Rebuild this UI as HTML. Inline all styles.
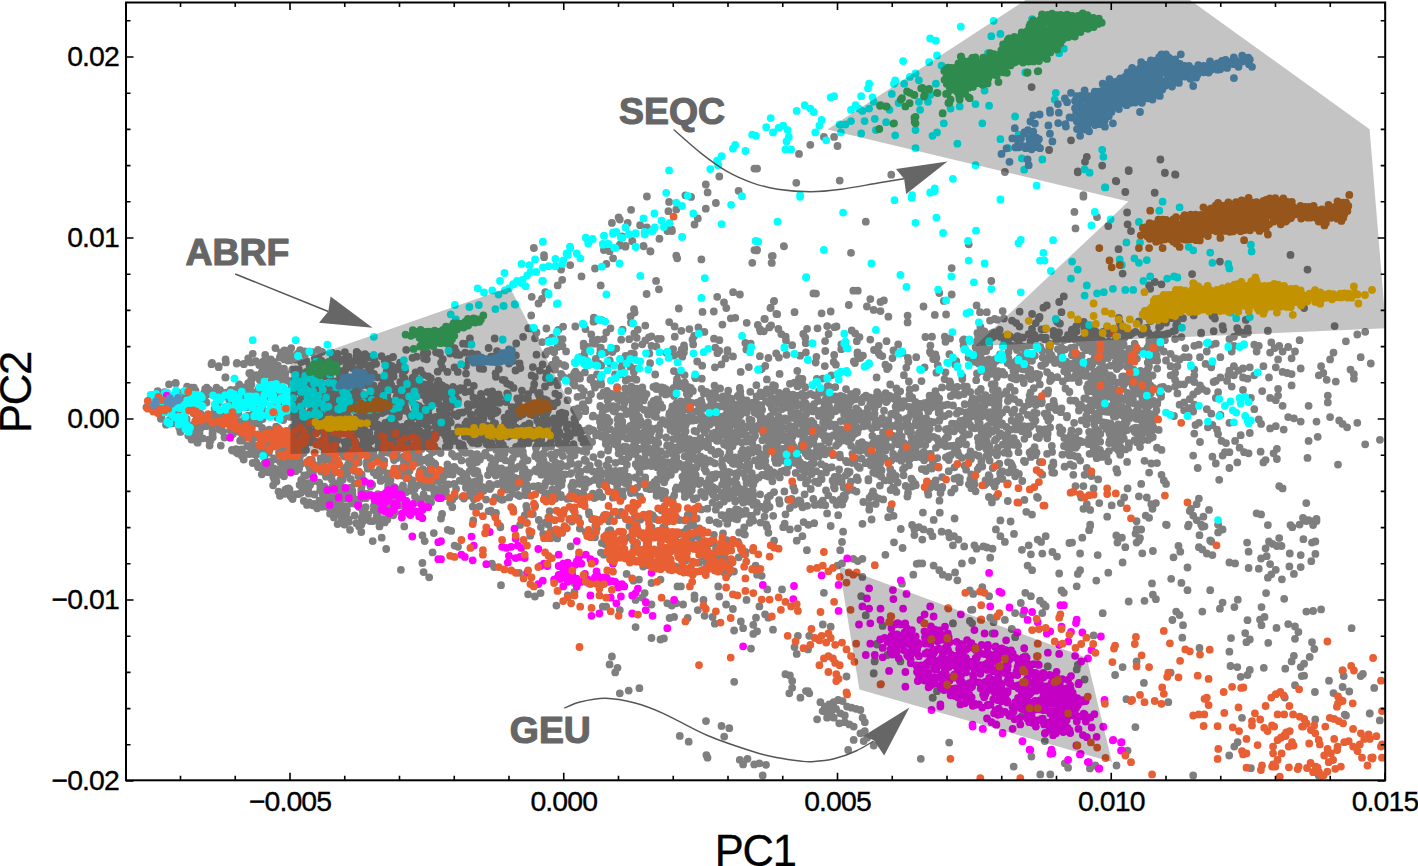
<!DOCTYPE html>
<html><head><meta charset="utf-8"><style>html,body{margin:0;padding:0;background:#fff;width:1418px;height:866px;overflow:hidden}</style></head>
<body><svg width="1418" height="866" viewBox="0 0 1418 866" style="position:absolute;left:0;top:0"><defs><clipPath id="c"><rect x="126" y="2.5" width="1259.2" height="777.8"/></clipPath></defs><g clip-path="url(#c)" stroke-linecap="round" stroke-width="7.8" fill="none"><path stroke="#7f7f7f" d="M337.0 362.7h0M302.7 414.0h0M315.0 419.4h0M398.8 400.7h0M333.4 415.2h0M306.2 361.0h0M345.8 424.8h0M236.6 452.5h0M278.0 402.5h0M379.7 472.3h0M360.4 400.4h0M188.3 435.6h0M370.8 450.3h0M403.9 404.9h0M350.2 454.0h0M315.8 429.8h0M393.3 515.3h0M284.3 466.2h0M387.9 399.8h0M258.0 467.0h0M181.5 393.3h0M387.1 501.2h0M226.0 422.7h0M428.4 376.4h0M195.5 390.6h0M212.5 434.9h0M318.6 396.0h0M253.0 449.1h0M427.0 470.8h0M296.6 458.1h0M344.5 359.4h0M411.1 486.5h0M403.6 489.6h0M259.9 419.8h0M173.2 413.6h0M326.0 376.0h0M218.2 410.8h0M281.9 434.7h0M245.1 396.3h0M390.0 378.3h0M300.4 375.7h0M304.9 354.7h0M400.3 471.8h0M220.8 414.2h0M301.7 486.3h0M241.2 389.0h0M384.8 522.4h0M397.1 491.1h0M386.9 479.5h0M210.6 440.6h0M151.3 398.9h0M428.0 428.3h0M427.6 413.8h0M208.7 389.7h0M329.0 507.6h0M393.4 433.9h0M337.6 489.9h0M414.1 486.9h0M366.5 433.7h0M432.6 419.3h0M359.0 379.8h0M412.6 491.1h0M435.1 465.0h0M247.4 446.0h0M432.3 463.7h0M389.2 386.9h0M218.0 401.3h0M220.3 423.3h0M248.4 430.2h0M292.5 443.1h0M299.0 353.3h0M274.2 382.0h0M194.4 432.9h0M359.1 447.4h0M240.1 440.7h0M308.5 487.2h0M217.1 398.5h0M373.1 438.8h0M310.4 483.0h0M414.9 427.6h0M325.5 438.5h0M295.6 471.2h0M277.8 443.3h0M351.4 503.4h0M423.8 395.4h0M393.3 374.0h0M179.2 427.4h0M164.6 392.1h0M376.6 507.0h0M339.8 375.0h0M261.7 435.3h0M438.0 495.7h0M191.1 425.5h0M296.7 409.3h0M201.3 405.7h0M358.2 353.4h0M308.1 427.1h0M148.4 408.0h0M328.9 439.6h0M377.9 520.0h0M174.2 396.5h0M387.1 395.3h0M313.0 472.6h0M348.1 424.4h0M332.1 490.3h0M278.2 409.4h0M300.0 391.7h0M236.0 403.4h0M369.3 400.7h0M292.0 381.1h0M361.5 446.4h0M199.5 433.1h0M387.0 425.6h0M290.5 496.1h0M260.1 438.7h0M347.9 521.9h0M353.6 461.3h0M263.6 410.8h0M402.4 467.3h0M227.0 392.4h0M230.3 430.4h0M189.9 428.0h0M432.8 445.7h0M235.2 412.4h0M284.4 438.0h0M202.9 438.3h0M169.7 419.9h0M233.7 390.7h0M317.5 442.6h0M366.7 465.1h0M356.4 503.8h0M259.1 407.1h0M358.8 462.6h0M408.8 459.8h0M361.7 492.1h0M293.3 496.1h0M382.8 494.6h0M317.1 506.2h0M346.5 471.3h0M182.7 413.1h0M309.4 459.9h0M329.6 469.1h0M288.8 350.6h0M380.7 480.9h0M292.9 443.7h0M339.5 361.6h0M362.6 394.1h0M165.2 396.5h0M360.3 385.9h0M363.5 520.8h0M290.2 416.9h0M285.7 469.6h0M371.6 458.0h0M334.5 363.6h0M186.9 394.4h0M364.5 403.3h0M312.2 352.2h0M161.1 397.0h0M343.3 471.1h0M344.4 400.9h0M296.9 431.3h0M282.0 370.7h0M409.3 384.9h0M387.3 519.4h0M276.9 397.0h0M387.4 439.0h0M407.3 473.1h0M287.9 354.3h0M277.3 402.8h0M184.9 410.2h0M393.1 371.0h0M419.1 474.8h0M411.7 400.7h0M253.9 418.8h0M440.6 453.1h0M250.5 424.9h0M217.3 396.5h0M295.3 383.2h0M406.5 492.1h0M331.0 509.8h0M423.3 446.1h0M357.4 358.7h0M361.2 428.9h0M367.3 462.8h0M283.7 410.1h0M433.9 395.5h0M338.5 402.6h0M309.1 419.0h0M291.1 388.5h0M277.1 374.4h0M214.3 395.2h0M312.7 505.3h0M366.4 422.2h0M266.3 441.7h0M255.3 409.2h0M161.5 398.6h0M293.0 460.2h0M400.1 387.8h0M223.8 393.5h0M262.1 428.0h0M427.3 498.5h0M409.9 432.8h0M318.0 350.0h0M389.0 499.7h0M432.7 393.5h0M298.7 469.4h0M423.6 476.3h0M335.9 483.8h0M279.3 446.5h0M335.4 403.2h0M181.1 394.1h0M332.6 472.3h0M299.3 452.0h0M258.6 389.1h0M322.1 351.8h0M232.9 430.6h0M428.8 462.8h0M406.4 433.2h0M213.0 393.2h0M429.3 473.3h0M291.5 468.0h0M268.2 395.0h0M341.9 511.9h0M243.7 423.6h0M346.4 384.7h0M380.5 479.3h0M293.5 385.9h0M432.0 404.6h0M387.4 390.4h0M290.7 382.8h0M209.6 423.0h0M341.3 516.0h0M186.6 418.9h0M160.9 418.8h0M410.7 504.6h0M361.4 524.6h0M420.6 407.6h0M365.4 355.6h0M341.0 416.3h0M254.4 408.0h0M226.4 411.5h0M430.4 386.3h0M388.0 425.7h0M200.5 413.7h0M371.5 357.1h0M417.2 395.0h0M365.7 507.2h0M244.0 397.7h0M428.4 458.0h0M237.3 398.2h0M416.1 460.9h0M212.7 433.2h0M258.2 393.9h0M271.1 436.4h0M419.6 382.0h0M382.2 479.2h0M388.2 485.2h0M324.0 407.4h0M238.2 413.3h0M376.1 363.8h0M354.5 428.2h0M212.8 422.9h0M327.9 468.0h0M365.9 498.2h0M341.0 371.2h0M393.6 401.4h0M311.9 415.3h0M362.9 384.9h0M216.7 392.9h0M315.3 407.1h0M294.2 390.5h0M383.9 464.3h0M284.5 493.3h0M393.5 510.0h0M155.0 401.4h0M432.9 452.1h0M420.2 415.1h0M401.1 428.6h0M320.7 458.5h0M207.9 414.5h0M337.2 385.6h0M146.4 407.3h0M345.1 382.4h0M380.0 445.9h0M260.8 446.3h0M333.5 366.0h0M265.1 399.6h0M236.1 449.1h0M249.4 422.9h0M251.4 384.5h0M360.0 385.6h0M280.4 378.4h0M333.9 509.2h0M253.5 438.3h0M186.5 399.6h0M382.8 519.2h0M286.9 359.3h0M419.0 417.9h0M412.5 458.6h0M388.7 378.0h0M377.2 388.9h0M390.1 382.0h0M208.0 420.0h0M297.3 417.1h0M179.7 393.2h0M359.0 507.0h0M368.7 356.7h0M392.8 370.6h0M321.7 446.3h0M329.9 403.6h0M268.2 452.0h0M269.9 465.3h0M276.1 426.7h0M288.9 391.2h0M370.5 486.5h0M279.6 381.4h0M284.0 368.7h0M181.3 425.4h0M295.0 357.1h0M332.7 364.4h0M361.6 486.1h0M295.4 359.5h0M293.2 416.1h0M361.2 492.6h0M416.0 378.9h0M377.9 512.9h0M162.5 411.4h0M368.3 377.8h0M410.2 398.1h0M386.1 375.1h0M205.1 396.0h0M293.8 405.8h0M345.5 506.7h0M332.6 413.0h0M403.1 447.2h0M315.9 504.4h0M330.7 419.0h0M380.7 396.3h0M438.2 451.0h0M274.8 380.9h0M364.6 358.5h0M387.3 394.4h0M317.6 466.1h0M326.6 425.6h0M337.6 353.9h0M174.7 412.5h0M318.5 385.7h0M328.9 433.1h0M402.6 486.9h0M262.8 396.2h0M310.6 411.3h0M335.4 427.7h0M422.3 478.4h0M264.0 391.6h0M423.4 374.9h0M294.1 462.3h0M385.4 380.6h0M235.2 402.5h0M376.3 475.2h0M365.1 431.4h0M364.0 429.2h0M350.1 497.9h0M355.1 396.5h0M308.0 426.3h0M378.0 441.6h0M430.6 388.0h0M220.6 391.3h0M364.7 515.3h0M365.4 407.2h0M405.3 407.5h0M330.9 471.2h0M341.2 521.3h0M350.9 500.1h0M273.3 476.8h0M313.0 403.9h0M349.4 460.9h0M350.7 478.9h0M387.2 506.0h0M395.6 492.1h0M332.0 494.4h0M331.2 400.3h0M368.7 385.9h0M238.1 424.2h0M252.7 406.1h0M430.3 438.2h0M396.7 458.2h0M273.1 485.3h0M303.3 387.9h0M399.9 365.9h0M387.3 379.8h0M370.1 521.1h0M289.5 489.4h0M198.0 436.6h0M351.4 437.2h0M350.8 487.7h0M330.1 412.2h0M262.6 419.1h0M204.4 396.1h0M411.6 437.7h0M212.6 430.7h0M301.4 482.0h0M367.4 463.1h0M246.8 407.2h0M340.3 479.8h0M193.5 426.8h0M373.5 451.4h0M180.6 430.9h0M406.8 391.6h0M200.1 402.8h0M352.5 497.6h0M216.8 407.1h0M298.6 378.2h0M433.6 477.5h0M173.3 417.2h0M436.2 489.1h0M361.5 426.1h0M349.6 437.6h0M331.4 431.1h0M413.6 425.3h0M314.0 481.1h0M268.5 390.0h0M358.2 504.0h0M373.7 472.5h0M397.0 468.9h0M334.2 429.4h0M172.2 423.4h0M376.1 474.8h0M330.6 393.8h0M269.2 429.7h0M328.2 421.6h0M344.2 512.8h0M374.9 418.0h0M423.3 440.9h0M304.2 475.5h0M295.6 461.9h0M390.0 441.3h0M224.8 419.9h0M268.3 472.2h0M247.9 396.4h0M423.1 442.2h0M259.8 387.1h0M384.3 461.0h0M282.8 448.4h0M387.0 492.8h0M282.5 401.5h0M306.4 371.9h0M391.5 412.1h0M396.5 396.8h0M255.1 394.4h0M270.0 382.5h0M226.8 392.9h0M232.9 433.9h0M270.7 461.5h0M339.5 413.4h0M419.8 499.5h0M412.9 487.2h0M331.7 352.6h0M338.5 393.8h0M412.4 488.5h0M324.3 486.7h0M342.2 506.4h0M377.8 496.8h0M301.2 479.8h0M308.4 396.3h0M289.9 360.2h0M282.2 375.3h0M289.4 437.2h0M303.8 501.0h0M282.5 448.4h0M341.3 497.1h0M254.7 423.3h0M332.8 461.3h0M346.4 513.0h0M295.2 434.8h0M357.0 459.4h0M252.1 433.0h0M299.6 484.9h0M205.8 426.2h0M268.9 447.0h0M389.4 401.3h0M389.7 420.7h0M293.1 397.5h0M338.1 488.6h0M241.6 405.5h0M332.2 487.2h0M406.9 445.4h0M157.8 402.6h0M417.6 456.5h0M339.1 488.1h0M414.1 457.1h0M326.8 459.7h0M350.5 454.4h0M345.9 387.2h0M341.8 430.1h0M370.3 367.7h0M373.8 510.0h0M338.4 414.6h0M388.1 487.6h0M310.5 395.2h0M233.0 423.8h0M237.9 425.4h0M334.2 513.4h0M384.5 450.7h0M416.8 428.1h0M435.3 433.2h0M265.9 367.9h0M335.1 387.1h0M357.4 392.4h0M361.6 382.8h0M355.6 499.7h0M360.5 364.8h0M330.3 474.1h0M356.7 352.0h0M386.6 363.9h0M287.9 360.5h0M252.5 450.6h0M273.7 468.5h0M330.7 423.1h0M424.6 487.3h0M311.9 401.2h0M352.6 494.8h0M241.9 456.0h0M434.3 495.5h0M322.1 404.0h0M322.3 506.8h0M383.6 399.6h0M268.9 452.7h0M386.2 505.3h0M384.9 501.8h0M313.4 397.9h0M396.7 491.2h0M347.0 509.9h0M308.0 489.5h0M420.7 391.0h0M323.9 468.6h0M281.7 386.2h0M378.9 430.5h0M373.1 390.8h0M406.8 441.3h0M285.0 453.1h0M251.1 448.8h0M262.9 440.5h0M440.1 415.5h0M377.6 377.3h0M321.0 410.4h0M297.8 353.6h0M401.1 435.1h0M312.0 395.8h0M375.2 424.5h0M425.1 484.3h0M387.0 518.6h0M309.1 502.4h0M321.2 419.5h0M333.9 517.4h0M342.6 418.8h0M276.6 378.0h0M219.2 411.6h0M412.0 508.3h0M377.3 474.2h0M368.0 514.4h0M344.7 402.3h0M319.3 482.6h0M174.4 406.7h0M286.4 379.5h0M344.9 352.2h0M356.7 384.1h0M401.3 505.5h0M184.6 428.3h0M394.0 460.0h0M277.8 409.5h0M388.3 433.6h0M330.2 375.0h0M355.7 446.8h0M222.4 422.1h0M189.4 397.4h0M393.2 408.5h0M193.0 435.9h0M342.1 387.0h0M285.3 400.1h0M172.1 400.7h0M359.5 401.4h0M383.5 409.7h0M391.0 442.2h0M198.4 426.2h0M414.8 388.2h0M313.3 374.2h0M355.1 384.4h0M324.3 436.7h0M325.5 473.9h0M384.9 452.0h0M361.3 421.4h0M358.1 359.7h0M384.6 408.7h0M393.9 501.3h0M289.9 352.7h0M414.2 433.4h0M402.9 396.6h0M252.4 378.6h0M253.6 454.1h0M275.8 440.2h0M386.3 501.5h0M427.3 436.6h0M296.0 442.8h0M303.1 353.6h0M431.3 389.1h0M351.3 384.1h0M314.8 441.5h0M352.4 368.0h0M402.1 475.5h0M290.1 437.6h0M263.9 374.0h0M319.4 500.7h0M365.5 378.8h0M389.2 514.1h0M258.8 423.6h0M393.2 442.0h0M374.5 409.2h0M214.6 408.6h0M382.7 509.7h0M385.9 498.3h0M217.3 423.9h0M331.5 413.8h0M301.2 362.1h0M272.0 438.3h0M432.0 485.9h0M422.2 460.8h0M384.2 504.8h0M334.2 396.5h0M345.2 397.9h0M328.1 393.9h0M298.1 425.9h0M426.4 400.3h0M427.9 439.9h0M223.0 431.6h0M302.1 376.0h0M230.5 421.1h0M228.9 392.6h0M393.2 456.7h0M312.9 463.8h0M280.3 445.9h0M325.6 432.1h0M235.5 392.4h0M209.0 439.7h0M257.2 452.5h0M399.8 391.7h0M308.9 436.0h0M402.6 427.0h0M161.5 417.9h0M274.1 478.7h0M428.9 479.3h0M189.0 409.0h0M326.7 498.7h0M387.7 440.6h0M363.2 480.1h0M369.4 433.2h0M376.9 474.0h0M415.6 372.3h0M371.2 452.5h0M313.4 423.1h0M376.5 502.7h0M324.0 416.4h0M277.8 430.1h0M358.5 401.3h0M259.4 447.2h0M257.6 406.3h0M377.5 498.7h0M291.9 427.7h0M197.9 403.2h0M316.3 365.4h0M417.2 406.7h0M394.3 496.7h0M428.7 385.8h0M311.4 437.0h0M417.3 485.4h0M297.2 440.5h0M347.2 418.2h0M249.6 454.1h0M344.6 441.9h0M172.5 415.5h0M262.5 448.2h0M314.1 504.0h0M430.4 435.2h0M274.2 459.3h0M439.8 410.1h0M301.0 492.8h0M193.9 405.7h0M434.6 494.6h0M295.8 369.3h0M409.6 470.7h0M407.7 423.7h0M189.6 400.7h0M295.5 438.4h0M330.8 455.5h0M332.7 357.4h0M394.0 452.6h0M342.1 384.4h0M291.4 446.8h0M314.2 421.9h0M369.3 368.7h0M298.7 494.0h0M325.7 491.2h0M372.6 406.5h0M356.2 411.9h0M193.5 396.7h0M316.5 411.1h0M277.1 417.5h0M274.0 458.5h0M420.4 499.6h0M386.1 403.1h0M215.4 418.2h0M357.1 388.7h0M287.3 488.7h0M249.8 382.6h0M432.5 400.9h0M310.3 370.1h0M302.1 417.5h0M263.2 361.5h0M247.7 392.9h0M200.0 399.6h0M341.0 409.7h0M170.6 397.2h0M391.8 372.4h0M382.9 377.9h0M293.4 389.8h0M277.9 372.9h0M353.5 395.6h0M411.1 452.8h0M252.7 393.1h0M324.2 387.2h0M403.0 371.5h0M295.9 445.0h0M257.7 465.1h0M312.2 404.4h0M259.2 365.1h0M250.7 437.6h0M235.8 389.6h0M227.1 420.6h0M413.9 485.6h0M406.1 500.7h0M182.4 398.4h0M340.8 411.5h0M265.9 465.3h0M351.4 393.5h0M395.3 411.6h0M330.4 381.8h0M361.7 474.7h0M233.3 416.6h0M154.7 404.4h0M333.2 381.4h0M393.2 449.8h0M356.6 394.6h0M272.6 469.8h0M391.6 485.9h0M397.5 456.3h0M366.4 365.1h0M350.0 418.9h0M365.8 495.0h0M425.0 424.2h0M420.2 471.0h0M363.1 495.2h0M330.2 429.2h0M270.6 439.6h0M370.1 357.6h0M352.4 491.0h0M220.8 445.6h0M431.9 461.6h0M305.1 393.7h0M160.7 412.6h0M265.7 385.2h0M353.7 467.3h0M213.9 392.3h0M296.6 427.9h0M421.9 411.5h0M306.4 483.1h0M321.4 430.7h0M371.3 495.5h0M177.1 400.6h0M250.4 386.1h0M161.0 399.2h0M276.5 369.8h0M239.7 432.0h0M251.2 379.4h0M438.7 481.3h0M435.1 448.6h0M272.4 383.2h0M304.8 351.5h0M417.0 462.8h0M330.1 513.7h0M337.5 394.0h0M393.2 401.9h0M395.0 512.2h0M390.5 479.9h0M388.9 406.0h0M252.8 446.4h0M311.9 459.9h0M387.3 473.5h0M290.3 437.4h0M189.9 402.4h0M316.2 364.0h0M348.0 378.6h0M274.0 383.4h0M393.6 499.7h0M377.5 424.5h0M296.4 423.7h0M243.9 426.8h0M341.5 494.6h0M412.4 378.8h0M231.1 427.6h0M310.9 410.9h0M239.5 430.6h0M429.6 458.5h0M384.7 360.5h0M344.6 456.6h0M426.9 434.1h0M335.9 402.4h0M345.2 428.3h0M253.9 451.6h0M267.1 442.7h0M311.3 419.4h0M408.2 445.9h0M301.2 394.0h0M288.8 447.0h0M318.4 364.0h0M264.6 362.9h0M307.1 475.1h0M368.6 370.1h0M438.2 476.3h0M259.8 380.0h0M429.1 448.5h0M373.9 373.9h0M374.3 360.1h0M213.6 415.2h0M206.5 402.5h0M353.8 424.5h0M407.8 458.7h0M402.9 448.5h0M416.4 502.4h0M345.8 494.5h0M179.6 415.3h0M362.7 515.9h0M358.1 357.6h0M322.9 367.4h0M306.6 490.5h0M344.2 394.6h0M200.6 428.2h0M392.8 451.7h0M256.5 375.2h0M403.9 444.2h0M348.5 491.4h0M381.5 356.2h0M345.5 418.7h0M284.8 377.7h0M394.8 418.8h0M403.2 456.9h0M165.6 407.6h0M318.6 357.6h0M193.6 413.2h0M282.4 451.0h0M258.6 411.9h0M343.0 397.7h0M224.5 437.5h0M310.1 484.9h0M403.0 485.5h0M331.7 461.1h0M251.1 399.3h0M380.0 502.7h0M422.7 469.2h0M363.4 439.1h0M332.3 411.3h0M307.1 421.0h0M161.0 409.0h0M286.5 414.3h0M215.5 391.1h0M278.0 428.0h0M312.5 402.9h0M232.8 404.0h0M359.5 446.5h0M422.4 409.6h0M417.5 452.1h0M410.9 398.3h0M192.0 396.9h0M352.9 388.2h0M262.1 385.1h0M322.7 501.2h0M336.1 384.4h0M361.7 518.5h0M322.1 363.9h0M384.2 503.2h0M403.9 462.0h0M418.0 387.1h0M336.4 420.9h0M345.3 409.1h0M242.7 436.5h0M321.2 395.0h0M281.1 352.4h0M418.7 448.7h0M326.0 476.7h0M371.6 365.7h0M385.6 424.1h0M303.5 453.0h0M308.4 465.0h0M322.3 407.9h0M363.8 395.1h0M355.0 483.6h0M374.2 404.1h0M373.2 521.0h0M278.0 398.7h0M284.8 464.7h0M373.7 413.4h0M437.9 389.9h0M368.5 365.7h0M308.5 381.8h0M423.0 414.0h0M362.8 511.3h0M374.9 392.5h0M435.7 437.3h0M332.6 410.2h0M381.6 430.5h0M424.6 459.7h0M209.8 394.1h0M221.2 425.9h0M369.2 462.5h0M402.0 396.8h0M367.0 494.0h0M227.2 408.0h0M321.1 429.3h0M315.6 504.5h0M400.3 381.9h0M346.5 365.8h0M356.5 504.3h0M348.5 356.6h0M293.4 390.5h0M271.3 368.4h0M183.5 425.0h0M292.2 369.7h0M248.4 436.8h0M416.8 411.2h0M406.2 478.0h0M264.6 447.4h0M348.1 464.3h0M305.1 446.0h0M348.7 521.9h0M403.5 475.6h0M262.0 405.7h0M258.3 417.4h0M265.2 375.0h0M255.3 392.1h0M394.2 487.2h0M349.9 406.8h0M335.6 446.1h0M397.3 439.3h0M364.5 416.3h0M355.2 418.9h0M299.8 457.2h0M344.8 406.4h0M330.4 445.0h0M284.0 476.3h0M298.6 433.4h0M419.3 442.5h0M299.1 442.3h0M385.4 391.8h0M280.2 462.1h0M389.6 506.5h0M386.7 371.5h0M188.8 394.0h0M173.6 412.4h0M382.4 441.2h0M277.9 365.4h0M350.1 428.6h0M285.5 489.7h0M369.1 376.2h0M345.7 414.2h0M298.2 391.6h0M253.5 409.5h0M357.0 398.1h0M239.6 392.3h0M391.6 366.0h0M332.6 500.3h0M203.1 424.1h0M379.1 458.1h0M274.9 414.3h0M355.3 401.7h0M264.6 463.4h0M384.6 411.7h0M257.8 451.3h0M418.6 383.5h0M432.5 474.6h0M368.3 416.4h0M299.7 436.9h0M411.6 482.5h0M280.8 430.9h0M393.2 422.6h0M274.1 436.0h0M295.5 494.3h0M342.8 479.6h0M345.6 446.9h0M372.2 484.7h0M367.5 448.8h0M354.9 434.5h0M267.5 452.2h0M440.4 492.9h0M402.8 375.5h0M242.6 440.7h0M224.9 395.9h0M236.3 394.6h0M398.9 447.2h0M295.3 423.5h0M158.2 403.3h0M401.3 490.3h0M398.3 395.0h0M303.0 415.4h0M281.3 435.6h0M317.0 414.0h0M381.8 385.0h0M417.0 447.3h0M158.2 405.0h0M301.9 421.6h0M311.3 406.6h0M382.1 453.6h0M333.5 358.6h0M400.1 362.6h0M320.7 381.5h0M417.9 448.2h0M381.6 437.2h0M343.8 468.1h0M392.8 375.5h0M416.5 386.2h0M376.7 516.4h0M266.6 465.3h0M347.4 377.1h0M230.5 390.7h0M316.5 405.8h0M310.1 376.9h0M414.7 406.8h0M393.7 376.6h0M381.2 521.5h0M256.2 462.1h0M209.6 445.5h0M360.0 425.2h0M345.3 370.0h0M389.9 371.4h0M422.9 442.1h0M229.6 410.9h0M366.6 436.9h0M321.1 444.6h0M394.9 389.8h0M338.6 358.8h0M242.3 428.7h0M309.6 366.7h0M307.4 487.9h0M320.5 430.7h0M248.2 415.6h0M340.6 378.7h0M403.3 434.0h0M405.0 370.5h0M290.8 443.8h0M294.0 414.2h0M201.9 420.7h0M288.5 488.4h0M313.0 470.6h0M188.8 396.2h0M297.4 401.1h0M315.4 390.9h0M320.4 487.2h0M354.8 360.9h0M327.2 471.1h0M385.8 409.9h0M384.5 430.8h0M423.2 422.1h0M264.3 365.4h0M345.3 376.5h0M440.2 488.5h0M286.0 437.0h0M375.2 508.9h0M366.9 461.4h0M395.0 487.7h0M430.8 467.7h0M365.2 373.6h0M389.9 514.0h0M412.6 480.4h0M391.1 490.4h0M318.9 426.2h0M388.9 487.3h0M402.5 402.3h0M429.4 443.0h0M431.6 487.8h0M279.5 391.4h0M347.2 474.3h0M379.5 469.5h0M423.6 494.5h0M264.1 365.2h0M337.4 496.3h0M244.2 454.1h0M392.2 488.8h0M385.1 423.3h0M323.2 430.1h0M243.0 387.4h0M327.5 401.1h0M169.2 397.4h0M352.0 427.4h0M340.0 491.2h0M197.9 397.5h0M428.4 413.4h0M324.9 506.4h0M260.5 437.4h0M427.8 438.7h0M437.6 383.2h0M390.5 378.4h0M300.1 350.1h0M278.5 491.6h0M217.7 411.7h0M400.0 439.9h0M409.4 466.6h0M331.3 415.8h0M298.6 468.4h0M413.3 437.2h0M346.7 447.5h0M276.4 481.4h0M408.6 477.6h0M366.4 356.1h0M427.0 506.0h0M314.9 358.2h0M334.2 399.2h0M370.2 401.0h0M305.2 423.6h0M434.5 463.5h0M382.9 468.4h0M354.5 470.9h0M314.4 494.5h0M379.5 410.8h0M404.5 378.4h0M363.0 379.9h0M231.7 417.0h0M198.8 404.1h0M424.2 384.5h0M238.6 426.7h0M175.3 395.5h0M260.4 417.5h0M430.2 396.7h0M332.9 486.3h0M368.6 432.3h0M309.5 467.4h0M367.3 398.2h0M300.7 400.5h0M330.8 395.5h0M372.9 357.2h0M389.3 449.1h0M222.1 392.6h0M367.6 468.7h0M176.2 403.7h0M331.9 471.1h0M373.8 419.0h0M423.2 479.9h0M244.8 418.7h0M383.1 411.2h0M301.5 441.2h0M342.5 507.8h0M182.8 409.3h0M292.6 499.1h0M342.0 451.1h0M263.3 450.4h0M378.0 496.7h0M367.7 437.6h0M410.7 507.3h0M364.4 493.7h0M336.4 503.8h0M352.7 457.2h0M322.8 494.2h0M344.5 520.6h0M382.0 413.0h0M351.4 362.6h0M392.9 406.9h0M184.4 398.1h0M308.4 491.3h0M330.6 409.5h0M241.6 449.5h0M384.0 444.0h0M269.3 361.0h0M330.7 476.8h0M317.3 420.0h0M295.6 453.0h0M439.7 490.7h0M429.5 407.6h0M285.4 373.4h0M278.3 469.5h0M354.1 429.6h0M263.1 399.5h0M296.8 426.8h0M201.6 396.5h0M310.0 472.7h0M433.0 480.8h0M358.3 475.9h0M358.2 460.3h0M221.6 412.2h0M438.5 403.5h0M382.7 429.6h0M414.7 489.1h0M284.9 493.8h0M310.9 438.9h0M205.4 394.1h0M354.6 515.4h0M435.2 426.4h0M361.3 417.2h0M384.9 497.2h0M390.4 487.6h0M281.2 357.6h0M407.9 443.5h0M164.2 406.6h0M329.1 504.9h0M287.4 461.9h0M204.3 392.6h0M412.9 417.0h0M279.0 452.5h0M332.6 473.7h0M274.0 361.8h0M358.9 359.4h0M283.3 420.0h0M343.5 474.9h0M349.2 432.5h0M321.5 361.0h0M211.2 418.7h0M377.8 494.2h0M331.9 479.8h0M433.9 490.5h0M420.2 461.8h0M416.9 396.0h0M368.6 368.2h0M433.0 474.2h0M191.5 439.6h0M408.1 510.4h0M308.7 493.7h0M292.7 458.5h0M320.2 489.9h0M305.6 400.9h0M365.0 354.2h0M390.2 492.0h0M279.5 371.4h0M336.7 386.2h0M270.9 369.3h0M434.0 445.6h0M360.6 498.7h0M395.8 367.7h0M252.5 403.0h0M370.2 375.9h0M349.4 454.8h0M298.0 429.7h0M264.4 456.9h0M336.3 510.4h0M361.3 489.4h0M415.0 496.5h0M356.6 355.4h0M345.9 498.7h0M274.6 473.6h0M218.3 402.6h0M246.8 406.8h0M435.3 464.5h0M420.8 483.4h0M367.3 398.0h0M217.4 422.2h0M407.1 511.2h0M373.9 505.7h0M379.8 443.1h0M252.4 444.0h0M430.8 378.2h0M301.2 463.7h0M348.6 519.3h0M356.3 523.2h0M195.5 426.6h0M347.7 470.9h0M365.3 481.8h0M217.0 395.0h0M205.3 395.4h0M430.4 462.6h0M319.2 464.8h0M321.2 471.6h0M431.9 470.3h0M233.3 421.6h0M348.5 427.9h0M360.0 366.6h0M420.8 409.9h0M390.0 389.6h0M397.8 490.5h0M342.9 398.6h0M412.7 377.7h0M339.5 452.7h0M340.0 381.6h0M435.8 417.0h0M337.4 449.7h0M218.0 414.1h0M298.9 369.5h0M228.0 416.6h0M370.9 389.2h0M257.5 413.9h0M334.1 432.6h0M340.8 496.4h0M273.6 370.3h0M280.1 474.5h0M285.9 380.4h0M211.8 427.0h0M250.6 432.1h0M422.1 447.1h0M364.8 448.5h0M398.7 369.3h0M424.2 441.8h0M400.7 387.2h0M167.8 396.4h0M418.4 430.7h0M360.9 363.0h0M278.0 405.6h0M436.3 434.3h0M337.6 440.1h0M363.7 444.0h0M212.8 437.3h0M323.3 463.9h0M424.8 479.6h0M398.5 414.4h0M412.0 381.8h0M273.8 374.6h0M262.8 468.8h0M212.5 433.5h0M328.1 387.9h0M391.5 385.3h0M440.9 429.9h0M238.9 421.2h0M219.8 429.5h0M310.4 474.6h0M184.0 392.1h0M298.6 451.7h0M317.5 429.2h0M340.2 500.5h0M428.2 397.1h0M423.7 421.4h0M229.3 400.6h0M431.1 502.3h0M268.2 442.6h0M395.9 491.2h0M337.7 439.7h0M177.7 392.7h0M339.1 452.6h0M381.7 507.3h0M429.8 383.7h0M313.0 381.8h0M349.2 394.7h0M213.5 414.1h0M299.1 468.5h0M329.0 432.5h0M343.3 489.9h0M345.0 474.1h0M336.0 381.5h0M428.6 487.5h0M212.4 425.4h0M428.5 386.3h0M411.2 390.7h0M362.1 412.9h0M340.7 484.2h0M481.2 407.8h0M508.7 413.3h0M452.2 397.0h0M568.9 432.6h0M465.5 452.8h0M553.0 468.1h0M682.5 484.4h0M502.8 475.8h0M535.8 412.0h0M708.6 489.4h0M445.7 446.9h0M495.6 467.0h0M442.2 408.7h0M524.5 468.9h0M477.0 496.8h0M546.6 445.3h0M541.9 432.2h0M458.3 390.5h0M492.2 391.4h0M637.6 467.1h0M523.8 479.0h0M457.1 399.2h0M692.1 480.2h0M470.7 453.3h0M501.3 468.5h0M694.3 478.9h0M484.5 404.1h0M522.4 432.9h0M608.9 470.6h0M450.7 470.5h0M510.6 416.4h0M642.5 466.4h0M634.6 492.7h0M505.5 418.9h0M490.6 408.3h0M684.0 483.4h0M540.4 470.1h0M458.5 456.2h0M734.5 489.7h0M478.7 443.3h0M463.1 428.4h0M541.2 439.6h0M665.4 476.3h0M558.1 435.9h0M733.2 496.7h0M584.6 459.6h0M750.1 493.7h0M481.6 438.2h0M462.6 473.8h0M468.0 429.2h0M457.1 416.0h0M492.7 446.5h0M495.7 475.6h0M575.1 422.3h0M479.8 410.4h0M522.8 472.6h0M721.9 493.0h0M587.5 469.5h0M502.0 499.8h0M474.7 481.7h0M547.7 411.0h0M521.4 438.7h0M495.4 473.1h0M548.6 403.4h0M572.8 482.7h0M444.3 475.4h0M632.1 492.4h0M708.3 482.4h0M524.8 425.7h0M559.0 424.1h0M512.6 493.7h0M570.3 459.5h0M720.5 474.4h0M518.0 494.9h0M670.3 474.4h0M706.8 486.0h0M456.1 488.8h0M547.9 477.9h0M687.4 488.7h0M508.4 422.6h0M463.3 388.5h0M586.6 430.2h0M693.8 499.3h0M538.6 459.0h0M539.1 489.2h0M626.1 483.7h0M572.2 490.1h0M555.1 425.4h0M480.3 494.3h0M452.0 453.9h0M577.2 469.7h0M606.0 482.6h0M511.0 473.1h0M577.5 427.6h0M664.6 496.2h0M504.5 417.7h0M544.6 471.5h0M499.8 448.4h0M598.6 463.6h0M486.1 499.6h0M680.3 488.6h0M554.9 495.5h0M599.3 492.3h0M724.6 499.4h0M601.9 496.6h0M639.8 480.4h0M574.5 455.3h0M522.6 414.5h0M573.4 444.2h0M442.8 422.5h0M666.8 473.5h0M515.7 412.0h0M630.9 493.0h0M504.6 453.2h0M668.0 473.7h0M665.3 468.8h0M526.8 484.8h0M485.8 437.5h0M546.9 475.8h0M518.2 404.9h0M491.8 431.3h0M492.0 407.3h0M467.8 404.1h0M540.5 443.1h0M498.8 440.0h0M594.2 498.1h0M568.1 424.3h0M574.9 424.0h0M489.0 488.0h0M552.7 458.7h0M577.3 417.3h0M615.6 462.8h0M672.5 498.7h0M486.8 425.7h0M709.2 478.9h0M626.9 464.7h0M548.1 498.1h0M498.5 394.4h0M723.7 480.1h0M449.4 420.4h0M592.1 442.0h0M555.5 491.9h0M551.2 446.5h0M562.9 456.1h0M557.7 428.5h0M555.3 494.1h0M545.7 482.7h0M491.5 466.2h0M447.9 404.1h0M459.7 480.7h0M487.3 408.5h0M459.1 413.0h0M672.0 470.0h0M727.8 498.4h0M614.5 495.2h0M469.2 495.6h0M676.6 487.3h0M716.0 474.2h0M453.0 387.0h0M476.4 400.3h0M498.0 456.2h0M577.9 428.9h0M520.8 409.1h0M497.7 399.0h0M551.6 472.1h0M459.6 446.3h0M579.5 478.9h0M547.1 429.5h0M738.2 487.4h0M485.9 401.9h0M561.7 466.3h0M442.4 480.3h0M442.8 479.8h0M571.4 463.7h0M620.5 471.0h0M742.0 496.1h0M559.6 413.6h0M725.7 479.0h0M689.3 482.7h0M541.3 474.7h0M523.6 456.4h0M490.9 487.2h0M488.0 475.1h0M621.6 493.4h0M528.1 394.2h0M471.7 441.7h0M557.7 495.0h0M575.4 451.5h0M695.7 474.8h0M584.7 487.9h0M567.4 498.8h0M519.5 481.9h0M451.5 439.7h0M468.4 486.4h0M587.3 438.6h0M667.4 471.1h0M549.1 496.6h0M499.4 397.1h0M499.6 442.5h0M546.9 400.5h0M472.0 494.2h0M586.9 482.9h0M744.0 495.4h0M491.6 465.5h0M493.8 397.1h0M589.1 441.6h0M525.4 426.0h0M615.5 475.2h0M743.3 502.7h0M485.2 452.8h0M450.0 405.6h0M480.1 415.5h0M555.1 498.7h0M554.5 455.6h0M656.5 495.8h0M456.5 433.3h0M572.0 492.8h0M626.7 483.0h0M445.1 405.3h0M497.5 484.0h0M473.0 496.5h0M525.2 490.1h0M475.8 473.3h0M526.2 398.5h0M555.7 462.7h0M554.1 492.5h0M521.3 397.7h0M490.8 398.7h0M626.4 480.1h0M491.4 442.9h0M571.0 447.9h0M445.8 387.3h0M574.1 409.6h0M470.2 439.7h0M563.1 421.9h0M652.1 484.3h0M583.6 442.9h0M466.9 421.5h0M469.0 461.1h0M574.4 418.6h0M602.3 497.1h0M518.0 399.3h0M537.2 420.5h0M455.3 395.3h0M490.3 458.1h0M459.4 443.4h0M674.9 469.6h0M511.2 429.8h0M546.5 413.3h0M567.2 466.1h0M463.2 447.9h0M753.0 495.0h0M472.5 442.8h0M735.2 481.8h0M657.0 467.2h0M455.2 469.4h0M624.6 470.4h0M550.6 466.9h0M556.5 469.0h0M469.8 470.8h0M489.9 489.0h0M560.9 463.9h0M442.1 385.3h0M552.4 489.3h0M727.3 478.3h0M502.9 444.8h0M558.7 443.8h0M528.4 442.9h0M683.6 468.0h0M519.4 495.7h0M532.5 430.3h0M664.2 482.3h0M593.0 471.4h0M508.1 436.5h0M553.8 418.3h0M554.2 474.3h0M514.6 478.0h0M647.2 464.5h0M641.1 466.7h0M691.6 472.1h0M526.0 440.9h0M665.3 491.9h0M708.4 488.5h0M579.4 432.7h0M498.8 399.7h0M529.5 495.3h0M709.3 491.3h0M478.6 492.8h0M579.5 429.7h0M447.4 428.8h0M558.1 475.2h0M545.9 464.9h0M447.4 464.3h0M504.1 486.9h0M543.5 460.5h0M479.5 406.6h0M539.1 432.1h0M555.4 492.8h0M516.7 487.1h0M517.7 453.4h0M691.9 481.3h0M525.8 477.0h0M458.1 427.5h0M512.8 458.1h0M686.0 485.3h0M522.9 474.1h0M469.6 437.7h0M470.5 391.4h0M557.2 434.1h0M558.1 487.6h0M507.0 489.7h0M553.7 421.9h0M477.0 462.1h0M544.5 485.6h0M547.7 432.2h0M567.6 400.2h0M649.7 463.1h0M581.6 430.7h0M514.3 478.7h0M585.0 484.0h0M559.1 471.7h0M450.1 407.5h0M495.5 460.7h0M593.3 457.1h0M483.4 418.6h0M635.3 477.5h0M580.4 483.8h0M619.5 474.1h0M555.7 436.1h0M746.5 482.8h0M735.2 501.5h0M446.0 491.3h0M579.6 483.8h0M449.2 422.1h0M461.8 389.0h0M491.3 416.6h0M528.8 495.0h0M726.2 488.8h0M732.8 481.3h0M469.8 495.6h0M503.0 499.5h0M529.6 473.1h0M511.6 407.2h0M449.4 474.2h0M675.7 489.5h0M553.4 406.2h0M550.4 471.5h0M600.6 478.4h0M503.3 470.3h0M552.3 481.6h0M470.7 414.5h0M559.7 452.3h0M509.6 434.7h0M441.6 479.8h0M521.0 483.8h0M712.8 478.3h0M654.6 481.9h0M578.6 464.2h0M472.7 431.5h0M510.7 488.3h0M498.6 452.2h0M500.8 439.4h0M599.7 484.6h0M446.3 496.2h0M621.4 461.0h0M558.1 440.0h0M461.5 460.4h0M614.5 471.6h0M472.8 484.9h0M535.5 437.7h0M558.0 478.6h0M660.6 477.5h0M452.6 474.6h0M570.7 496.4h0M564.6 419.1h0M463.9 498.5h0M578.7 476.1h0M497.1 430.8h0M586.3 451.9h0M518.2 449.7h0M557.2 490.1h0M482.3 417.5h0M665.5 471.0h0M505.4 460.3h0M647.9 462.2h0M447.9 435.2h0M543.4 454.7h0M612.9 481.0h0M477.4 471.4h0M462.5 497.0h0M448.9 470.5h0M557.1 402.5h0M565.4 442.7h0M578.1 408.5h0M644.6 484.1h0M564.9 474.4h0M454.3 436.1h0M579.8 475.4h0M528.0 399.1h0M736.6 492.2h0M516.0 450.1h0M581.0 494.5h0M536.4 453.3h0M536.0 469.5h0M447.1 426.9h0M480.9 439.2h0M446.0 398.9h0M469.5 404.3h0M520.3 410.1h0M629.3 487.9h0M578.7 415.2h0M527.6 460.3h0M467.9 480.1h0M477.2 443.6h0M599.7 469.9h0M558.8 431.5h0M750.0 491.6h0M752.9 497.9h0M522.0 481.8h0M466.1 487.9h0M496.3 412.4h0M586.7 469.2h0M471.2 462.6h0M473.9 439.5h0M645.6 465.9h0M454.6 403.9h0M574.8 426.8h0M660.3 472.6h0M500.2 498.7h0M675.0 469.4h0M736.7 484.2h0M539.4 426.1h0M692.6 485.3h0M494.6 399.5h0M489.8 469.6h0M511.4 486.0h0M544.7 486.1h0M536.3 413.4h0M578.2 427.5h0M445.0 487.7h0M472.4 468.7h0M518.5 415.8h0M752.7 490.8h0M480.3 486.0h0M447.6 468.9h0M614.2 481.6h0M489.6 447.5h0M524.7 429.9h0M501.3 468.5h0M621.5 477.4h0M731.4 481.6h0M473.2 421.7h0M663.5 496.4h0M644.4 462.8h0M736.3 477.2h0M581.3 437.7h0M475.6 457.5h0M656.4 491.6h0M481.2 397.0h0M581.4 479.1h0M464.9 436.6h0M446.6 440.1h0M571.3 486.2h0M515.9 418.1h0M542.7 455.9h0M574.2 484.6h0M561.8 412.7h0M473.2 471.4h0M477.5 454.9h0M528.1 495.0h0M701.2 491.9h0M519.0 452.1h0M560.3 417.0h0M545.5 447.9h0M585.9 449.0h0M663.1 498.4h0M445.4 420.0h0M645.2 480.0h0M516.0 427.7h0M512.3 468.1h0M543.5 453.3h0M550.0 480.4h0M496.1 449.8h0M684.8 496.9h0M446.9 413.8h0M596.3 497.0h0M492.4 485.1h0M566.1 448.5h0M544.8 399.5h0M483.1 418.0h0M479.4 480.2h0M699.4 482.6h0M509.3 497.4h0M441.3 488.4h0M682.4 476.6h0M640.6 484.1h0M703.7 495.1h0M539.8 465.4h0M656.6 486.1h0M520.3 447.8h0M483.6 487.4h0M660.6 464.1h0M479.4 477.3h0M471.9 415.2h0M474.6 423.6h0M464.1 474.1h0M469.8 463.5h0M467.3 410.9h0M650.0 489.2h0M569.9 436.2h0M450.8 422.6h0M517.2 478.6h0M666.0 478.0h0M608.5 467.4h0M481.1 428.1h0M533.3 415.3h0M543.5 415.3h0M731.3 497.4h0M582.6 450.9h0M599.1 476.1h0M490.3 434.1h0M561.5 484.9h0M479.9 459.6h0M674.2 495.4h0M581.5 438.5h0M728.3 493.2h0M708.1 482.4h0M558.9 483.6h0M508.3 474.1h0M588.6 431.4h0M502.9 480.0h0M559.2 431.8h0M622.6 491.3h0M462.7 444.9h0M551.6 432.3h0M495.1 497.4h0M575.1 411.3h0M540.4 441.7h0M457.9 399.9h0M549.9 477.8h0M454.4 388.3h0M651.3 466.1h0M560.8 494.9h0M462.1 449.2h0M454.8 440.9h0M451.8 472.1h0M499.6 402.7h0M608.7 459.8h0M472.6 421.8h0M513.7 485.4h0M445.1 435.6h0M714.6 477.8h0M514.2 468.0h0M535.1 470.4h0M551.2 475.1h0M621.5 481.9h0M506.6 478.0h0M614.4 474.5h0M522.6 463.2h0M580.6 471.6h0M538.9 422.9h0M471.2 423.6h0M495.5 471.5h0M477.8 473.9h0M487.5 392.1h0M520.3 444.4h0M526.1 490.5h0M677.2 466.9h0M740.1 499.6h0M445.1 421.3h0M542.1 404.8h0M576.5 492.3h0M448.5 484.5h0M507.8 394.6h0M497.6 411.3h0M537.1 445.7h0M684.9 470.5h0M549.2 494.7h0M483.2 490.7h0M732.5 490.9h0M451.6 467.6h0M516.0 447.0h0M598.0 463.2h0M501.6 458.3h0M500.1 468.9h0M454.0 414.3h0M478.1 398.6h0M637.2 487.6h0M480.9 407.2h0M612.9 497.7h0M478.0 486.1h0M684.9 473.7h0M687.8 470.4h0M541.0 465.6h0M570.3 473.8h0M454.7 496.7h0M562.1 480.4h0M589.5 481.5h0M535.9 448.1h0M448.9 441.2h0M465.9 487.4h0M747.9 498.3h0M662.8 470.9h0M628.4 481.8h0M454.0 397.1h0M507.1 398.3h0M571.2 498.3h0M442.0 432.4h0M473.9 499.2h0M706.0 471.5h0M454.3 466.9h0M486.7 444.0h0M524.8 409.9h0M585.8 460.9h0M620.5 491.3h0M446.2 421.1h0M539.6 395.5h0M670.9 474.8h0M536.0 471.1h0M505.9 449.4h0M628.5 476.9h0M493.8 423.0h0M700.6 480.6h0M507.2 393.3h0M669.0 473.2h0M645.2 477.4h0M596.6 474.6h0M575.1 432.7h0M577.2 450.1h0M554.9 428.9h0M575.5 426.4h0M446.3 470.2h0M565.5 436.1h0M716.2 497.4h0M531.1 438.2h0M722.2 484.6h0M516.9 411.9h0M660.9 479.6h0M588.9 428.4h0M514.6 479.8h0M713.0 487.2h0M477.0 454.2h0M460.1 471.5h0M462.6 481.1h0M721.8 496.6h0M519.6 496.1h0M513.1 422.8h0M579.5 481.7h0M498.3 470.0h0M545.2 498.1h0M570.3 457.9h0M451.7 395.5h0M537.4 457.3h0M521.2 453.2h0M527.8 477.8h0M490.1 412.7h0M579.2 493.5h0M493.1 404.0h0M482.5 406.7h0M545.7 429.4h0M590.7 429.6h0M684.9 492.9h0M575.0 495.2h0M606.5 465.2h0M561.1 413.9h0M483.6 490.7h0M554.3 467.3h0M586.1 445.8h0M506.2 402.1h0M546.9 465.2h0M462.7 412.5h0M507.7 482.9h0M519.3 416.4h0M529.2 423.3h0M690.1 478.6h0M660.9 490.6h0M455.0 400.5h0M522.3 446.0h0M576.4 410.3h0M472.7 404.9h0M643.5 465.2h0M529.9 414.1h0M454.7 456.5h0M551.2 403.3h0M578.3 496.3h0M519.0 400.6h0M639.3 462.1h0M495.8 410.2h0M615.4 470.9h0M454.2 483.9h0M446.8 419.7h0M486.1 455.3h0M533.7 486.4h0M657.2 479.3h0M483.1 400.6h0M562.3 448.9h0M544.9 496.7h0M713.3 495.1h0M478.0 411.9h0M471.7 489.4h0M542.4 430.9h0M663.3 479.4h0M691.8 490.1h0M541.0 398.2h0M558.0 422.9h0M489.4 484.0h0M586.1 481.5h0M548.0 420.1h0M602.7 473.2h0M712.4 475.0h0M527.2 490.6h0M467.7 404.4h0M570.2 449.7h0M469.3 495.0h0M473.4 397.3h0M444.4 409.6h0M608.3 476.3h0M490.2 445.9h0M566.4 439.9h0M536.8 471.5h0M594.3 479.8h0M555.6 490.2h0M618.3 480.6h0M443.3 492.2h0M547.4 469.2h0M455.3 395.4h0M465.0 451.2h0M542.4 412.6h0M727.3 484.8h0M538.1 455.3h0M480.0 423.2h0M480.7 432.8h0M751.6 484.3h0M672.5 466.1h0M453.6 438.3h0M711.9 489.9h0M709.9 482.0h0M526.4 472.2h0M443.0 424.2h0M551.0 454.7h0M476.4 485.5h0M547.5 493.6h0M544.7 418.2h0M626.7 483.2h0M460.9 447.9h0M622.9 496.7h0M739.3 489.6h0M521.9 482.6h0M446.8 432.0h0M556.7 452.7h0M515.5 468.5h0M755.3 480.0h0M585.5 479.3h0M746.5 495.8h0M617.1 486.1h0M503.7 487.4h0M448.8 447.1h0M499.3 431.4h0M441.9 391.5h0M521.5 480.9h0M712.4 490.2h0M576.9 409.6h0M511.2 434.9h0M540.5 439.4h0M492.1 430.3h0M473.0 458.4h0M583.7 494.8h0M474.1 473.3h0M481.4 456.5h0M589.8 465.7h0M499.6 438.0h0M614.2 492.1h0M544.5 407.8h0M639.6 472.3h0M519.1 466.3h0M646.4 488.3h0M505.1 423.2h0M537.4 439.6h0M441.5 388.9h0M452.5 434.0h0M449.5 445.7h0M523.8 477.5h0M442.3 411.2h0M542.0 490.3h0M535.2 456.2h0M730.5 494.7h0M672.8 467.5h0M525.1 495.1h0M548.3 423.6h0M725.4 481.8h0M442.3 432.2h0M476.2 470.7h0M696.0 478.7h0M445.2 391.6h0M706.3 483.7h0M683.9 480.2h0M685.0 495.9h0M543.2 422.7h0M571.2 473.1h0M662.3 491.0h0M538.4 486.0h0M569.6 450.9h0M465.2 392.1h0M539.1 395.4h0M456.4 469.6h0M505.9 470.3h0M512.6 450.6h0M565.3 413.6h0M487.8 488.1h0M640.2 496.6h0M495.2 413.0h0M536.2 447.5h0M592.8 493.7h0M622.9 459.7h0M625.3 478.2h0M749.9 479.1h0M480.9 394.0h0M511.0 462.3h0M522.6 427.8h0M522.9 410.5h0M543.1 431.8h0M554.4 420.5h0M447.0 484.7h0M441.9 409.2h0M505.7 482.5h0M478.0 419.9h0M635.7 464.2h0M446.1 484.7h0M713.4 493.1h0M464.9 476.2h0M495.1 423.3h0M504.1 487.5h0M699.0 484.1h0M561.2 497.0h0M522.9 451.8h0M483.8 414.7h0M606.3 486.7h0M517.2 398.4h0M465.3 423.8h0M468.6 407.4h0M449.4 391.7h0M466.3 476.6h0M516.7 453.7h0M574.3 447.5h0M743.2 501.3h0M513.8 477.7h0M510.7 468.7h0M663.6 470.6h0M589.1 446.6h0M495.1 435.5h0M550.7 442.5h0M529.6 424.0h0M541.6 472.8h0M596.4 479.5h0M442.6 396.6h0M505.9 426.1h0M566.8 428.2h0M452.3 499.7h0M462.0 473.1h0M721.4 364.4h0M684.9 382.6h0M719.4 340.2h0M932.0 336.7h0M679.7 354.1h0M655.2 374.5h0M600.4 349.3h0M887.1 369.0h0M930.4 345.6h0M899.7 353.1h0M931.0 353.5h0M771.1 325.3h0M636.4 379.7h0M802.4 379.0h0M631.1 353.7h0M759.8 329.1h0M676.7 382.8h0M863.0 355.6h0M816.8 378.8h0M956.3 361.2h0M590.4 379.5h0M636.7 337.8h0M625.5 355.8h0M805.9 352.4h0M760.4 331.3h0M860.8 357.5h0M695.1 377.0h0M950.3 382.9h0M727.4 351.7h0M673.9 371.1h0M775.0 385.9h0M929.9 351.8h0M612.4 352.1h0M779.6 373.9h0M645.3 340.4h0M817.5 328.3h0M874.0 350.0h0M944.8 336.7h0M925.4 337.0h0M600.8 347.7h0M963.6 345.4h0M778.9 357.6h0M609.7 360.3h0M750.7 343.6h0M906.3 367.6h0M827.8 385.9h0M962.3 379.1h0M620.4 374.3h0M878.7 353.2h0M973.3 361.5h0M622.5 362.3h0M822.8 378.6h0M963.9 339.3h0M677.0 379.2h0M615.1 374.3h0M933.2 359.1h0M815.7 362.5h0M882.3 356.1h0M834.5 327.2h0M892.5 358.1h0M714.5 385.6h0M805.3 337.7h0M799.0 378.5h0M719.2 350.7h0M828.6 334.0h0M805.7 343.2h0M761.7 369.1h0M697.2 361.5h0M902.4 352.8h0M825.1 341.1h0M673.7 355.7h0M785.7 336.7h0M879.9 355.0h0M714.0 338.7h0M908.9 381.5h0M950.0 338.4h0M598.8 363.7h0M580.0 378.5h0M845.0 344.2h0M748.8 367.1h0M634.9 346.1h0M888.7 366.9h0M807.1 328.8h0M657.9 338.9h0M802.0 383.0h0M794.5 382.6h0M759.9 356.2h0M683.9 352.6h0M949.4 354.2h0M650.1 363.2h0M776.2 353.4h0M945.5 372.3h0M853.8 361.4h0M834.2 355.0h0M908.4 361.7h0M936.4 358.0h0M636.6 368.6h0M944.5 379.1h0M831.4 375.3h0M605.5 352.6h0M898.2 344.5h0M628.3 379.1h0M595.8 358.8h0M956.3 362.8h0M803.3 334.0h0M704.4 331.9h0M757.8 325.0h0M835.9 364.7h0M936.4 372.7h0M600.6 379.3h0M789.9 383.8h0M769.3 327.4h0M855.2 333.4h0M968.5 357.6h0M935.4 354.5h0M702.2 365.7h0M857.5 352.4h0M681.6 349.7h0M859.5 337.1h0M633.9 353.9h0M836.5 326.4h0M680.0 386.1h0M678.2 372.9h0M766.9 379.4h0M854.9 363.0h0M765.3 365.9h0M781.3 334.1h0M851.7 330.5h0M695.5 378.2h0M800.1 355.7h0M857.5 354.5h0M725.5 358.4h0M937.7 365.2h0M634.1 378.4h0M684.6 375.1h0M833.7 361.9h0M870.3 339.6h0M907.9 357.8h0M876.6 377.4h0M673.1 349.1h0M924.6 367.3h0M768.4 358.0h0M714.9 367.3h0M786.5 354.8h0M674.8 336.7h0M841.4 344.5h0M949.7 381.5h0M963.0 340.3h0M778.4 328.9h0M773.1 385.2h0M878.8 346.0h0M681.9 383.5h0M591.3 377.8h0M955.2 364.6h0M727.5 350.1h0M816.4 356.8h0M921.5 381.1h0M885.4 364.7h0M835.3 326.9h0M600.7 381.3h0M717.4 353.2h0M827.2 326.1h0M797.3 370.8h0M633.8 372.1h0M962.3 376.5h0M890.2 384.5h0M860.3 358.1h0M903.9 375.2h0M824.8 366.1h0M642.3 344.3h0M701.8 378.7h0M886.5 341.2h0M601.3 384.7h0M715.3 347.6h0M916.2 357.2h0M825.3 351.0h0M756.4 385.2h0M682.3 356.7h0M763.8 331.3h0M629.3 355.4h0M893.5 350.5h0M593.9 383.7h0M625.7 380.4h0M588.3 364.9h0M629.2 339.2h0M740.7 371.9h0M746.3 349.6h0M733.0 356.4h0M683.7 384.9h0M792.2 345.2h0M844.0 346.0h0M945.5 341.8h0M745.3 343.0h0M786.0 340.5h0M841.2 349.2h0M856.8 341.2h0M841.7 431.4h0M997.5 447.9h0M963.9 394.0h0M1110.3 375.5h0M655.9 453.0h0M1052.1 451.9h0M825.1 440.2h0M960.7 411.3h0M624.5 398.1h0M1132.9 399.6h0M792.0 399.4h0M978.8 423.1h0M1068.7 339.2h0M1089.9 441.5h0M938.7 410.5h0M911.9 486.6h0M744.9 434.8h0M694.4 447.1h0M900.2 391.3h0M617.6 419.2h0M881.2 476.5h0M751.8 473.8h0M708.1 444.7h0M991.4 421.0h0M637.1 416.8h0M1129.6 402.7h0M901.5 407.7h0M1095.3 435.3h0M1070.4 400.5h0M928.9 430.6h0M1007.5 363.1h0M958.9 441.0h0M1140.0 419.6h0M1080.5 342.3h0M1066.9 417.3h0M699.0 405.3h0M614.7 435.5h0M700.3 456.4h0M673.3 454.3h0M937.4 458.1h0M1135.5 386.1h0M976.4 403.7h0M1024.4 438.8h0M771.2 477.2h0M973.9 480.3h0M1047.3 413.6h0M805.1 472.6h0M959.5 428.3h0M1089.9 340.5h0M1018.5 452.2h0M814.2 438.1h0M872.0 428.4h0M844.9 406.2h0M980.6 354.3h0M1022.9 428.9h0M624.9 428.3h0M679.1 464.6h0M1050.3 418.0h0M1080.7 367.3h0M769.7 424.0h0M1002.4 412.6h0M803.2 407.6h0M703.1 418.6h0M990.2 397.6h0M964.0 420.3h0M741.4 429.4h0M1140.5 370.8h0M731.6 423.4h0M673.7 388.0h0M1108.2 411.9h0M708.8 438.4h0M637.1 425.0h0M896.4 388.5h0M1013.1 441.5h0M1111.1 440.0h0M988.7 475.2h0M607.2 407.1h0M738.3 415.9h0M1089.1 431.8h0M1012.8 467.3h0M735.2 442.0h0M793.2 417.0h0M885.6 450.4h0M665.8 389.2h0M788.2 499.7h0M1023.4 362.9h0M1017.5 336.2h0M643.7 396.9h0M620.2 416.5h0M775.9 462.8h0M863.3 502.0h0M1071.9 364.6h0M906.2 426.2h0M671.1 390.5h0M935.4 391.1h0M1026.8 434.2h0M1062.2 350.1h0M1074.1 422.8h0M984.1 405.2h0M999.3 436.1h0M653.4 387.0h0M1017.4 337.8h0M945.9 429.4h0M995.3 391.9h0M853.8 417.5h0M1015.8 347.6h0M1102.4 397.9h0M730.0 430.8h0M878.8 420.7h0M1111.3 442.7h0M1096.3 387.7h0M993.3 483.8h0M1094.8 347.2h0M1067.9 378.0h0M1047.1 453.8h0M847.1 491.0h0M1140.4 434.2h0M1007.3 451.0h0M808.1 421.3h0M1073.4 455.6h0M979.7 423.2h0M911.0 450.3h0M1147.0 370.6h0M791.2 412.9h0M1135.7 429.2h0M975.1 354.1h0M992.9 390.0h0M915.6 454.5h0M763.5 463.0h0M713.2 417.2h0M1098.9 357.3h0M1015.8 472.5h0M757.7 428.8h0M800.4 503.8h0M754.4 407.9h0M757.8 447.8h0M1095.0 454.2h0M1000.0 422.6h0M1075.5 353.6h0M925.9 471.0h0M1032.1 451.4h0M607.2 417.8h0M729.9 440.2h0M806.2 413.9h0M890.1 436.8h0M1099.7 383.8h0M1117.1 356.8h0M784.4 491.4h0M1160.6 387.5h0M720.9 416.8h0M975.6 361.7h0M643.3 392.1h0M1093.1 342.4h0M957.3 386.9h0M1057.9 349.1h0M1018.7 343.1h0M626.2 446.8h0M656.9 450.2h0M1088.4 444.1h0M981.2 442.5h0M1033.7 424.1h0M921.4 420.2h0M1019.5 427.2h0M735.2 424.3h0M879.9 485.6h0M998.0 371.2h0M872.4 435.9h0M914.7 414.6h0M873.1 454.1h0M1094.3 424.2h0M1036.6 452.6h0M756.6 396.3h0M790.9 456.1h0M1120.1 362.6h0M793.3 486.8h0M1048.2 390.4h0M817.2 395.6h0M846.0 461.0h0M1026.0 365.4h0M689.4 393.9h0M675.5 417.4h0M648.4 448.0h0M978.1 391.8h0M984.4 360.3h0M738.6 408.2h0M1153.5 360.1h0M1053.4 464.6h0M593.4 430.4h0M1039.8 384.4h0M1147.7 362.6h0M653.6 401.0h0M1049.3 352.1h0M1039.4 429.1h0M1045.1 393.2h0M1000.3 422.7h0M1024.4 369.4h0M1076.2 456.6h0M662.1 460.5h0M593.1 415.7h0M723.0 467.3h0M997.6 453.3h0M950.8 455.2h0M1103.9 397.5h0M878.8 447.6h0M1120.8 447.4h0M876.8 468.0h0M895.6 406.6h0M769.4 403.2h0M701.6 389.0h0M841.6 481.3h0M644.7 424.2h0M1012.9 470.1h0M1141.7 440.4h0M958.6 394.9h0M637.3 433.7h0M810.8 489.0h0M964.6 465.7h0M909.0 465.3h0M915.5 438.4h0M989.6 460.6h0M859.7 467.9h0M951.2 492.4h0M819.3 450.6h0M1086.1 348.3h0M873.2 472.6h0M1128.6 394.3h0M700.6 407.5h0M824.0 448.8h0M1051.2 354.8h0M748.3 426.0h0M635.7 452.1h0M854.8 399.4h0M1032.7 354.4h0M891.1 396.9h0M829.8 426.1h0M795.3 432.6h0M623.6 407.8h0M1157.2 404.1h0M871.0 465.4h0M1053.3 462.4h0M796.8 458.1h0M688.8 441.8h0M674.2 395.9h0M1009.2 338.6h0M1091.4 350.9h0M935.6 480.4h0M1129.8 412.5h0M1079.2 341.0h0M1034.6 447.1h0M1032.0 360.8h0M619.6 425.5h0M930.8 453.9h0M676.6 433.2h0M1146.4 378.8h0M970.3 411.2h0M818.9 415.9h0M1105.2 397.7h0M1090.9 432.4h0M993.2 412.6h0M715.0 432.6h0M755.5 478.3h0M771.7 407.7h0M1161.1 396.8h0M883.0 432.5h0M858.8 466.8h0M1118.5 442.9h0M983.6 430.0h0M648.0 414.4h0M1153.4 400.8h0M650.4 410.3h0M605.7 440.0h0M916.3 419.2h0M779.3 425.5h0M769.6 507.0h0M772.4 481.3h0M1052.3 472.5h0M862.7 421.4h0M1071.9 355.3h0M862.4 413.4h0M811.5 420.8h0M1091.7 342.4h0M684.6 417.6h0M728.6 471.9h0M770.0 495.7h0M630.8 451.6h0M1049.6 343.8h0M1007.4 434.5h0M1018.7 416.7h0M683.8 443.7h0M924.0 424.7h0M1030.5 426.6h0M757.2 450.7h0M1134.7 343.6h0M1014.5 409.6h0M1069.1 450.8h0M1140.7 435.3h0M1047.8 393.5h0M1125.4 449.4h0M1134.6 440.1h0M1013.8 438.1h0M1012.1 413.1h0M644.2 431.7h0M1091.3 442.0h0M1015.2 476.3h0M829.8 413.1h0M827.1 396.8h0M747.3 458.1h0M977.7 469.3h0M766.2 507.1h0M997.8 390.5h0M1022.3 481.0h0M794.7 426.4h0M605.8 444.1h0M997.0 455.3h0M805.9 483.4h0M1097.0 347.0h0M960.2 422.9h0M890.4 480.4h0M760.1 494.3h0M1019.4 402.6h0M881.6 470.4h0M604.5 428.3h0M908.0 459.2h0M773.5 439.9h0M1007.9 401.0h0M975.6 491.3h0M789.8 426.0h0M857.9 480.1h0M803.5 447.8h0M869.3 461.4h0M799.4 433.9h0M919.3 414.4h0M770.7 447.4h0M673.6 418.9h0M731.1 432.7h0M979.4 424.6h0M1016.4 442.7h0M619.8 448.6h0M857.9 466.3h0M1127.6 395.8h0M1075.8 374.8h0M1060.8 412.2h0M840.5 421.1h0M981.9 443.5h0M1124.3 383.9h0M744.6 435.0h0M791.7 498.9h0M1154.7 357.3h0M971.3 488.2h0M636.7 388.6h0M649.6 409.7h0M786.3 460.8h0M820.2 446.3h0M648.7 440.6h0M1106.6 455.6h0M1023.6 346.6h0M1008.4 472.5h0M939.2 398.3h0M765.7 475.5h0M1146.4 398.2h0M824.4 411.5h0M754.9 460.4h0M1154.6 416.2h0M1078.7 404.3h0M821.1 473.8h0M989.3 478.1h0M886.3 402.1h0M1160.9 388.2h0M1124.5 337.7h0M784.1 470.6h0M970.5 451.4h0M1064.6 466.7h0M854.3 432.2h0M1048.3 420.5h0M853.0 418.8h0M1008.0 462.2h0M769.2 469.3h0M793.5 451.5h0M794.6 490.6h0M796.8 395.8h0M827.9 439.6h0M1122.4 346.1h0M1100.3 434.0h0M997.7 465.3h0M999.2 372.6h0M867.1 424.0h0M786.6 419.7h0M842.2 504.6h0M1110.5 365.7h0M1028.9 400.9h0M925.4 432.4h0M1010.1 387.0h0M973.3 398.9h0M1035.5 420.4h0M1102.9 425.8h0M954.4 478.7h0M1099.8 401.8h0M1157.4 402.5h0M1002.4 478.9h0M785.8 407.6h0M788.1 394.2h0M815.1 481.7h0M1040.4 431.8h0M952.1 386.8h0M797.2 421.4h0M1077.0 446.1h0M836.1 445.8h0M782.5 434.5h0M679.9 428.7h0M1010.3 397.4h0M1011.7 464.7h0M1071.5 430.4h0M915.1 453.6h0M896.4 491.9h0M936.7 405.5h0M941.0 406.3h0M911.4 478.7h0M729.3 426.5h0M1129.2 364.7h0M742.0 399.5h0M950.8 396.2h0M596.1 435.3h0M1000.7 358.2h0M980.9 362.8h0M622.2 395.9h0M1018.1 445.3h0M917.6 423.4h0M960.3 420.9h0M806.6 479.8h0M749.1 405.2h0M775.0 409.9h0M781.1 471.6h0M681.8 417.6h0M739.0 435.0h0M1030.1 355.0h0M954.6 452.3h0M750.3 391.8h0M1040.9 403.1h0M843.8 499.5h0M624.3 403.2h0M749.4 419.3h0M601.0 454.5h0M875.8 473.6h0M999.3 463.7h0M863.6 397.5h0M616.1 430.9h0M1030.0 355.3h0M628.9 453.6h0M849.6 471.9h0M814.8 504.9h0M1089.2 390.6h0M889.2 436.5h0M838.0 476.5h0M989.6 476.6h0M720.5 422.3h0M893.4 435.9h0M1078.7 431.3h0M1010.5 463.0h0M940.5 493.1h0M603.3 392.6h0M667.4 445.1h0M891.4 413.8h0M659.8 404.3h0M669.2 415.2h0M667.3 462.2h0M1091.2 391.0h0M620.0 447.4h0M1020.2 418.6h0M1100.2 360.5h0M829.7 423.5h0M1075.0 400.7h0M1123.0 388.5h0M779.7 503.6h0M981.1 410.1h0M632.7 398.2h0M820.3 503.3h0M1105.1 348.0h0M1038.9 438.0h0M825.3 505.2h0M1123.7 400.1h0M981.4 461.0h0M979.4 466.8h0M610.1 429.1h0M1006.7 409.1h0M678.6 408.8h0M931.2 484.0h0M1100.7 391.2h0M979.0 447.0h0M942.2 477.1h0M670.2 445.9h0M736.0 419.1h0M869.6 497.6h0M1000.4 433.5h0M1015.9 429.4h0M952.7 395.0h0M800.5 477.3h0M1070.2 464.3h0M835.7 427.7h0M1106.5 342.9h0M639.7 449.0h0M686.8 465.4h0M978.5 363.6h0M1046.7 416.9h0M984.2 349.5h0M791.6 456.8h0M1002.4 371.9h0M1126.8 353.5h0M945.6 446.3h0M688.3 443.5h0M896.8 441.5h0M680.1 417.5h0M1067.4 441.9h0M715.0 392.8h0M1093.1 344.2h0M854.5 423.8h0M1022.0 369.1h0M759.1 425.1h0M1017.8 422.5h0M650.0 451.4h0M900.3 438.1h0M640.5 393.1h0M789.5 462.6h0M1035.5 455.2h0M677.6 414.8h0M1114.9 365.2h0M777.6 441.5h0M981.2 414.8h0M884.7 480.4h0M627.0 438.5h0M758.6 465.7h0M995.1 406.9h0M987.0 432.5h0M715.5 454.3h0M1050.0 381.0h0M1107.3 389.3h0M1138.8 435.7h0M1035.2 399.1h0M842.6 436.6h0M1049.0 407.0h0M1104.9 372.5h0M598.3 433.6h0M939.0 403.5h0M1044.6 429.4h0M976.6 349.8h0M650.6 438.1h0M794.6 451.4h0M807.1 505.9h0M1023.8 383.1h0M765.3 425.6h0M1073.0 352.1h0M1100.2 451.0h0M922.8 405.4h0M797.0 405.2h0M995.8 411.6h0M994.7 486.6h0M1130.0 368.5h0M1054.4 405.0h0M825.0 438.8h0M1016.3 379.4h0M810.0 407.1h0M991.6 384.3h0M781.3 422.1h0M711.1 409.3h0M1014.9 422.3h0M603.3 395.4h0M800.7 431.8h0M1090.6 346.3h0M1109.2 351.4h0M899.6 429.3h0M813.6 443.3h0M1095.6 390.2h0M1092.6 438.6h0M1018.7 402.4h0M762.7 454.4h0M908.0 493.0h0M665.6 394.4h0M847.7 471.3h0M635.2 445.7h0M765.9 455.0h0M730.1 460.2h0M1051.2 379.4h0M997.2 419.6h0M705.0 464.4h0M843.6 487.5h0M1050.1 427.4h0M808.5 427.3h0M659.1 435.4h0M731.3 401.0h0M671.9 450.4h0M1149.0 353.4h0M786.9 419.8h0M1107.4 352.5h0M911.6 443.0h0M723.3 396.5h0M834.7 488.5h0M1032.2 418.0h0M611.0 396.9h0M1056.0 410.1h0M802.5 445.5h0M977.9 354.5h0M818.2 483.1h0M726.1 426.7h0M775.7 430.6h0M802.6 394.5h0M1120.2 454.8h0M847.6 398.2h0M1085.8 398.5h0M1113.7 398.4h0M1136.9 433.0h0M773.0 430.3h0M1060.4 433.0h0M1064.9 445.8h0M955.8 387.6h0M1024.0 426.2h0M760.6 506.6h0M1029.6 452.4h0M1069.7 455.4h0M798.9 500.3h0M1108.9 451.1h0M828.7 421.6h0M1064.3 437.9h0M847.3 474.0h0M582.7 404.2h0M719.1 440.2h0M780.7 440.0h0M1104.0 406.0h0M1067.1 416.0h0M1103.0 343.2h0M761.4 416.9h0M954.2 445.6h0M1155.9 351.2h0M733.9 463.9h0M1054.2 472.8h0M1076.4 444.4h0M929.4 408.6h0M1059.5 427.3h0M779.4 420.8h0M970.3 479.3h0M811.0 467.6h0M648.0 422.4h0M976.6 427.4h0M988.9 363.8h0M927.8 425.7h0M1000.1 354.4h0M1089.2 366.9h0M998.6 400.5h0M986.6 455.8h0M813.3 498.9h0M830.7 415.8h0M995.5 361.2h0M1103.0 392.5h0M1098.0 360.1h0M643.7 437.2h0M713.2 411.1h0M689.1 460.3h0M1008.7 453.7h0M996.1 429.7h0M959.9 478.1h0M966.1 444.4h0M874.6 413.7h0M1116.9 400.1h0M1156.4 410.5h0M662.5 420.2h0M861.6 402.0h0M1037.8 378.3h0M1147.3 371.7h0M709.2 460.4h0M732.9 405.8h0M1120.3 362.5h0M585.3 411.2h0M1010.5 429.6h0M976.2 380.2h0M804.3 465.0h0M890.6 490.0h0M1053.1 407.4h0M833.9 486.8h0M746.6 412.6h0M1153.3 388.0h0M891.1 447.2h0M769.2 443.8h0M820.8 478.8h0M901.3 460.7h0M911.0 455.6h0M786.3 391.3h0M882.2 418.1h0M989.2 346.5h0M644.8 459.0h0M1081.2 405.6h0M774.5 410.1h0M1027.8 414.9h0M1015.6 423.8h0M1011.6 420.5h0M915.6 407.7h0M908.0 431.6h0M631.4 432.8h0M1122.9 376.9h0M1030.9 379.1h0M994.7 383.8h0M924.3 469.1h0M752.8 430.9h0M1011.0 365.8h0M947.5 404.7h0M1023.9 460.8h0M788.8 437.0h0M656.8 440.4h0M1148.3 429.8h0M1118.7 450.7h0M697.7 461.7h0M935.7 400.5h0M982.3 466.5h0M828.3 495.3h0M1161.1 394.6h0M711.2 461.7h0M812.7 457.8h0M724.0 417.8h0M1084.3 398.4h0M790.2 428.6h0M653.6 406.2h0M647.4 447.5h0M894.7 398.9h0M993.7 373.0h0M931.7 407.2h0M1022.9 410.6h0M652.9 455.5h0M790.6 432.4h0M1089.6 361.7h0M903.0 469.5h0M988.0 478.8h0M821.0 410.6h0M1088.2 384.3h0M1117.8 359.3h0M821.6 479.2h0M724.1 444.5h0M1089.0 407.7h0M647.5 433.7h0M992.0 431.8h0M779.3 436.3h0M701.3 415.5h0M915.4 387.8h0M929.9 428.8h0M895.0 437.6h0M942.0 488.2h0M931.9 468.5h0M1123.2 437.3h0M1062.4 430.2h0M855.9 458.4h0M878.3 498.5h0M823.6 428.6h0M1029.8 375.4h0M880.0 468.6h0M923.7 452.0h0M928.3 494.7h0M889.7 395.8h0M805.7 403.4h0M1095.0 384.4h0M981.8 433.2h0M684.6 456.3h0M982.4 398.2h0M640.0 438.0h0M770.7 430.2h0M1086.4 350.1h0M702.7 408.8h0M1065.5 388.5h0M1139.1 350.7h0M1108.7 344.8h0M779.1 500.2h0M1107.7 382.5h0M697.2 402.7h0M1028.4 434.2h0M1116.1 410.0h0M1047.7 433.7h0M832.0 398.6h0M909.7 389.4h0M938.2 428.4h0M788.8 429.0h0M816.2 471.1h0M838.4 429.2h0M1159.6 393.1h0M1091.7 351.6h0M878.6 438.7h0M1069.3 391.6h0M1148.6 432.7h0M771.4 447.5h0M1004.6 452.7h0M971.7 401.6h0M996.1 395.8h0M791.3 407.1h0M1150.0 426.1h0M896.7 404.3h0M895.8 475.8h0M881.0 423.6h0M817.3 434.1h0M838.8 442.9h0M826.0 472.4h0M1014.3 399.1h0M1156.7 355.6h0M600.3 406.0h0M827.5 452.7h0M730.1 442.3h0M1102.1 352.2h0M919.3 404.1h0M699.3 441.6h0M604.5 422.0h0M1056.6 335.4h0M741.1 406.5h0M932.9 462.3h0M973.8 410.1h0M771.1 443.4h0M843.5 495.7h0M884.8 436.3h0M966.2 418.5h0M862.9 449.8h0M751.6 420.5h0M676.3 407.0h0M823.7 409.8h0M722.3 418.1h0M962.0 457.8h0M592.7 416.6h0M971.7 406.2h0M920.4 439.7h0M871.7 495.0h0M990.1 412.1h0M954.5 467.3h0M734.9 457.3h0M1028.7 404.3h0M1097.9 402.4h0M1099.6 457.1h0M804.9 418.3h0M755.1 435.7h0M966.9 386.7h0M849.7 485.9h0M655.7 443.8h0M797.8 422.8h0M761.3 395.8h0M861.2 449.3h0M1110.2 409.5h0M739.0 397.2h0M980.9 363.4h0M869.8 464.1h0M978.8 411.3h0M714.0 394.5h0M782.4 449.0h0M686.1 419.4h0M705.8 418.5h0M714.9 463.3h0M966.6 412.4h0M909.8 426.3h0M1011.5 468.7h0M828.8 468.1h0M1062.4 454.6h0M839.1 469.5h0M1008.5 352.0h0M1005.4 393.6h0M1051.8 445.9h0M747.6 463.2h0M929.6 467.5h0M983.6 415.3h0M921.4 433.1h0M739.8 388.0h0M870.4 403.3h0M989.6 447.3h0M824.5 403.2h0M601.4 420.7h0M1104.5 383.0h0M1012.3 466.3h0M962.8 438.1h0M718.4 451.7h0M876.6 396.3h0M1109.1 443.0h0M773.1 447.4h0M1096.1 415.2h0M1047.1 372.1h0M1047.3 438.3h0M804.1 401.5h0M980.8 389.0h0M632.2 401.8h0M799.3 404.8h0M843.0 403.9h0M851.1 445.8h0M633.0 417.4h0M673.1 439.1h0M775.0 450.2h0M1035.8 405.0h0M696.0 442.5h0M1050.1 359.0h0M787.6 428.3h0M970.2 392.0h0M788.0 459.9h0M858.3 410.6h0M669.5 425.7h0M987.9 426.0h0M866.9 450.9h0M820.9 504.8h0M908.3 455.3h0M797.6 404.0h0M736.1 432.7h0M1006.4 427.0h0M1107.5 380.3h0M634.4 453.9h0M674.5 457.0h0M1086.4 424.2h0M838.1 503.2h0M1036.6 374.0h0M990.1 401.7h0M846.0 389.1h0M1089.9 400.6h0M903.6 475.3h0M1069.4 392.0h0M1064.0 446.0h0M588.6 400.3h0M985.3 429.2h0M774.1 492.1h0M622.3 421.4h0M948.7 471.2h0M1028.6 426.4h0M581.0 388.1h0M1131.5 382.7h0M742.1 413.0h0M799.1 450.2h0M791.3 444.7h0M1077.7 367.2h0M914.4 448.6h0M740.1 424.2h0M767.8 435.3h0M634.9 443.0h0M694.5 430.9h0M682.2 411.9h0M727.4 445.9h0M1149.6 413.8h0M896.9 395.8h0M741.5 422.9h0M1149.0 344.6h0M1014.7 390.9h0M997.7 420.8h0M754.5 412.5h0M1110.1 349.3h0M806.5 450.8h0M828.0 436.4h0M871.2 464.7h0M1039.8 462.1h0M813.5 423.1h0M630.8 432.6h0M1136.8 442.3h0M1005.9 439.9h0M905.7 486.0h0M607.7 400.5h0M700.3 438.2h0M804.6 494.3h0M825.4 399.6h0M1006.7 360.7h0M999.5 374.2h0M1049.7 347.8h0M743.7 473.6h0M979.3 406.8h0M996.9 377.2h0M824.1 453.1h0M883.2 499.4h0M1144.6 398.5h0M1104.5 454.2h0M875.1 424.1h0M678.8 419.5h0M1021.9 431.2h0M1153.3 427.5h0M1108.0 358.1h0M1008.4 438.8h0M1095.3 393.1h0M845.5 475.6h0M722.2 399.3h0M1073.6 447.2h0M1024.5 406.8h0M711.4 401.8h0M733.7 442.1h0M630.2 425.8h0M777.8 421.7h0M634.2 396.4h0M868.4 480.4h0M1102.6 360.1h0M971.3 474.5h0M837.4 435.8h0M768.3 476.6h0M978.0 348.5h0M988.8 359.3h0M858.2 448.3h0M1006.3 391.3h0M602.5 412.9h0M1114.1 430.5h0M938.6 467.5h0M1050.2 359.5h0M727.5 458.0h0M915.4 484.1h0M1030.6 392.3h0M671.9 448.8h0M636.0 420.6h0M734.0 404.4h0M959.2 444.6h0M1101.9 456.9h0M1109.7 441.0h0M954.6 488.7h0M1013.9 444.8h0M996.5 481.5h0M832.6 480.5h0M1019.5 357.6h0M1013.5 378.4h0M1098.8 406.2h0M684.9 406.9h0M583.8 407.1h0M1081.1 407.8h0M1080.2 460.6h0M907.4 423.5h0M996.2 439.1h0M1149.0 366.2h0M833.3 481.7h0M740.3 402.7h0M748.5 449.8h0M985.5 480.3h0M947.3 430.6h0M684.4 424.7h0M595.0 387.5h0M686.7 393.8h0M1148.6 356.7h0M1019.8 346.6h0M1139.6 391.9h0M1129.0 444.6h0M1099.9 449.8h0M672.5 464.3h0M736.1 473.3h0M1007.9 446.3h0M1148.3 389.9h0M736.9 425.9h0M1033.8 388.2h0M1051.7 467.2h0M925.3 445.1h0M1041.4 337.4h0M1036.7 413.1h0M1148.2 368.2h0M786.8 472.4h0M767.8 497.3h0M770.0 443.4h0M722.3 460.1h0M738.6 408.0h0M1000.2 478.3h0M696.2 467.7h0M971.0 459.1h0M1050.5 375.5h0M779.6 439.0h0M724.9 472.5h0M696.3 411.5h0M977.0 373.4h0M964.9 404.3h0M958.1 477.3h0M974.5 484.3h0M966.1 469.7h0M1068.7 438.0h0M636.1 402.8h0M743.9 432.4h0M1062.8 381.5h0M684.3 437.0h0M1083.8 347.7h0M792.9 394.7h0M986.9 426.8h0M638.4 458.2h0M1108.8 341.6h0M702.9 425.8h0M728.5 419.6h0M639.7 407.5h0M1052.6 358.9h0M890.1 475.2h0M909.4 395.0h0M1163.2 386.9h0M857.9 412.9h0M1070.1 442.2h0M897.4 424.0h0M1100.1 396.1h0M1151.1 431.0h0M1044.7 413.6h0M1100.1 407.7h0M811.5 463.4h0M856.3 408.4h0M1061.5 408.5h0M690.5 417.7h0M1029.7 395.4h0M942.0 387.4h0M1031.0 456.9h0M868.4 479.1h0M1036.6 437.2h0M807.8 456.1h0M984.6 484.9h0M1123.3 382.0h0M1141.9 434.5h0M1112.7 377.4h0M1028.0 370.4h0M910.1 458.7h0M876.6 404.2h0M835.9 398.7h0M1002.7 444.7h0M979.2 445.5h0M1113.9 427.2h0M794.3 504.7h0M811.7 474.1h0M644.0 438.7h0M750.7 403.6h0M953.0 405.5h0M1082.4 361.8h0M1078.9 410.5h0M1041.5 403.3h0M948.8 460.0h0M880.9 457.9h0M1146.5 395.5h0M829.1 406.6h0M1133.7 370.0h0M750.1 407.3h0M797.9 414.6h0M591.0 394.2h0M856.5 491.6h0M1081.7 420.4h0M912.8 480.8h0M1021.6 428.3h0M899.5 434.3h0M761.2 406.9h0M774.7 474.7h0M796.5 413.0h0M1106.6 429.1h0M1153.2 428.8h0M964.0 386.4h0M667.1 445.7h0M1123.2 378.0h0M704.2 407.2h0M711.5 449.7h0M599.2 418.0h0M1099.0 441.3h0M752.2 404.6h0M824.2 390.5h0M873.7 454.9h0M865.8 463.2h0M1034.2 412.4h0M982.2 398.6h0M850.9 481.6h0M1072.4 377.9h0M710.9 438.5h0M1127.2 415.6h0M822.7 500.6h0M990.7 373.8h0M1119.2 428.9h0M1129.1 396.0h0M856.8 477.5h0M875.1 496.6h0M934.8 485.9h0M686.7 422.8h0M1115.7 433.7h0M1042.3 474.7h0M833.4 454.3h0M981.6 411.0h0M879.5 475.1h0M788.6 452.0h0M897.7 482.4h0M713.0 415.8h0M722.4 474.0h0M921.8 469.1h0M918.4 441.3h0M1053.6 401.0h0M994.5 430.0h0M968.9 484.3h0M1115.9 361.6h0M682.6 401.9h0M736.3 434.4h0M945.1 439.1h0M1023.1 337.6h0M680.2 408.0h0M957.6 451.8h0M741.3 453.0h0M1113.7 416.0h0M805.8 453.6h0M1089.6 453.8h0M1139.2 378.3h0M639.9 394.1h0M1132.7 386.0h0M779.8 477.4h0M607.6 392.9h0M835.8 482.3h0M860.3 399.4h0M840.5 499.5h0M628.2 411.5h0M1066.2 361.7h0M1042.1 365.9h0M1040.3 347.0h0M681.3 448.9h0M671.7 410.4h0M858.2 428.9h0M1074.0 335.7h0M767.0 502.7h0M956.4 450.6h0M959.8 482.2h0M585.3 409.0h0M849.5 431.6h0M986.1 483.6h0M1145.2 392.6h0M930.1 487.7h0M642.1 397.6h0M817.1 448.8h0M1128.0 409.3h0M914.2 406.1h0M1000.1 473.2h0M978.2 411.3h0M919.6 404.9h0M888.4 420.2h0M744.9 407.3h0M826.0 490.4h0M1100.1 384.9h0M1136.9 358.6h0M844.2 414.6h0M867.4 417.0h0M762.9 395.2h0M631.7 438.7h0M700.9 427.0h0M992.3 337.5h0M866.2 445.2h0M1102.0 454.4h0M1068.4 449.6h0M1019.7 419.2h0M1120.6 343.4h0M1110.2 396.8h0M892.7 472.9h0M669.5 420.8h0M1138.8 373.0h0M1124.6 422.7h0M1078.8 382.1h0M920.9 457.3h0M911.2 436.1h0M1074.2 377.6h0M1131.3 414.0h0M909.8 447.0h0M937.4 487.2h0M1104.7 389.7h0M1100.8 389.6h0M976.9 362.3h0M949.4 387.0h0M800.5 501.4h0M948.1 429.0h0M911.5 441.9h0M689.8 420.8h0M802.4 466.5h0M881.3 453.9h0M644.5 397.9h0M795.7 472.9h0M712.9 393.9h0M1013.4 370.8h0M1114.1 389.7h0M738.6 414.6h0M1096.7 458.2h0M807.7 480.3h0M1127.2 366.8h0M813.8 463.2h0M841.8 482.6h0M696.2 431.6h0M873.0 491.3h0M672.0 415.6h0M836.4 400.2h0M680.8 401.3h0M760.7 426.1h0M1129.3 418.5h0M878.2 394.5h0M638.9 417.0h0M936.6 395.8h0M1007.4 444.3h0M882.7 439.7h0M774.9 459.2h0M806.1 426.5h0M705.9 443.8h0M1018.9 473.9h0M987.8 415.8h0M728.1 456.7h0M819.2 390.9h0M639.6 439.8h0M992.8 468.1h0M904.6 467.6h0M775.2 447.4h0M927.8 492.2h0M1031.8 450.8h0M894.2 488.9h0M928.6 454.2h0M1146.9 373.3h0M1102.9 392.7h0M684.1 434.9h0M761.8 506.9h0M863.7 426.3h0M758.0 451.4h0M834.7 476.8h0M1063.8 340.1h0M1136.1 427.6h0M1041.9 401.6h0M892.1 425.8h0M681.6 426.8h0M617.2 387.2h0M1094.8 371.6h0M1144.0 383.8h0M975.5 347.1h0M632.8 395.2h0M764.0 475.1h0M1117.1 448.8h0M853.3 490.1h0M902.4 445.4h0M843.5 397.0h0M1064.2 371.3h0M1075.5 400.9h0M1078.5 376.1h0M747.9 426.1h0M1002.4 471.5h0M778.6 416.1h0M918.5 437.5h0M1115.9 433.1h0M1142.1 417.7h0M762.9 418.5h0M638.1 436.7h0M747.0 427.4h0M823.1 433.6h0M609.3 441.1h0M907.4 496.6h0M1100.2 441.7h0M879.8 464.7h0M840.0 457.3h0M791.8 431.0h0M1006.6 436.2h0M928.7 401.5h0M778.3 448.4h0M835.3 411.3h0M942.4 486.9h0M686.0 447.4h0M886.2 445.2h0M964.7 404.2h0M880.1 443.9h0M1121.4 448.8h0M958.6 395.6h0M1042.7 357.4h0M1096.7 419.7h0M839.8 454.7h0M832.1 410.3h0M768.5 474.6h0M912.2 397.3h0M631.4 386.7h0M758.7 477.4h0M982.6 370.9h0M1012.2 364.3h0M1092.7 389.0h0M756.8 502.9h0M792.9 403.1h0M1018.0 347.8h0M679.3 463.6h0M1151.6 404.0h0M993.4 414.9h0M691.3 389.5h0M1042.2 350.7h0M799.9 462.1h0M935.9 447.8h0M875.2 464.6h0M643.5 400.4h0M1002.1 423.5h0M954.8 392.5h0M849.1 429.7h0M820.6 411.9h0M1007.8 483.5h0M702.5 421.5h0M1025.0 462.0h0M856.9 392.1h0M890.2 468.9h0M1002.5 424.9h0M833.0 499.9h0M1044.5 433.8h0M1157.2 360.7h0M1027.8 430.2h0M915.8 485.3h0M1157.2 368.6h0M898.7 418.9h0M866.6 421.4h0M606.7 408.8h0M608.3 448.6h0M690.2 455.0h0M844.8 408.2h0M676.4 403.5h0M1147.8 428.7h0M807.7 424.0h0M655.8 462.8h0M981.2 353.0h0M1087.9 346.2h0M1067.1 368.2h0M884.7 458.1h0M660.6 458.8h0M844.9 497.2h0M892.7 487.6h0M1076.4 353.7h0M1102.4 340.6h0M984.9 333.9h0M1132.3 333.3h0M1144.9 332.8h0M1146.7 327.8h0M1097.0 353.3h0M1085.4 374.0h0M1017.0 377.6h0M1080.4 367.9h0M1021.4 377.9h0M1108.3 350.0h0M1015.2 371.6h0M1078.6 377.4h0M1108.6 333.9h0M993.8 336.6h0M1116.4 365.7h0M1103.5 344.5h0M1148.5 333.0h0M1017.1 348.4h0M1023.2 364.0h0M1034.8 355.7h0M1033.3 354.1h0M1073.2 333.1h0M1118.9 329.9h0M1018.3 364.7h0M1124.4 357.7h0M1147.6 347.6h0M1017.0 350.1h0M1030.8 345.2h0M1119.7 342.1h0M1106.9 356.4h0M979.0 352.1h0M1132.5 358.9h0M1159.0 327.1h0M1053.7 335.5h0M1115.0 340.6h0M1098.0 359.7h0M978.2 357.6h0M1035.9 338.4h0M1094.4 358.5h0M1014.5 362.7h0M1112.1 355.1h0M1073.0 353.4h0M1055.6 335.7h0M1074.5 347.4h0M1089.7 329.3h0M1073.9 331.8h0M1074.3 368.4h0M1099.5 349.8h0M1004.2 374.4h0M1136.2 350.9h0M984.7 360.9h0M1049.2 346.1h0M1045.0 339.6h0M1001.0 359.5h0M1070.9 347.8h0M1113.8 351.6h0M1004.9 339.2h0M1078.3 360.3h0M1092.2 364.5h0M1041.1 365.6h0M1082.8 338.5h0M998.2 358.2h0M1084.1 338.0h0M1029.8 370.7h0M1025.5 350.7h0M995.6 335.6h0M991.2 333.6h0M1157.5 333.8h0M1123.0 356.1h0M993.0 365.8h0M1107.3 327.2h0M1149.3 340.5h0M1060.9 352.8h0M1077.7 355.2h0M987.1 370.2h0M1071.8 330.2h0M1068.0 335.0h0M1054.9 363.1h0M1114.4 333.6h0M1028.2 376.3h0M1091.3 334.8h0M1087.8 338.1h0M988.7 359.9h0M995.7 332.4h0M1100.5 376.2h0M987.7 364.7h0M977.4 333.0h0M983.7 346.6h0M1034.6 335.2h0M1125.9 330.5h0M1092.0 332.6h0M1096.0 331.9h0M1011.4 377.4h0M1024.3 348.9h0M1097.2 377.9h0M1076.6 331.2h0M1098.7 361.2h0M1083.1 345.4h0M1126.7 328.4h0M1076.1 353.8h0M1019.3 345.3h0M1085.3 345.1h0M986.6 377.6h0M1059.1 332.4h0M1143.5 332.4h0M1079.2 375.1h0M1117.1 356.3h0M1027.7 360.7h0M1124.3 336.0h0M1017.3 346.8h0M1085.7 372.2h0M1084.4 339.2h0M1109.2 333.0h0M1081.6 355.7h0M1061.0 354.3h0M1009.8 336.1h0M1083.2 346.4h0M1067.4 373.5h0M1061.5 364.4h0M986.2 351.0h0M985.0 335.5h0M1009.9 345.4h0M1004.4 374.5h0M1030.6 341.1h0M988.1 344.6h0M1120.1 353.9h0M1094.1 347.6h0M1129.5 348.8h0M1000.8 336.9h0M1122.5 328.1h0M1008.4 358.2h0M1101.2 349.7h0M1095.7 347.3h0M1084.1 327.1h0M1051.2 376.6h0M1081.4 343.1h0M1090.3 376.7h0M1061.1 347.1h0M1016.8 360.4h0M1030.3 343.7h0M1123.6 344.2h0M1144.2 350.8h0M1135.4 331.8h0M1064.9 349.6h0M1154.5 345.5h0M1031.6 332.3h0M1072.5 363.7h0M1129.6 360.4h0M995.0 359.4h0M1136.3 350.2h0M1054.0 359.2h0M1010.3 336.9h0M996.0 360.2h0M1004.9 341.2h0M1103.1 332.0h0M1044.1 357.9h0M1130.0 335.1h0M1078.5 357.1h0M1077.2 356.7h0M1045.8 337.6h0M1098.4 371.3h0M1101.2 359.9h0M1152.2 338.4h0M1081.4 368.8h0M1069.5 368.3h0M1012.5 345.9h0M1075.5 356.7h0M1132.2 349.1h0M1049.2 357.6h0M1030.3 369.7h0M1154.5 335.5h0M1005.7 343.7h0M1058.3 332.5h0M1124.2 333.3h0M1074.8 339.4h0M1094.6 331.2h0M1066.4 369.9h0M978.1 335.2h0M988.4 369.3h0M1099.1 337.8h0M1141.5 334.2h0M1065.4 363.7h0M1086.2 328.5h0M983.7 334.8h0M1092.4 335.5h0M1119.7 366.2h0M1045.3 363.3h0M1057.3 377.2h0M1120.3 349.0h0M1105.8 356.0h0M1016.6 338.6h0M1105.1 373.6h0M1091.3 365.2h0M1092.7 332.7h0M1022.2 355.8h0M1114.5 347.2h0M1103.6 342.7h0M1033.2 334.0h0M1051.6 355.7h0M995.3 374.3h0M1039.2 374.7h0M1102.7 345.1h0M1126.4 360.3h0M1056.6 360.0h0M1101.0 342.4h0M1028.6 334.2h0M1019.5 326.6h0M999.7 329.8h0M1083.7 322.0h0M1181.4 337.1h0M993.4 332.3h0M1248.0 332.6h0M1245.8 319.9h0M1035.8 323.1h0M1039.5 317.4h0M1045.1 329.0h0M985.9 338.1h0M1150.5 321.0h0M976.9 341.2h0M1012.0 320.6h0M1058.6 339.1h0M1039.6 316.8h0M1056.2 341.1h0M1041.5 329.3h0M1175.0 330.5h0M983.3 342.3h0M1193.7 315.4h0M1239.4 331.6h0M1149.6 319.2h0M983.4 336.0h0M1171.2 318.2h0M984.4 331.5h0M1059.7 323.7h0M1213.7 331.2h0M1007.4 335.8h0M1173.1 331.3h0M1237.2 328.2h0M1057.8 322.2h0M1093.2 329.4h0M1006.5 335.5h0M990.0 320.6h0M1065.4 339.5h0M1176.2 324.8h0M1020.9 337.5h0M1214.0 314.8h0M1090.1 330.6h0M1165.6 318.9h0M1201.1 332.7h0M1162.9 334.8h0M1056.8 321.3h0M1077.8 339.6h0M1138.9 321.5h0M1223.2 329.6h0M1244.2 334.2h0M1177.1 323.7h0M1247.7 328.3h0M1160.3 325.7h0M1118.8 318.0h0M1076.3 326.1h0M1179.3 317.4h0M1029.4 333.9h0M980.4 327.0h0M1072.0 329.6h0M997.3 319.8h0M1214.9 318.5h0M1053.5 331.0h0M1166.7 334.0h0M1060.0 323.6h0M978.6 339.0h0M1078.7 321.9h0M1032.0 328.8h0M1016.2 323.1h0M1003.9 318.5h0M1120.0 323.2h0M1004.5 341.6h0M1088.1 391.5h0M1104.2 367.0h0M1104.4 393.4h0M1131.6 380.9h0M1110.2 425.1h0M1127.8 393.7h0M1098.6 417.2h0M1148.2 379.5h0M1142.7 388.8h0M1117.0 364.8h0M1100.7 379.6h0M1098.0 420.0h0M1149.6 385.0h0M1139.3 383.8h0M1124.1 376.4h0M1146.7 398.6h0M1124.7 417.8h0M1120.1 396.8h0M1133.1 395.7h0M1123.8 383.6h0M1094.5 378.4h0M1151.0 403.7h0M1085.3 375.9h0M1124.2 398.3h0M1152.2 425.3h0M1088.9 418.6h0M1151.8 414.5h0M1149.8 389.3h0M1127.4 410.3h0M1139.0 412.4h0M1140.6 386.3h0M1138.9 404.2h0M1150.3 385.4h0M1126.8 422.4h0M1136.4 411.1h0M1094.1 373.7h0M1105.9 408.0h0M1086.3 408.5h0M1092.3 376.3h0M1103.2 400.8h0M1133.5 428.3h0M1099.8 368.9h0M1143.2 403.7h0M1147.4 412.4h0M1093.0 388.0h0M1099.1 394.1h0M1103.7 422.4h0M1145.8 376.1h0M1153.0 429.4h0M1110.6 423.3h0M1149.3 413.7h0M1109.0 406.4h0M1136.9 386.4h0M1116.8 369.1h0M1094.8 417.9h0M1105.3 411.5h0M1113.6 412.1h0M1103.7 369.0h0M1130.1 380.7h0M1098.1 395.0h0M1118.2 424.4h0M1132.1 393.1h0M1114.4 404.4h0M1092.9 383.6h0M1125.7 427.8h0M1125.5 377.5h0M1150.8 417.9h0M1099.4 388.4h0M1086.3 415.6h0M1099.0 420.0h0M1133.5 416.6h0M825.8 408.1h0M614.4 441.5h0M605.3 434.3h0M909.6 398.3h0M774.8 436.4h0M660.3 404.2h0M844.2 401.5h0M660.9 406.0h0M644.5 439.4h0M700.5 446.8h0M714.2 418.0h0M979.6 398.2h0M652.3 429.9h0M725.3 415.3h0M749.2 466.0h0M773.0 390.8h0M699.9 406.5h0M740.3 415.2h0M868.3 453.3h0M617.9 398.8h0M915.4 401.8h0M877.2 392.2h0M870.1 406.0h0M786.9 453.9h0M858.9 443.5h0M742.8 449.9h0M656.3 428.5h0M634.0 393.7h0M867.1 425.5h0M716.2 436.2h0M796.1 402.5h0M956.8 413.5h0M976.7 401.9h0M662.3 392.9h0M636.0 451.6h0M620.3 429.1h0M742.0 454.2h0M618.6 453.5h0M983.2 413.2h0M761.4 455.4h0M722.2 465.4h0M998.5 406.1h0M788.1 398.9h0M823.1 422.4h0M988.9 454.1h0M929.9 421.3h0M865.9 395.7h0M739.2 472.5h0M992.0 401.5h0M797.9 423.5h0M848.0 441.4h0M704.4 468.6h0M780.0 458.7h0M806.0 440.9h0M908.8 406.8h0M877.7 456.2h0M920.1 404.0h0M951.2 445.8h0M977.8 437.8h0M666.2 437.5h0M867.1 421.7h0M693.2 452.1h0M837.2 407.4h0M731.4 407.9h0M813.2 411.4h0M817.5 411.8h0M648.2 451.2h0M762.1 409.9h0M748.1 454.7h0M720.1 388.5h0M601.5 436.6h0M849.8 412.2h0M765.6 423.8h0M745.3 403.0h0M817.8 448.3h0M703.8 430.1h0M687.1 449.0h0M762.4 440.2h0M763.2 433.3h0M770.3 416.4h0M938.7 413.0h0M916.4 425.3h0M646.6 439.6h0M712.1 404.1h0M788.6 461.7h0M867.9 413.8h0M651.8 440.2h0M676.3 456.7h0M838.0 405.9h0M784.9 418.5h0M967.0 434.6h0M984.3 400.4h0M620.6 452.6h0M613.2 406.1h0M773.7 472.5h0M880.5 451.2h0M929.5 436.9h0M880.5 396.8h0M857.5 418.7h0M734.3 414.7h0M805.2 387.2h0M818.0 400.9h0M984.3 415.3h0M809.4 409.9h0M721.1 406.4h0M898.5 420.3h0M944.7 416.1h0M650.4 428.2h0M634.5 399.5h0M809.2 439.6h0M685.5 402.1h0M808.6 427.3h0M792.6 448.7h0M656.4 386.1h0M881.0 399.6h0M732.2 414.3h0M969.2 424.2h0M885.7 393.2h0M616.6 406.4h0M856.6 427.5h0M635.7 423.0h0M658.2 443.1h0M802.0 393.8h0M631.8 429.2h0M849.9 423.6h0M788.7 445.3h0M879.2 452.2h0M766.0 401.3h0M682.3 403.1h0M837.7 444.1h0M639.9 433.9h0M829.9 450.2h0M629.6 454.1h0M708.1 421.6h0M847.2 462.2h0M805.9 395.5h0M760.5 392.5h0M600.0 422.0h0M745.5 477.7h0M700.4 414.5h0M754.5 448.7h0M917.6 418.7h0M600.9 420.5h0M776.7 424.0h0M752.3 442.7h0M602.4 414.8h0M658.4 458.1h0M948.0 436.9h0M977.6 406.7h0M678.4 421.4h0M780.5 403.8h0M968.4 456.3h0M715.3 406.5h0M713.4 422.6h0M861.8 458.7h0M678.2 421.1h0M980.8 428.4h0M784.3 420.8h0M910.4 445.8h0M997.2 410.7h0M981.4 431.2h0M947.5 445.9h0M825.4 466.3h0M632.2 411.7h0M795.1 462.9h0M674.4 459.1h0M635.3 418.3h0M785.5 452.9h0M809.1 465.7h0M877.0 421.5h0M808.4 422.0h0M949.0 413.9h0M672.3 408.2h0M700.2 461.9h0M874.7 408.3h0M768.0 470.0h0M984.4 406.2h0M999.5 415.5h0M928.0 439.4h0M662.3 407.5h0M688.5 417.7h0M845.3 413.8h0M685.3 467.5h0M644.5 445.1h0M762.3 429.7h0M948.6 455.8h0M924.1 460.3h0M600.3 406.4h0M635.1 409.7h0M689.3 439.1h0M775.3 455.2h0M759.3 415.3h0M904.8 451.1h0M744.7 452.9h0M704.9 432.6h0M675.1 417.7h0M767.4 393.4h0M724.7 418.4h0M730.8 433.1h0M718.3 397.8h0M903.9 455.2h0M963.2 423.1h0M668.5 393.6h0M759.8 458.0h0M634.1 426.6h0M632.5 405.4h0M821.4 446.8h0M977.0 415.4h0M692.9 390.9h0M675.1 388.3h0M600.5 395.9h0M814.6 428.4h0M962.7 431.1h0M634.8 398.9h0M899.7 407.3h0M738.2 426.6h0M773.3 411.8h0M661.8 387.5h0M991.2 421.1h0M874.9 404.6h0M733.2 460.8h0M811.1 407.2h0M792.6 436.4h0M678.1 427.5h0M971.6 427.5h0M996.1 453.7h0M876.9 427.1h0M675.5 447.6h0M676.1 428.8h0M660.5 424.3h0M986.9 441.8h0M805.1 443.7h0M861.9 442.2h0M714.1 405.2h0M948.7 431.4h0M718.0 440.8h0M618.7 432.2h0M636.4 404.0h0M791.9 442.8h0M985.5 395.2h0M651.5 431.0h0M752.2 452.5h0M768.2 402.0h0M628.5 457.3h0M804.1 436.1h0M873.3 457.5h0M760.7 419.7h0M910.7 428.8h0M813.1 408.8h0M977.1 413.9h0M728.2 390.7h0M620.2 399.1h0M799.1 465.6h0M888.0 432.8h0M991.6 413.9h0M727.1 410.3h0M841.1 429.3h0M649.9 431.8h0M794.5 432.2h0M878.4 404.2h0M837.3 432.7h0M719.2 432.2h0M671.2 446.1h0M645.8 427.4h0M622.3 436.3h0M731.5 398.7h0M867.8 408.1h0M925.2 430.4h0M707.0 441.1h0M689.2 410.2h0M632.8 407.6h0M687.5 400.1h0M766.4 427.7h0M837.8 437.4h0M872.9 443.3h0M788.3 466.2h0M656.6 411.1h0M952.0 423.7h0M937.1 438.4h0M732.5 411.5h0M766.3 475.8h0M787.3 419.4h0M609.5 421.5h0M970.1 424.8h0M974.9 454.6h0M798.7 413.5h0M897.3 390.3h0M859.3 450.5h0M654.0 416.0h0M781.9 409.1h0M642.9 399.4h0M917.3 424.6h0M711.5 408.9h0M726.5 441.9h0M886.0 425.9h0M886.0 439.4h0M924.5 454.2h0M740.5 396.0h0M932.1 400.6h0M969.5 417.6h0M660.9 451.3h0M674.1 419.5h0M775.5 445.2h0M807.1 448.1h0M848.3 425.5h0M798.5 418.0h0M933.5 436.9h0M878.6 462.8h0M781.5 451.2h0M954.0 431.3h0M928.3 411.5h0M839.4 409.5h0M701.1 400.7h0M811.2 453.2h0M829.6 389.5h0M912.6 449.1h0M730.0 472.6h0M797.9 457.9h0M636.4 414.2h0M902.4 450.0h0M880.7 450.9h0M616.7 408.0h0M721.1 432.5h0M638.3 425.7h0M656.0 416.9h0M737.8 395.8h0M762.1 474.8h0M723.0 434.3h0M810.9 423.5h0M995.8 423.2h0M918.8 433.2h0M739.7 465.4h0M839.5 456.6h0M802.9 423.4h0M887.7 399.9h0M790.0 404.0h0M758.6 459.7h0M817.0 447.2h0M695.7 458.3h0M704.9 423.2h0M911.7 409.6h0M666.4 454.2h0M716.2 410.9h0M740.8 459.0h0M855.3 421.5h0M873.0 462.1h0M808.4 445.4h0M944.2 405.3h0M787.1 452.4h0M606.4 422.2h0M816.7 427.7h0M801.9 464.5h0M645.6 453.4h0M712.9 392.9h0M784.8 397.3h0M783.5 401.0h0M777.8 398.0h0M998.5 404.9h0M777.5 442.4h0M869.6 397.3h0M939.1 420.3h0M633.1 425.9h0M848.9 419.3h0M891.2 414.6h0M767.9 435.6h0M753.1 402.6h0M835.3 396.3h0M667.0 424.7h0M998.7 421.4h0M986.3 448.9h0M833.1 455.2h0M788.9 460.6h0M856.0 391.9h0M902.5 426.1h0M753.5 438.1h0M778.1 457.3h0M741.8 433.8h0M692.0 417.0h0M644.1 409.8h0M711.2 450.5h0M658.1 399.6h0M989.2 446.0h0M903.7 442.9h0M984.8 435.7h0M655.6 386.1h0M636.1 429.1h0M821.2 464.2h0M628.2 391.7h0M638.2 419.5h0M617.5 441.2h0M672.4 406.4h0M728.6 408.4h0M718.3 406.3h0M737.6 441.1h0M825.0 454.3h0M828.8 414.7h0M684.0 423.9h0M978.5 441.9h0M817.5 451.5h0M945.9 457.3h0M978.8 456.0h0M633.2 446.5h0M647.2 425.3h0M651.9 413.6h0M621.0 436.3h0M636.8 408.1h0M911.0 412.8h0M831.7 467.2h0M854.5 462.8h0M973.0 408.3h0M967.1 415.6h0M690.8 467.0h0M689.2 458.1h0M650.9 432.6h0M829.8 438.1h0M808.7 407.4h0M918.9 425.9h0M704.5 458.4h0M797.5 386.4h0M609.5 437.4h0M614.6 444.1h0M653.3 458.7h0M608.0 450.6h0M789.8 434.1h0M939.7 411.9h0M988.6 413.0h0M614.8 411.6h0M746.9 441.7h0M911.1 455.8h0M671.3 424.1h0M788.5 463.9h0M700.9 442.2h0M898.4 417.5h0M707.1 393.1h0M851.3 424.0h0M680.0 415.4h0M727.7 396.9h0M837.2 399.7h0M686.5 419.3h0M995.4 452.4h0M685.0 465.2h0M975.5 416.4h0M918.9 444.8h0M868.3 446.6h0M974.8 428.3h0M889.3 429.6h0M701.9 403.9h0M829.4 387.0h0M640.3 392.0h0M718.9 426.9h0M678.4 450.3h0M818.6 456.7h0M918.4 454.2h0M727.0 439.6h0M930.0 408.4h0M840.5 395.9h0M778.1 402.8h0M895.2 440.8h0M793.7 446.7h0M924.3 403.1h0M816.2 410.6h0M674.9 405.7h0M773.0 401.6h0M670.7 414.1h0M748.7 469.0h0M810.2 431.6h0M850.6 401.8h0M748.2 426.8h0M626.2 414.1h0M828.7 442.3h0M706.4 391.9h0M828.4 399.7h0M727.4 458.2h0M940.7 444.7h0M613.5 411.1h0M749.7 426.6h0M829.0 402.6h0M688.7 387.1h0M760.8 396.2h0M937.1 406.6h0M803.1 439.9h0M616.5 436.9h0M920.8 407.7h0M852.4 453.8h0M824.2 419.0h0M804.6 448.4h0M774.9 455.0h0M899.7 456.4h0M773.6 398.9h0M669.5 413.2h0M824.8 390.6h0M724.2 399.0h0M814.1 404.1h0M742.7 456.0h0M933.5 422.2h0M825.0 416.4h0M677.1 450.5h0M624.0 446.7h0M691.7 402.8h0M846.3 422.1h0M622.7 399.1h0M915.9 421.9h0M911.9 443.7h0M601.2 417.5h0M840.0 408.2h0M729.7 447.6h0M690.8 388.0h0M859.8 450.9h0M934.1 395.5h0M670.5 430.1h0M711.4 397.3h0M656.4 389.1h0M771.2 397.8h0M611.5 394.0h0M881.2 446.4h0M737.9 461.4h0M617.9 424.7h0M659.6 430.6h0M740.3 391.5h0M834.6 424.6h0M822.6 432.5h0M827.6 415.4h0M926.0 434.4h0M694.5 440.6h0M911.1 432.3h0M729.8 436.7h0M876.0 402.3h0M954.5 423.9h0M767.5 434.3h0M903.9 401.2h0M673.4 431.4h0M606.3 426.3h0M651.3 403.9h0M746.2 470.1h0M844.7 411.6h0M855.2 433.4h0M600.8 426.8h0M880.9 461.7h0M805.6 421.1h0M778.1 462.9h0M774.8 436.6h0M833.5 435.1h0M640.5 420.7h0M676.2 458.4h0M868.5 397.9h0M939.3 420.8h0M746.6 435.4h0M1000.0 395.0h0M978.5 419.3h0M704.5 442.1h0M759.5 404.9h0M990.0 402.4h0M633.6 422.3h0M781.6 423.4h0M655.8 460.8h0M903.1 405.7h0M743.7 407.0h0M897.8 444.2h0M729.5 451.9h0M674.8 430.7h0M908.1 418.0h0M650.1 449.2h0M874.1 442.8h0M963.0 420.3h0M804.0 428.0h0M942.2 416.4h0M696.3 420.0h0M929.6 455.6h0M674.9 462.6h0M994.9 417.0h0M915.7 450.8h0M846.5 407.0h0M732.6 463.2h0M893.2 454.0h0M728.7 472.5h0M636.6 402.5h0M946.8 437.0h0M981.6 416.5h0M626.5 399.2h0M771.4 447.1h0M713.3 403.9h0M794.6 430.4h0M795.1 453.3h0M673.7 460.6h0M730.2 422.9h0M958.8 455.2h0M891.3 460.4h0M769.2 417.9h0M809.0 465.6h0M669.6 451.6h0M765.4 428.8h0M699.8 404.7h0M725.2 405.3h0M850.3 439.0h0M894.9 456.3h0M988.1 435.1h0M846.3 435.3h0M791.0 417.4h0M723.9 416.6h0M803.4 427.2h0M818.9 448.6h0M994.9 440.4h0M996.4 415.1h0M843.5 440.3h0M780.4 428.6h0M791.7 417.9h0M734.1 439.9h0M766.3 447.9h0M823.0 435.5h0M642.3 387.5h0M807.5 411.5h0M896.5 415.9h0M619.5 400.1h0M732.5 446.3h0M982.2 437.9h0M618.5 448.2h0M741.8 442.6h0M669.9 422.7h0M697.6 449.4h0M978.9 419.9h0M801.5 445.4h0M905.6 419.0h0M707.3 447.2h0M724.2 432.2h0M851.7 437.8h0M989.3 418.1h0M685.8 423.6h0M624.0 401.5h0M694.3 459.1h0M876.7 400.7h0M926.1 418.1h0M927.7 409.7h0M972.7 398.4h0M757.4 413.9h0M928.3 457.6h0M812.6 436.1h0M716.9 440.8h0M618.9 453.6h0M982.2 428.4h0M785.5 440.6h0M751.8 473.2h0M685.6 431.3h0M876.5 455.9h0M722.7 396.6h0M875.9 396.9h0M802.5 469.6h0M911.6 448.9h0M703.8 393.5h0M646.5 394.1h0M870.0 451.6h0M978.2 421.4h0M745.4 466.8h0M765.3 460.8h0M683.2 436.5h0M901.0 453.4h0M878.0 393.4h0M927.9 438.7h0M848.7 406.1h0M915.5 457.2h0M766.2 466.7h0M693.0 420.5h0M684.8 388.3h0M656.9 399.5h0M806.8 430.8h0M854.0 434.2h0M709.5 424.7h0M964.2 425.3h0M759.7 466.1h0M627.3 452.3h0M648.4 411.0h0M799.6 395.6h0M835.3 387.1h0M885.4 444.3h0M601.6 427.2h0M607.0 390.9h0M871.5 457.7h0M730.1 399.9h0M709.5 406.7h0M822.6 411.0h0M692.0 444.3h0M779.1 392.9h0M754.8 411.7h0M919.4 407.8h0M855.8 449.1h0M766.8 389.3h0M814.0 395.3h0M663.7 388.0h0M958.5 410.9h0M738.1 417.4h0M853.4 413.9h0M787.3 447.0h0M710.0 397.8h0M861.4 446.9h0M601.5 426.1h0M938.5 441.4h0M681.2 422.5h0M862.9 417.3h0M884.0 410.7h0M801.7 444.6h0M910.6 408.3h0M901.7 436.6h0M851.1 394.1h0M810.4 393.8h0M852.0 460.3h0M753.5 426.2h0M849.7 438.1h0M874.3 418.2h0M622.0 449.3h0M689.5 451.9h0M623.9 430.8h0M736.1 417.5h0M703.0 464.1h0M782.2 437.3h0M647.1 437.8h0M853.3 396.8h0M735.5 410.3h0M821.0 392.6h0M993.2 422.0h0M776.0 420.6h0M849.0 414.0h0M857.4 432.4h0M783.9 460.6h0M895.8 411.7h0M725.0 424.0h0M622.2 424.8h0M646.0 448.3h0M733.1 416.0h0M687.2 408.8h0M781.9 436.9h0M839.4 401.2h0M685.4 425.8h0M914.3 440.1h0M678.8 446.9h0M831.4 399.3h0M622.7 434.9h0M966.9 416.2h0M855.1 394.9h0M720.3 453.3h0M895.9 426.0h0M715.2 396.1h0M930.7 455.1h0M691.7 447.7h0M804.6 438.9h0M766.6 438.8h0M824.0 415.3h0M746.7 400.5h0M852.4 462.9h0M691.4 440.9h0M756.0 402.2h0M625.1 388.5h0M897.5 397.7h0M712.7 433.5h0M679.0 440.2h0M789.6 406.2h0M871.4 445.8h0M980.3 416.9h0M910.5 444.2h0M828.6 388.5h0M723.1 425.8h0M618.3 394.4h0M929.6 395.6h0M824.1 407.7h0M810.6 422.2h0M706.4 428.4h0M784.1 397.1h0M896.8 400.6h0M897.6 458.6h0M969.1 434.3h0M1141.0 430.4h0M1146.1 417.4h0M1152.1 427.1h0M1113.7 400.8h0M1148.0 439.9h0M1113.3 439.6h0M1144.5 423.7h0M1110.4 394.3h0M1106.7 423.0h0M1119.7 390.6h0M1096.0 431.7h0M1099.3 387.0h0M1124.8 378.8h0M1115.3 389.2h0M1149.4 413.8h0M1122.0 407.8h0M1127.4 430.0h0M1152.8 437.0h0M1150.8 393.3h0M1117.4 382.6h0M1137.9 407.2h0M1108.6 389.8h0M1117.3 395.2h0M1121.7 415.0h0M1115.4 416.5h0M1116.0 409.9h0M1121.4 434.0h0M1152.1 415.9h0M1141.9 396.1h0M1097.2 397.0h0M1095.4 428.6h0M1153.7 420.0h0M1101.4 384.2h0M1142.8 415.2h0M1095.9 444.5h0M1158.7 429.9h0M1097.0 399.3h0M1125.3 419.7h0M1096.4 394.0h0M1120.7 440.3h0M1150.6 438.1h0M1099.2 401.9h0M1134.8 431.9h0M1147.4 383.4h0M1135.8 376.8h0M1108.3 378.6h0M1123.3 383.8h0M1134.5 403.6h0M1145.7 397.7h0M1091.1 410.0h0M1122.7 434.1h0M1087.0 387.7h0M1103.4 405.4h0M1146.6 421.5h0M1102.8 402.1h0M1142.5 413.9h0M1093.1 400.2h0M1102.4 396.1h0M1110.4 435.5h0M1091.2 381.3h0M1094.9 405.0h0M1117.6 440.2h0M1139.5 393.8h0M1094.9 413.4h0M1147.4 390.7h0M1142.4 400.5h0M1098.1 431.4h0M1129.3 402.1h0M1123.8 438.4h0M1121.1 414.5h0M1122.1 376.7h0M1141.9 382.3h0M1152.5 375.5h0M1127.6 392.9h0M1136.4 418.8h0M1141.0 432.4h0M1102.2 408.9h0M1154.6 402.7h0M1100.6 411.7h0M1108.7 380.5h0M1145.6 406.9h0M1148.2 382.3h0M1110.3 383.2h0M1148.4 406.3h0M1130.4 378.6h0M1118.0 402.2h0M1137.8 391.5h0M1123.5 408.0h0M1110.7 379.0h0M1095.0 388.6h0M1109.0 377.4h0M1110.6 394.8h0M1109.5 433.6h0M1108.0 379.9h0M1142.2 426.0h0M551.6 349.8h0M531.6 375.4h0M498.8 369.2h0M477.4 354.4h0M479.8 368.6h0M557.8 346.9h0M497.0 351.2h0M536.5 354.7h0M442.8 359.1h0M575.5 371.7h0M534.2 384.2h0M547.2 351.7h0M523.1 336.8h0M558.7 395.6h0M495.9 376.8h0M456.1 351.8h0M574.7 379.6h0M574.7 385.5h0M529.9 328.4h0M466.0 373.6h0M521.9 390.6h0M450.1 353.5h0M546.5 373.1h0M516.2 343.5h0M438.3 380.8h0M539.7 392.9h0M494.7 338.5h0M516.0 370.3h0M555.3 393.6h0M561.1 374.0h0M533.2 389.5h0M555.8 359.7h0M577.5 396.9h0M421.4 336.9h0M509.0 363.6h0M468.7 359.9h0M423.7 353.4h0M504.6 380.2h0M528.3 328.2h0M424.1 358.6h0M542.2 342.1h0M535.0 338.3h0M478.7 363.3h0M406.2 349.8h0M481.9 357.9h0M536.5 332.4h0M502.6 379.8h0M536.3 332.3h0M545.9 377.9h0M469.9 338.5h0M513.6 387.9h0M534.8 376.9h0M393.1 357.0h0M441.1 362.7h0M520.4 368.0h0M439.9 353.7h0M439.9 335.4h0M426.8 359.3h0M568.2 390.8h0M538.1 393.2h0M420.7 370.5h0M437.7 371.7h0M557.7 385.2h0M501.2 355.2h0M532.9 367.1h0M533.8 328.5h0M550.5 382.1h0M512.8 361.0h0M388.6 358.8h0M459.6 354.9h0M488.6 348.0h0M563.4 376.9h0M447.5 371.9h0M416.5 356.7h0M515.9 355.4h0M491.1 356.6h0M466.0 365.9h0M463.0 343.7h0M467.4 382.5h0M412.5 357.8h0M439.9 352.8h0M583.9 391.1h0M495.6 373.4h0M510.4 385.0h0M457.8 371.9h0M425.6 338.2h0M436.0 352.3h0M442.3 367.9h0M507.0 383.6h0M545.4 354.5h0M574.2 373.3h0M546.4 328.5h0M466.9 343.9h0M556.9 380.8h0M497.7 355.1h0M570.5 377.1h0M446.7 332.1h0M557.6 364.1h0M515.5 370.5h0M545.0 386.5h0M582.4 395.6h0M548.4 340.6h0M473.8 385.8h0M454.5 348.1h0M450.0 345.9h0M483.2 368.9h0M542.6 364.4h0M460.5 388.2h0M471.5 353.4h0M573.0 383.3h0M519.6 363.5h0M465.2 352.6h0M427.4 352.8h0M430.1 335.9h0M454.5 367.4h0M552.2 364.7h0M539.9 370.5h0M456.4 354.7h0M785.5 514.3h0M939.8 512.7h0M875.7 503.9h0M765.5 509.5h0M667.8 521.5h0M749.8 522.4h0M735.9 509.5h0M922.9 512.6h0M836.6 504.8h0M802.5 507.3h0M764.5 516.6h0M684.6 520.4h0M784.7 523.6h0M737.2 519.3h0M991.9 502.4h0M871.6 519.5h0M1026.3 511.8h0M1037.9 497.8h0M827.1 513.4h0M766.2 524.5h0M756.8 511.7h0M707.4 508.7h0M838.2 515.2h0M869.5 505.0h0M988.9 497.0h0M869.3 509.7h0M893.6 515.8h0M1024.4 499.9h0M709.4 520.2h0M674.6 514.4h0M766.8 526.7h0M695.1 508.7h0M933.7 519.9h0M1032.0 514.6h0M693.5 525.4h0M888.2 517.2h0M954.6 518.5h0M1037.0 497.0h0M789.9 508.0h0M890.4 509.0h0M814.2 523.2h0M715.8 509.7h0M808.4 524.8h0M773.2 515.8h0M996.2 496.8h0M939.5 500.7h0M1007.8 501.0h0M803.6 522.1h0M351.5 423.3h0M378.7 439.1h0M357.8 446.3h0M324.5 454.5h0M291.7 441.0h0M368.2 445.7h0M314.0 386.8h0M406.4 411.0h0M331.8 443.5h0M380.5 395.7h0M377.2 425.0h0M297.3 419.2h0M380.3 394.0h0M425.6 408.1h0M374.6 403.8h0M355.3 453.5h0M347.6 415.0h0M328.7 410.5h0M333.0 452.1h0M431.3 390.8h0M406.4 447.0h0M391.1 450.5h0M331.0 448.5h0M408.1 431.1h0M359.8 434.3h0M432.7 393.3h0M294.1 427.8h0M299.8 447.4h0M418.7 454.7h0M310.0 412.2h0M299.5 432.7h0M307.4 388.3h0M320.9 392.1h0M421.6 449.0h0M395.8 432.5h0M355.3 395.2h0M319.0 386.2h0M303.6 401.2h0M373.5 385.3h0M375.0 417.4h0M336.0 385.9h0M350.9 443.8h0M401.6 433.3h0M335.6 392.8h0M406.3 386.4h0M359.8 407.0h0M318.9 383.8h0M335.7 422.9h0M365.6 441.1h0M386.4 452.2h0M324.1 402.8h0M343.1 390.8h0M332.4 417.5h0M348.6 401.9h0M407.4 434.7h0M429.2 420.8h0M377.9 424.8h0M429.5 404.7h0M418.8 418.0h0M406.0 438.8h0M333.9 424.5h0M358.3 392.3h0M347.8 451.6h0M341.0 389.8h0M393.7 415.4h0M382.2 389.6h0M369.1 413.6h0M376.4 415.6h0M373.5 454.2h0M307.3 384.0h0M342.8 388.9h0M295.1 436.2h0M416.2 380.4h0M318.2 395.9h0M347.4 454.3h0M301.8 409.2h0M369.7 395.1h0M341.0 432.8h0M393.0 439.7h0M395.5 405.1h0M310.6 381.2h0M390.6 439.7h0M396.1 425.2h0M351.7 383.6h0M357.7 388.4h0M334.5 437.4h0M378.5 447.0h0M419.9 434.1h0M431.3 391.4h0M401.9 427.5h0M373.1 389.1h0M365.4 447.9h0M397.8 449.8h0M407.7 385.0h0M350.5 443.4h0M398.8 416.8h0M358.7 409.5h0M345.6 406.6h0M361.1 424.3h0M313.2 392.7h0M385.3 423.0h0M364.0 419.0h0M343.5 454.8h0M335.0 419.9h0M335.1 425.1h0M336.1 411.7h0M297.3 405.5h0M358.5 426.2h0M406.6 383.8h0M338.7 398.2h0M359.6 448.0h0M430.5 434.3h0M431.2 417.6h0M383.3 390.1h0M399.2 399.9h0M373.7 397.4h0M367.4 409.7h0M422.7 419.2h0M405.8 399.3h0M366.2 419.6h0M336.9 411.0h0M293.1 391.3h0M340.0 431.0h0M377.8 433.5h0M303.7 396.3h0M430.1 390.2h0M316.2 421.7h0M359.6 445.5h0M419.3 423.8h0M357.9 413.3h0M439.0 388.3h0M362.9 437.3h0M391.3 387.2h0M412.7 449.6h0M402.7 392.9h0M425.5 390.8h0M292.4 432.6h0M394.3 438.5h0M369.9 385.3h0M295.7 428.5h0M404.9 406.0h0M405.4 408.4h0M359.0 431.5h0M394.0 428.6h0M310.9 431.7h0M407.9 436.4h0M385.2 424.5h0M326.8 454.7h0M436.8 399.4h0M389.2 436.4h0M361.4 401.7h0M343.2 391.7h0M411.2 418.9h0M440.9 396.0h0M438.3 428.7h0M373.0 388.0h0M300.0 417.3h0M308.4 427.5h0M325.5 449.1h0M387.7 383.7h0M420.0 431.1h0M322.6 408.1h0M391.9 447.0h0M350.3 440.6h0M432.0 451.4h0M383.5 441.6h0M301.3 433.5h0M418.7 406.0h0M418.2 406.3h0M415.9 404.8h0M373.8 426.7h0M308.1 386.3h0M342.7 412.4h0M386.5 452.1h0M432.2 389.5h0M397.0 388.8h0M300.0 387.5h0M425.2 433.2h0M368.5 423.3h0M384.4 387.9h0M361.9 448.1h0M294.9 433.3h0M301.0 420.1h0M316.8 385.6h0M299.6 412.0h0M436.9 390.9h0M356.6 403.0h0M345.1 396.4h0M349.9 453.5h0M311.1 442.3h0M410.0 414.5h0M394.4 421.4h0M439.6 384.0h0M404.4 441.5h0M388.7 452.8h0M298.1 425.9h0M402.7 385.4h0M370.8 441.3h0M391.4 408.6h0M413.4 448.6h0M324.6 398.7h0M414.0 436.6h0M354.9 454.3h0M437.5 424.6h0M347.4 386.6h0M292.0 409.5h0M355.3 386.4h0M323.9 444.9h0M402.6 406.9h0M306.0 449.9h0M426.5 437.3h0M393.1 431.3h0M330.8 421.8h0M290.3 404.1h0M318.0 388.3h0M399.4 413.2h0M337.9 438.6h0M386.7 430.6h0M426.4 393.9h0M357.9 385.3h0M400.9 436.3h0M294.8 405.7h0M300.8 441.3h0M381.5 398.5h0M395.6 449.9h0M422.2 409.0h0M755.6 565.7h0M712.5 554.2h0M635.0 518.5h0M562.1 532.9h0M675.8 566.7h0M622.3 555.5h0M668.9 568.6h0M738.5 510.1h0M699.3 528.5h0M743.5 513.8h0M621.1 511.8h0M673.1 512.5h0M573.5 510.0h0M729.8 564.4h0M648.2 565.2h0M667.1 566.8h0M563.1 511.9h0M687.2 529.0h0M663.7 558.2h0M650.6 528.8h0M744.9 534.6h0M637.2 543.4h0M672.9 520.5h0M691.7 539.0h0M744.2 534.3h0M683.2 532.3h0M648.7 561.9h0M729.4 518.4h0M603.9 515.6h0M651.6 527.5h0M600.9 552.6h0M749.7 522.8h0M653.7 537.4h0M663.1 531.1h0M579.8 528.6h0M737.9 541.9h0M745.7 510.6h0M578.5 518.2h0M643.2 566.6h0M661.5 510.4h0M709.7 543.6h0M610.3 530.2h0M548.3 524.5h0M723.0 533.4h0M724.1 572.2h0M687.2 528.5h0M634.8 517.3h0M590.4 532.3h0M648.4 532.6h0M675.2 539.2h0M609.1 534.6h0M636.0 529.5h0M619.8 540.0h0M725.8 562.4h0M726.7 540.2h0M745.8 513.3h0M722.9 553.5h0M611.3 549.3h0M682.6 532.6h0M737.4 509.6h0M604.8 544.0h0M608.6 530.9h0M662.2 565.0h0M713.9 534.8h0M728.5 573.6h0M571.9 521.5h0M750.6 515.8h0M716.5 522.4h0M595.0 537.3h0M742.8 552.7h0M733.9 571.5h0M654.0 517.5h0M608.9 521.3h0M601.3 519.4h0M685.4 560.4h0M713.8 542.7h0M752.0 516.0h0M548.4 517.1h0M676.1 517.5h0M718.5 556.3h0M664.3 527.1h0M671.1 513.1h0M634.1 546.4h0M689.3 544.5h0M649.0 553.3h0M752.9 568.9h0M585.8 532.1h0M670.0 563.4h0M689.9 521.4h0M699.0 562.7h0M634.5 560.9h0M609.8 515.7h0M650.1 514.1h0M725.4 558.6h0M625.9 519.1h0M652.5 515.1h0M706.2 562.0h0M559.3 530.3h0M654.6 534.7h0M690.4 511.8h0M703.2 552.9h0M589.2 514.6h0M569.3 519.5h0M640.4 519.6h0M543.2 533.9h0M549.7 511.1h0M716.0 548.7h0M596.8 528.3h0M629.5 537.3h0M673.3 520.7h0M671.1 551.2h0M726.0 562.8h0M705.8 547.8h0M680.8 548.9h0M618.4 515.2h0M640.4 535.5h0M734.0 541.3h0M611.1 535.7h0M647.4 549.7h0M693.6 512.1h0M702.6 556.1h0M739.1 532.5h0M738.7 557.3h0M601.9 542.9h0M663.2 527.4h0M666.6 548.9h0M636.9 526.2h0M723.4 515.4h0M642.4 549.8h0M753.2 520.7h0M745.4 551.8h0M550.9 530.5h0M682.1 567.8h0M550.6 538.2h0M725.3 518.6h0M614.0 549.9h0M727.3 523.7h0M588.8 512.1h0M663.3 551.7h0M549.8 517.9h0M640.8 550.7h0M659.5 550.0h0M678.6 534.2h0M668.8 535.1h0M699.6 543.1h0M552.0 534.1h0M557.2 538.4h0M698.6 536.8h0M545.6 522.7h0M629.4 525.9h0M718.8 523.7h0M745.4 554.3h0M590.2 537.0h0M666.1 520.1h0M735.5 518.7h0M687.3 542.7h0M721.6 515.2h0M570.6 546.3h0M595.3 525.7h0M655.3 519.0h0M679.4 520.0h0M540.9 527.1h0M624.0 541.5h0M592.0 519.2h0M648.9 337.3h0M666.5 352.8h0M563.1 326.6h0M558.1 342.9h0M566.1 351.4h0M558.9 363.4h0M585.0 359.0h0M597.7 339.7h0M563.9 365.1h0M610.5 328.3h0M585.5 329.1h0M621.5 368.8h0M565.3 366.0h0M669.2 322.1h0M649.4 353.5h0M630.9 322.7h0M684.3 348.4h0M622.6 329.6h0M584.9 352.7h0M580.2 357.2h0M656.4 346.6h0M660.8 338.8h0M692.5 339.7h0M584.9 372.4h0M645.3 325.6h0M591.3 334.4h0M562.5 346.1h0M674.6 326.5h0M583.7 346.7h0M600.1 353.6h0M558.3 329.8h0M681.4 330.8h0M694.1 335.9h0M587.7 347.0h0M621.2 339.7h0M621.4 367.2h0M593.5 321.7h0M601.7 320.1h0M593.8 317.7h0M592.7 340.7h0M630.4 366.7h0M575.3 326.5h0M610.6 363.8h0M549.7 368.6h0M583.6 343.7h0M555.0 369.5h0M637.8 329.7h0M613.0 350.4h0M693.2 344.4h0M559.2 343.2h0M630.6 316.4h0M634.3 333.3h0M603.6 339.1h0M689.4 329.1h0M579.5 375.1h0M684.0 345.4h0M562.6 339.2h0M597.0 374.5h0M628.4 356.8h0M559.6 339.3h0M552.2 337.6h0M587.3 348.6h0M651.5 345.8h0M616.3 348.6h0M594.5 321.2h0M594.8 343.7h0M698.4 327.4h0M548.8 350.8h0M554.2 352.3h0M584.4 361.1h0M606.3 332.5h0M651.4 336.3h0M601.2 365.5h0M493.6 513.2h0M527.0 509.5h0M488.6 511.1h0M472.7 506.6h0M524.7 515.5h0M490.7 510.7h0M513.0 508.9h0M500.4 527.3h0M479.5 506.3h0M526.3 505.9h0M473.3 520.4h0M520.1 524.9h0M538.8 520.0h0M532.8 514.1h0M500.2 526.1h0M530.2 535.7h0M535.2 505.8h0M496.0 513.0h0M646.9 196.5h0M631.1 209.8h0M669.1 201.9h0M668.4 211.2h0M676.3 209.4h0M685.4 195.3h0M691.1 196.9h0M705.8 184.5h0M707.6 192.4h0M719.3 176.5h0M738.6 190.8h0M715.9 203.0h0M705.8 208.7h0M697.8 218.4h0M694.5 224.5h0M754.4 168.6h0M618.6 217.3h0M619.8 219.5h0M611.9 222.9h0M627.7 222.9h0M640.1 225.2h0M646.9 227.5h0M667.3 229.7h0M671.8 229.7h0M659.4 238.8h0M622.0 236.5h0M632.2 241.0h0M625.4 246.7h0M619.8 245.6h0M643.5 246.0h0M650.3 251.2h0M603.9 250.1h0M609.6 251.2h0M533.8 247.8h0M544.0 255.1h0M676.3 255.7h0M754.4 250.1h0M1031.6 87.1h0M1049.1 150.0h0M1004.9 172.0h0M823.9 136.9h0M834.1 136.9h0M837.5 146.0h0M810.3 144.8h0M799.0 153.9h0M757.1 168.6h0M796.3 182.8h0M839.7 180.6h0M891.3 174.7h0M1071.0 140.3h0M1086.8 156.8h0M1085.0 161.8h0M1077.8 171.5h0M1102.2 165.6h0M1128.7 170.2h0M1160.4 159.5h0M1164.9 173.1h0M1175.5 174.7h0M1115.8 181.0h0M1125.3 191.9h0M1154.7 192.8h0M1083.4 195.1h0M1077.8 172.3h0M1128.7 171.1h0M1164.9 172.7h0M1175.1 174.5h0M1116.3 181.3h0M1125.3 192.0h0M1083.4 196.7h0M1074.4 211.9h0M1097.0 217.1h0M1127.1 212.5h0M1075.5 228.4h0M1108.3 226.1h0M1127.6 224.3h0M1131.0 231.1h0M1154.7 192.6h0M1118.5 249.2h0M1122.6 273.6h0M1192.1 274.1h0M1219.9 261.6h0M1290.5 254.9h0M1307.5 269.6h0M1310.9 217.1h0M1304.1 308.0h0M1334.6 326.1h0M1267.9 330.7h0M1222.6 326.1h0M1212.4 316.0h0M1183.0 318.2h0M1166.0 322.7h0M1161.5 284.3h0M1154.7 282.0h0M1149.1 285.4h0M1150.2 288.8h0M865.8 221.7h0M783.8 246.1h0M851.0 252.9h0M757.1 250.0h0M771.8 256.1h0M771.8 262.9h0M951.7 268.1h0M991.3 281.0h0M816.0 293.6h0M853.3 290.7h0M857.8 290.7h0M774.1 300.9h0M939.3 293.0h0M951.7 294.5h0M943.8 300.9h0M968.7 244.3h0M923.5 306.5h0M848.8 305.0h0M870.3 299.1h0M880.5 302.0h0M883.9 300.4h0M880.5 311.1h0M866.9 306.5h0M873.7 309.9h0M770.7 307.7h0M794.5 312.2h0M776.4 314.0h0M821.6 313.3h0M830.7 311.5h0M764.4 319.0h0M888.4 316.7h0M907.6 315.6h0M907.6 322.4h0M934.8 314.9h0M946.1 314.5h0M976.6 305.4h0M980.0 312.2h0M986.8 312.2h0M994.7 319.0h0M1002.7 311.1h0M1019.6 311.7h0M1032.1 314.0h0M1038.9 318.5h0M1043.4 307.7h0M1046.8 305.4h0M1059.2 302.0h0M1063.8 296.4h0M1061.5 312.2h0M533.9 248.1h0M544.1 257.2h0M561.1 269.6h0M570.2 265.1h0M562.2 279.8h0M557.7 285.4h0M545.3 292.2h0M541.9 299.0h0M538.5 303.5h0M531.7 296.8h0M531.2 315.5h0M581.5 276.4h0M595.0 268.5h0M600.7 285.4h0M606.4 263.9h0M613.1 258.3h0M619.9 244.7h0M625.6 245.8h0M632.4 241.3h0M643.7 246.3h0M650.5 251.5h0M659.5 238.6h0M667.5 231.1h0M672.0 231.1h0M656.1 280.9h0M658.9 289.3h0M646.6 294.0h0M677.2 258.3h0M701.4 259.4h0M756.8 250.4h0M752.3 262.8h0M772.7 256.0h0M771.6 262.8h0M784.0 246.3h0M717.2 296.8h0M733.1 292.2h0M739.9 294.5h0M724.0 302.4h0M726.3 308.1h0M713.8 311.5h0M702.5 311.9h0M678.8 308.5h0M634.0 309.2h0M634.6 312.6h0M773.8 301.3h0M770.4 308.1h0M777.2 314.2h0M794.6 312.1h0M764.8 318.9h0M746.7 322.8h0M722.4 324.6h0M735.3 317.8h0M730.8 318.3h0M813.4 293.4h0M279.9 495.8h0M317.2 508.3h0M337.6 524.1h0M344.4 524.5h0M350.0 529.8h0M361.3 532.0h0M372.7 541.1h0M381.7 537.7h0M386.2 549.0h0M400.9 569.8h0M422.4 563.0h0M423.6 572.1h0M429.2 577.3h0M432.6 552.4h0M433.8 533.1h0M422.4 535.4h0M424.7 541.1h0M404.3 526.4h0M379.5 526.4h0M384.0 521.8h0M362.5 519.6h0M359.1 526.4h0M307.0 504.9h0M291.2 496.9h0M197.3 442.6h0M180.3 431.3h0M232.4 450.5h0M243.7 459.6h0M252.7 463.0h0M261.8 474.3h0M1299.6 340.2h0M1345.9 341.3h0M1357.3 334.5h0M1365.2 331.8h0M1333.5 352.6h0M1330.1 359.4h0M1360.7 357.2h0M1370.8 363.5h0M1321.1 366.2h0M1323.3 373.0h0M1318.8 375.3h0M1326.7 379.8h0M1335.8 381.6h0M1350.5 369.6h0M1353.9 374.1h0M1353.9 378.7h0M1300.7 368.5h0M1291.6 358.3h0M1291.6 374.1h0M1291.6 385.4h0M1282.6 351.5h0M1274.7 348.1h0M1279.2 345.8h0M1288.2 347.0h0M1295.0 351.5h0M1271.3 342.4h0M1270.1 352.6h0M1278.1 359.4h0M1275.8 367.3h0M1282.6 371.9h0M1287.1 373.0h0M1269.0 377.5h0M1263.4 366.2h0M1262.2 391.1h0M1270.1 397.9h0M1278.1 388.8h0M1278.1 395.6h0M1275.8 400.2h0M1282.6 405.8h0M1308.6 405.8h0M1327.8 395.6h0M1327.8 402.4h0M1288.2 417.1h0M1293.9 418.3h0M1300.7 421.6h0M1316.5 421.6h0M1330.1 417.1h0M1339.2 420.5h0M1342.6 423.9h0M1347.1 427.3h0M1357.3 422.8h0M1379.9 439.8h0M1365.2 444.3h0M1317.7 436.8h0M1308.6 440.9h0M1283.7 429.6h0M1275.8 426.2h0M1270.1 428.4h0M1261.1 423.9h0M1307.5 457.9h0M1338.0 464.6h0M1276.9 448.8h0M1273.5 453.3h0M1276.9 459.0h0M1265.6 460.1h0M1263.4 462.4h0M1260.6 451.7h0M1279.2 486.1h0M1282.6 488.4h0M1306.3 503.1h0M1303.0 517.8h0M1308.6 520.1h0M1316.5 519.0h0M1256.6 513.3h0M1261.1 514.4h0M1219.2 479.8h0M1229.4 468.0h0M1237.3 462.4h0M1248.6 453.3h0M1244.1 452.2h0M1239.6 447.7h0M1235.1 440.9h0M1240.7 435.2h0M1249.8 433.0h0M1258.8 419.4h0M1254.3 409.2h0M1250.9 397.9h0M1243.0 390.0h0M1231.7 386.6h0M1227.1 380.9h0M1229.4 370.7h0M1233.9 366.2h0M1238.5 370.7h0M1243.0 368.5h0M1249.8 367.3h0M1254.3 375.3h0M1243.0 377.5h0M1247.5 378.7h0M1233.9 375.3h0M1228.3 375.3h0M1220.4 377.5h0M1215.8 380.9h0M1213.6 382.0h0M1218.1 392.2h0M1215.8 397.9h0M1206.8 391.1h0M1202.3 388.8h0M1200.0 385.4h0M1197.7 391.1h0M1193.2 394.5h0M1189.8 399.0h0M1194.3 404.7h0M1184.1 402.4h0M1179.6 404.7h0M1174.0 416.0h0M1184.1 410.3h0M1188.7 408.1h0M1193.2 411.5h0M1198.9 422.8h0M1195.5 425.0h0M1207.9 427.3h0M1212.4 425.0h0M1217.0 429.6h0M1218.1 434.1h0M1221.5 440.9h0M1226.0 443.1h0M1229.4 452.2h0M1224.9 452.2h0M1222.6 455.6h0M1212.4 456.7h0M1215.8 463.5h0M1197.7 468.0h0M1193.2 455.6h0M1200.0 442.0h0M1194.3 433.6h0M1206.8 409.2h0M1211.3 413.7h0M1220.4 414.9h0M1229.4 422.8h0M1211.3 367.3h0M1205.6 363.9h0M1200.0 357.2h0M1194.3 369.6h0M1194.3 375.3h0M1188.7 357.2h0M1185.3 348.1h0M1194.3 345.8h0M1198.9 344.7h0M1206.8 351.5h0M1211.3 344.7h0M1215.8 343.6h0M1220.4 357.2h0M1231.7 351.5h0M1233.9 345.8h0M1229.4 339.1h0M1233.9 336.8h0M1238.5 332.3h0M1245.2 332.3h0M1254.3 344.7h0M1258.8 345.8h0M1256.6 351.5h0M1267.9 331.1h0M1201.1 333.4h0M1168.3 333.4h0M1164.9 340.2h0M1175.1 339.1h0M1157.0 339.1h0M1160.4 347.0h0M1163.8 351.5h0M1170.6 353.8h0M1175.1 358.3h0M1166.0 360.5h0M1170.6 366.2h0M1177.4 366.2h0M1175.1 373.0h0M1170.6 375.3h0M1175.1 379.8h0M1177.4 393.4h0M1168.3 388.8h0M1175.1 386.6h0M1179.6 384.3h0M1184.1 384.3h0M1188.7 379.8h0M1194.3 382.0h0M1184.1 357.2h0M1179.6 359.4h0M1075.5 447.7h0M1077.8 456.7h0M1080.1 440.9h0M1091.4 443.1h0M1093.6 447.7h0M1114.0 443.1h0M1115.1 447.7h0M1128.7 443.1h0M1128.7 447.7h0M1140.0 447.0h0M1157.0 447.7h0M1161.5 449.9h0M1108.3 461.3h0M1127.1 461.9h0M1144.5 460.8h0M1151.3 463.5h0M1157.0 463.1h0M1116.3 469.2h0M1117.4 472.6h0M1149.1 472.6h0M1161.5 474.8h0M1163.8 480.5h0M1166.0 483.9h0M1141.2 483.9h0M1127.6 488.4h0M1124.2 497.5h0M1120.8 503.1h0M1111.7 505.4h0M1099.3 503.1h0M1093.6 488.4h0M1098.2 479.4h0M1091.4 476.0h0M1086.8 468.0h0M1084.6 474.8h0M1073.3 465.8h0M1073.3 474.8h0M1083.4 486.1h0M1075.5 486.1h0M1081.2 497.5h0M1086.8 504.2h0M1090.2 509.9h0M1083.4 508.8h0M1107.2 516.7h0M1138.9 496.3h0M1146.8 497.5h0M1151.3 504.2h0M1155.9 503.1h0M1152.5 508.8h0M1149.1 517.8h0M1145.7 515.6h0M1136.6 521.2h0M1090.2 524.6h0M1166.0 524.6h0M1188.7 524.6h0M1198.9 498.6h0M1196.6 504.2h0M1190.9 508.8h0M1189.8 511.0h0M1193.2 515.6h0M1203.4 516.7h0M1209.0 509.9h0M1196.6 520.1h0M1201.1 524.6h0M1218.1 524.6h0M1267.9 525.1h0M1290.5 525.1h0M1299.6 524.6h0M1313.1 525.1h0M1071.0 434.1h0M1075.5 437.5h0M1082.3 442.0h0M1089.1 438.6h0M1090.2 525.7h0M1089.1 530.2h0M1082.3 537.7h0M1072.1 542.6h0M1080.1 553.5h0M1097.7 555.1h0M1116.3 535.4h0M1119.7 538.1h0M1117.4 542.6h0M1121.9 537.7h0M1125.3 547.2h0M1122.6 562.5h0M1136.6 529.1h0M1141.2 529.5h0M1135.5 533.6h0M1138.9 540.4h0M1136.6 542.6h0M1140.0 538.1h0M1142.3 553.3h0M1152.9 551.0h0M1166.7 525.0h0M1188.0 526.3h0M1202.3 526.8h0M1204.5 526.3h0M1199.5 535.2h0M1218.1 532.4h0M1222.6 529.5h0M1211.3 541.5h0M1210.2 540.4h0M1198.9 547.2h0M1202.3 549.4h0M1206.8 553.5h0M1212.4 555.1h0M1178.5 546.0h0M1180.3 551.7h0M1173.5 557.3h0M1187.5 567.5h0M1171.2 578.8h0M1181.4 582.9h0M1187.5 590.2h0M1152.0 583.4h0M1152.9 594.7h0M1155.9 599.2h0M1144.5 600.8h0M1128.7 601.5h0M1108.3 572.7h0M1096.3 580.6h0M1080.1 570.2h0M1077.8 573.9h0M1076.7 586.3h0M1102.7 613.2h0M1229.4 562.5h0M1235.1 563.4h0M1247.1 542.6h0M1248.6 551.7h0M1248.6 568.0h0M1258.8 568.7h0M1261.1 558.5h0M1266.7 556.2h0M1265.6 548.3h0M1269.0 541.5h0M1272.4 543.8h0M1279.2 538.1h0M1276.9 546.0h0M1281.5 546.0h0M1270.1 564.1h0M1275.8 569.8h0M1271.3 574.3h0M1267.9 577.7h0M1281.9 579.3h0M1289.8 553.5h0M1289.4 566.4h0M1300.7 555.1h0M1300.7 567.1h0M1293.9 573.9h0M1303.4 539.2h0M1312.0 542.6h0M1315.4 541.5h0M1315.4 553.9h0M1311.3 561.2h0M1292.3 527.2h0M1306.3 521.1h0M1310.9 521.1h0M1316.5 521.1h0M1210.2 590.2h0M1202.3 611.6h0M1176.2 611.6h0M1179.6 615.0h0M1172.4 620.0h0M1183.0 625.2h0M1182.3 637.7h0M1199.5 647.9h0M1136.6 661.4h0M1122.6 667.1h0M1115.1 675.0h0M1143.9 682.9h0M1126.4 699.2h0M1168.3 702.2h0M1170.6 672.7h0M1222.6 602.6h0M1219.9 608.7h0M1234.4 607.1h0M1237.8 599.7h0M1266.1 593.1h0M1284.2 598.8h0M1261.5 607.1h0M1247.5 620.2h0M1260.0 619.6h0M1264.5 616.9h0M1261.5 625.2h0M1276.5 627.9h0M1288.2 624.1h0M1295.0 626.4h0M1298.4 632.0h0M1295.0 638.8h0M1268.3 642.9h0M1245.2 633.1h0M1249.8 639.5h0M1246.4 642.2h0M1231.0 638.1h0M1229.4 651.7h0M1230.5 666.0h0M1237.3 667.1h0M1249.8 670.0h0M1247.5 675.0h0M1240.7 676.8h0M1263.8 667.8h0M1285.3 668.7h0M1291.6 661.4h0M1293.9 655.8h0M1300.7 667.1h0M1304.1 663.7h0M1309.7 656.9h0M1312.0 642.2h0M1314.3 649.0h0M1301.8 676.1h0M1304.1 675.7h0M1295.0 685.2h0M1314.9 692.0h0M1306.3 611.6h0M1313.1 611.0h0M1321.1 609.4h0M1351.6 628.2h0M1329.0 680.7h0M1342.6 670.5h0M1343.7 676.1h0M1342.6 687.0h0M1349.3 691.5h0M1333.5 693.1h0M1360.7 676.1h0M1362.9 673.9h0M1374.2 687.9h0M1369.7 713.5h0M1344.8 714.6h0M1093.6 635.4h0M1084.6 679.5h0M1076.7 669.4h0M1077.8 664.8h0M1284.8 697.6h0M1242.0 717.8h0M1135.4 727.1h0M1127.6 750.6h0M1116.5 765.5h0M1089.9 768.4h0M1095.4 765.5h0M1193.2 775.5h0M1229.2 755.5h0M1234.3 746.6h0M1237.6 742.2h0M1250.9 768.2h0M1315.3 719.5h0M1346.0 715.5h0M1369.8 713.3h0M1379.8 720.4h0M1318.7 775.5h0M760.5 522.6h0M767.3 527.2h0M768.4 532.8h0M774.1 540.7h0M783.2 527.2h0M789.9 529.4h0M797.9 528.3h0M802.4 536.2h0M796.7 540.7h0M806.9 550.2h0M830.7 526.0h0M843.1 531.7h0M842.0 541.9h0M840.2 550.2h0M862.4 523.8h0M900.8 529.0h0M894.0 542.3h0M902.6 548.0h0M885.4 554.8h0M912.1 524.9h0M914.4 529.4h0M918.9 527.2h0M922.3 539.6h0M914.4 535.1h0M923.5 529.4h0M932.5 536.2h0M930.2 531.7h0M941.6 531.7h0M948.4 532.8h0M954.0 536.2h0M949.5 537.3h0M958.5 539.6h0M952.9 545.3h0M964.2 546.4h0M974.4 545.3h0M976.6 548.7h0M983.4 546.4h0M986.8 547.5h0M992.5 548.7h0M990.2 557.7h0M995.9 529.4h0M1000.4 536.2h0M1004.9 541.9h0M1000.4 520.4h0M1010.6 521.5h0M1014.0 533.9h0M1021.9 549.8h0M1028.7 545.3h0M1030.9 554.3h0M1037.7 539.6h0M1045.7 536.2h0M1041.1 541.9h0M1042.3 553.6h0M1052.4 552.0h0M1057.0 556.6h0M1069.4 543.0h0M1059.2 573.5h0M1061.5 590.5h0M1063.8 592.8h0M1027.6 565.6h0M1032.1 570.2h0M1025.3 592.8h0M1030.9 596.2h0M1020.8 603.0h0M1040.0 600.7h0M1043.4 604.1h0M1045.7 606.4h0M1042.3 613.1h0M1015.1 613.1h0M1023.0 614.3h0M1004.9 619.9h0M990.2 617.7h0M993.6 622.2h0M982.3 587.1h0M969.8 590.5h0M973.2 593.9h0M989.1 596.2h0M971.0 609.8h0M972.1 623.3h0M1011.7 629.0h0M1015.1 636.9h0M1025.3 656.1h0M1047.9 666.3h0M918.9 563.4h0M922.3 563.4h0M916.7 563.8h0M933.6 565.6h0M939.3 570.2h0M942.7 574.7h0M948.4 576.9h0M955.1 572.4h0M957.4 580.3h0M961.9 563.4h0M972.1 560.6h0M913.3 574.7h0M862.4 558.8h0M857.8 561.1h0M853.3 558.8h0M842.0 563.4h0M837.5 565.6h0M862.4 576.9h0M861.2 596.2h0M865.8 615.4h0M882.7 625.6h0M877.1 643.7h0M874.8 660.7h0M873.7 673.1h0M902.0 583.7h0M823.9 592.8h0M782.0 589.4h0M767.3 589.4h0M761.7 575.8h0M757.1 574.7h0M757.1 631.3h0M773.0 629.7h0M822.8 624.5h0M830.7 626.7h0M797.9 635.8h0M809.2 635.8h0M794.5 647.1h0M796.7 653.9h0M808.0 649.4h0M846.5 676.5h0M785.4 674.2h0M789.9 675.4h0M792.2 681.0h0M792.2 687.8h0M808.0 691.2h0M952.9 623.3h0M992.5 633.5h0M934.8 633.5h0M937.0 691.2h0M968.7 686.7h0M759.4 606.4h0M765.1 614.3h0M768.4 617.7h0M756.0 617.7h0M817.1 719.3h0M820.4 702.2h0M824.9 706.6h0M829.3 704.4h0M833.7 702.2h0M838.2 700.0h0M842.6 701.1h0M822.6 711.1h0M827.1 713.3h0M831.5 711.1h0M836.0 708.8h0M840.4 713.3h0M844.8 715.5h0M847.1 706.6h0M851.5 707.7h0M856.0 708.8h0M860.4 710.0h0M844.8 722.2h0M849.3 724.4h0M853.7 726.6h0M862.6 717.7h0M864.8 722.2h0M860.4 733.3h0M864.8 731.1h0M867.1 737.7h0M853.7 739.9h0M863.7 741.1h0M873.7 745.5h0M848.2 749.9h0M949.2 742.6h0M920.8 758.8h0M1031.4 756.6h0M1013.7 766.6h0M1040.3 774.4h0M1050.3 774.4h0M1064.8 763.3h0M1068.1 767.7h0M759.3 763.3h0M766.0 764.8h0M762.7 775.5h0M932.6 697.7h0M1044.8 741.1h0M839.3 723.3h0M833.7 717.7h0M827.1 717.7h0M789.3 693.3h0M800.4 697.7h0M806.0 691.1h0M809.3 693.3h0M501.0 585.2h0M528.1 594.3h0M534.9 596.5h0M540.6 593.1h0M556.4 605.6h0M574.5 592.0h0M574.5 583.0h0M567.7 595.4h0M606.2 606.7h0M619.8 610.1h0M626.6 573.9h0M633.4 580.7h0M639.0 579.6h0M635.6 599.9h0M635.6 627.1h0M651.5 583.0h0M660.5 579.6h0M651.5 604.5h0M667.3 603.3h0M671.8 605.6h0M676.3 603.3h0M683.1 604.5h0M644.7 593.1h0M642.4 597.7h0M651.5 638.0h0M660.5 639.5h0M663.9 638.4h0M669.6 618.0h0M674.1 616.9h0M677.5 586.4h0M680.9 586.4h0M687.7 618.0h0M694.5 595.4h0M694.5 598.8h0M697.8 610.1h0M703.5 599.9h0M704.6 615.8h0M712.6 616.9h0M714.8 623.7h0M718.2 586.4h0M719.3 596.5h0M726.1 604.5h0M732.9 609.0h0M734.1 630.5h0M740.8 621.4h0M743.1 628.2h0M746.5 599.9h0M753.3 624.8h0M753.3 633.9h0M751.0 648.6h0M611.9 656.5h0M609.6 664.4h0M617.5 667.8h0M615.2 672.4h0M603.9 554.7h0M602.8 606.7h0M491.9 563.7h0M494.2 567.1h0M519.1 572.8h0M447.8 529.8h0M451.2 530.9h0M454.6 545.6h0M458.0 546.8h0M452.3 507.2h0M450.1 502.6h0M442.1 513.9h0M441.0 518.5h0M689.9 494.7h0M696.7 498.1h0M704.6 497.0h0M701.2 509.4h0M687.7 515.1h0M692.2 513.9h0M696.7 518.5h0M712.6 502.6h0M719.3 504.9h0M723.9 501.5h0M729.5 511.7h0M735.2 513.9h0M739.7 515.1h0M744.2 527.5h0M748.8 501.5h0M753.3 504.9h0M728.4 495.8h0M712.6 493.6h0M717.1 489.1h0M723.9 484.5h0M735.2 486.8h0M744.2 489.1h0M753.3 484.5h0M619.8 693.3h0M628.7 690.6h0M639.4 688.2h0M706.0 721.1h0M721.5 726.0h0M729.3 728.2h0M724.2 736.6h0M679.8 735.9h0M688.7 741.7h0M706.4 755.1h0M707.5 757.7h0M739.8 759.9h0M743.1 764.4h0M747.5 758.8h0M734.2 681.8h0M754.2 764.4h0M865.7 615.4h0M882.6 625.9h0M877.0 644.5h0M874.6 661.4h0M873.7 673.6h0M887.5 655.0h0M936.0 634.0h0M953.0 623.4h0M969.9 621.0h0M972.4 609.7h0M932.8 697.8h0M961.1 692.2h0M1025.7 657.4h0M1047.6 666.3h0M1015.2 637.2h0M1012.0 629.1h0M1021.7 716.4h0M900.4 661.4h0M212.0 362.8h0M218.8 366.2h0M225.6 359.4h0M236.9 362.8h0M243.7 363.9h0M248.2 358.3h0M255.0 361.7h0M252.7 353.8h0M265.2 354.9h0M275.4 348.1h0M284.4 350.4h0M291.2 348.1h0M250.5 373.0h0M252.7 376.4h0M225.6 377.5h0M248.2 383.2h0M261.8 365.1h0M270.8 359.4h0M279.9 357.2h0M284.4 359.4h0M288.9 354.9h0M273.1 366.2h0M266.3 370.7h0M270.8 375.3h0M261.8 377.5h0M243.7 388.8h0M239.1 384.3h0M216.5 387.7h0M205.2 388.8h0M193.9 387.7h0M187.1 386.6h0M175.8 383.2h0M169.0 384.3h0M157.7 391.1h0M150.9 395.6h0M211.5 364.2h0M218.7 367.2h0M225.9 362.4h0M236.7 363.6h0M243.9 364.2h0M251.1 362.4h0M255.9 361.2h0M261.9 366.0h0M261.9 372.0h0M267.9 364.8h0M249.3 373.2h0M225.3 377.4h0M248.7 382.8h0M239.1 385.8h0M260.7 387.6h0M175.6 382.8h0M191.1 387.6h0M206.7 387.6h0M219.9 390.0h0M230.7 390.0h0M166.0 424.7h0M180.4 431.9h0M197.7 442.7h0M231.9 449.9h0M237.9 453.5h0M243.9 455.9h0M255.9 454.7h0M260.7 451.1h0M263.1 455.9h0"/><path stroke="#00ffff" d="M200.6 395.9h0M174.7 417.2h0M260.2 417.1h0M164.9 393.0h0M238.8 397.7h0M228.1 406.2h0M185.0 408.2h0M283.5 387.3h0M219.8 410.3h0M274.5 388.0h0M218.5 397.5h0M167.2 421.8h0M247.7 396.5h0M217.1 398.1h0M188.7 431.9h0M235.7 404.2h0M171.6 410.2h0M188.3 408.5h0M256.0 396.5h0M172.4 403.2h0M227.5 411.1h0M179.7 408.0h0M254.0 396.7h0M234.4 397.2h0M255.9 410.4h0M150.6 395.0h0M214.8 404.5h0M176.9 407.6h0M264.3 395.1h0M180.9 404.9h0M280.0 389.9h0M149.6 406.8h0M287.1 410.3h0M254.2 416.2h0M160.1 404.0h0M166.5 395.5h0M150.9 404.3h0M233.9 394.2h0M270.4 416.9h0M270.6 405.8h0M160.1 403.8h0M269.4 412.6h0M152.1 398.9h0M230.7 392.7h0M178.5 416.9h0M270.4 393.0h0M190.0 427.6h0M185.5 404.4h0M281.3 398.1h0M185.8 426.6h0M256.1 411.4h0M231.2 398.2h0M192.8 406.3h0M167.2 392.6h0M278.0 407.7h0M187.1 400.3h0M167.3 395.4h0M238.6 401.1h0M171.9 414.7h0M285.8 402.9h0M271.1 409.3h0M271.7 397.9h0M264.8 402.4h0M178.5 424.6h0M260.2 413.8h0M267.2 415.5h0M268.8 385.8h0M185.0 408.1h0M279.6 388.9h0M169.3 423.4h0M152.7 394.8h0M271.2 409.2h0M193.5 394.6h0M195.7 407.2h0M170.3 403.4h0M197.6 399.8h0M273.2 395.1h0M201.8 397.6h0M163.3 395.6h0M266.6 392.0h0M265.2 388.9h0M261.2 415.2h0M264.4 381.7h0M257.6 416.2h0M274.8 400.0h0M178.6 421.6h0M187.3 426.0h0M156.4 398.4h0M261.5 405.8h0M282.7 386.7h0M251.7 400.4h0M178.0 396.8h0M201.0 405.4h0M260.1 400.5h0M256.8 411.6h0M273.1 414.0h0M286.7 410.8h0M155.8 407.1h0M176.7 404.3h0M157.2 405.9h0M244.3 407.5h0M285.7 396.9h0M202.6 406.3h0M184.5 415.0h0M195.5 406.7h0M172.3 395.5h0M156.1 393.8h0M239.3 405.9h0M267.7 391.2h0M221.2 398.5h0M287.1 391.3h0M281.3 412.9h0M251.8 405.6h0M247.7 402.1h0M225.1 395.1h0M276.1 383.8h0M213.0 395.3h0M217.2 398.3h0M176.0 390.4h0M219.9 399.9h0M165.1 412.4h0M272.8 408.7h0M195.9 406.1h0M191.0 399.5h0M257.8 401.0h0M271.7 384.7h0M259.5 387.4h0M227.6 406.4h0M251.9 407.6h0M188.8 431.4h0M225.0 406.9h0M184.6 418.9h0M260.5 408.1h0M278.1 401.0h0M257.2 402.2h0M155.7 407.4h0M267.8 385.1h0M159.0 405.9h0M234.4 399.3h0M172.3 396.0h0M185.4 429.1h0M235.2 409.3h0M286.1 390.9h0M267.3 391.3h0M243.5 403.0h0M238.6 399.8h0M285.8 401.4h0M184.5 390.8h0M153.0 403.4h0M279.7 419.1h0M197.1 395.0h0M185.2 423.7h0M241.7 391.6h0M268.9 410.9h0M245.3 416.7h0M183.9 420.0h0M226.9 410.3h0M197.5 403.6h0M250.3 396.5h0M238.4 409.5h0M216.0 407.2h0M342.9 391.4h0M339.8 400.3h0M309.3 373.1h0M291.9 398.1h0M319.6 380.8h0M300.1 381.6h0M347.9 398.9h0M317.1 399.3h0M318.2 395.6h0M328.0 406.8h0M293.9 382.7h0M301.1 381.4h0M315.5 411.9h0M328.5 406.6h0M343.2 398.5h0M315.8 376.3h0M307.7 376.4h0M294.5 409.3h0M322.8 389.6h0M336.2 387.3h0M349.4 383.1h0M302.9 382.6h0M303.1 416.6h0M292.2 405.5h0M319.8 382.9h0M328.7 382.8h0M324.2 407.8h0M317.4 415.3h0M348.1 380.8h0M312.9 375.6h0M309.7 377.8h0M321.3 384.4h0M313.1 397.7h0M295.5 374.9h0M313.9 383.4h0M303.7 382.4h0M304.3 416.8h0M305.6 403.2h0M305.6 416.7h0M348.1 396.5h0M348.3 397.1h0M295.1 375.6h0M317.2 414.6h0M348.9 387.1h0M339.3 409.4h0M333.5 383.1h0M293.4 387.9h0M307.5 397.1h0M313.0 391.2h0M310.4 378.6h0M308.2 404.0h0M308.3 414.9h0M346.6 394.1h0M309.2 403.4h0M303.7 382.2h0M308.1 390.9h0M339.8 386.0h0M316.4 373.3h0M343.3 385.7h0M342.9 408.3h0M297.2 386.4h0M341.6 404.8h0M317.3 378.4h0M300.9 388.7h0M322.0 403.4h0M346.5 405.2h0M326.1 397.4h0M329.8 374.5h0M292.8 398.1h0M318.0 413.6h0M305.1 388.7h0M306.4 403.4h0M315.1 404.7h0M338.0 408.9h0M300.7 406.6h0M319.3 414.6h0M302.7 412.3h0M349.5 401.2h0M301.0 388.7h0M314.0 414.3h0M301.2 391.9h0M314.0 397.5h0M305.2 375.9h0M322.0 403.1h0M341.1 406.8h0M398.6 407.6h0M378.2 408.8h0M383.4 396.0h0M371.7 400.0h0M354.2 410.0h0M359.3 405.3h0M414.5 391.5h0M364.2 394.6h0M363.1 402.5h0M369.4 410.3h0M370.5 391.2h0M415.2 410.5h0M412.0 415.8h0M383.6 400.0h0M412.4 402.3h0M752.2 134.7h0M735.2 144.9h0M732.9 148.7h0M745.4 151.0h0M721.6 156.2h0M717.1 160.7h0M718.2 165.2h0M710.3 169.1h0M669.1 170.4h0M666.2 192.8h0M687.7 195.8h0M676.3 202.6h0M682.0 206.0h0M742.0 196.2h0M731.1 204.8h0M693.3 213.4h0M654.4 213.4h0M643.5 218.4h0M721.6 224.1h0M661.6 220.7h0M669.6 222.9h0M663.9 227.0h0M654.8 227.5h0M652.6 230.9h0M644.7 232.0h0M635.6 233.1h0M625.4 227.5h0M628.8 234.2h0M616.4 232.0h0M613.0 233.8h0M603.9 235.8h0M620.9 237.6h0M682.0 237.0h0M635.6 246.7h0M614.1 247.8h0M607.3 243.8h0M602.8 243.8h0M592.6 238.8h0M585.8 237.6h0M588.1 242.8h0M542.8 241.7h0M570.0 246.7h0M566.6 253.5h0M576.8 253.5h0M755.6 241.0h0M993.6 20.8h0M960.8 26.7h0M930.2 38.5h0M935.9 40.7h0M903.1 61.1h0M937.0 55.4h0M929.1 62.2h0M869.1 83.7h0M868.0 88.3h0M895.2 80.3h0M894.0 83.7h0M830.7 97.3h0M834.1 96.2h0M861.2 96.2h0M872.5 97.3h0M873.7 101.8h0M855.6 105.2h0M851.0 109.8h0M804.7 105.2h0M810.3 108.6h0M813.7 112.0h0M796.7 110.9h0M770.7 118.1h0M766.2 127.2h0M773.0 132.4h0M778.6 127.9h0M783.2 125.6h0M787.7 130.1h0M788.8 136.9h0M786.5 141.4h0M785.4 149.4h0M791.1 149.4h0M821.6 119.9h0M819.4 125.6h0M815.3 132.4h0M826.2 140.3h0M840.9 132.4h0M756.0 135.8h0M800.1 195.1h0M952.9 178.8h0M930.2 192.4h0M934.8 188.5h0M1036.6 185.6h0M975.5 165.2h0M912.1 195.1h0M991.3 36.2h0M1000.4 33.9h0M1032.1 19.2h0M988.0 53.2h0M941.6 65.6h0M915.5 73.5h0M918.9 80.3h0M909.9 76.9h0M895.2 81.5h0M904.2 83.7h0M935.9 83.7h0M930.2 95.0h0M928.0 101.8h0M918.9 101.8h0M920.1 109.8h0M891.8 93.9h0M898.6 103.0h0M889.5 109.8h0M869.1 108.6h0M862.4 110.9h0M859.0 108.6h0M839.7 124.5h0M845.4 124.5h0M851.0 121.1h0M864.6 121.1h0M874.8 118.8h0M875.9 130.1h0M886.1 122.2h0M861.2 133.5h0M895.2 135.3h0M915.5 130.1h0M932.5 135.8h0M937.0 132.4h0M943.8 123.3h0M950.6 108.6h0M959.7 106.4h0M975.5 104.1h0M989.1 105.7h0M982.3 123.3h0M957.4 143.7h0M915.5 148.2h0M1000.4 139.2h0M1008.3 148.2h0M1015.1 116.5h0M1018.5 134.6h0M1032.1 132.4h0M1021.9 158.4h0M1024.2 169.7h0M1042.3 159.5h0M1055.8 92.8h0M1054.7 99.6h0M1059.2 53.2h0M1063.8 48.7h0M1025.3 72.4h0M984.6 90.5h0M949.5 87.1h0M1102.2 149.8h0M1103.4 156.8h0M1084.6 169.3h0M1089.6 172.7h0M1105.4 187.4h0M1104.9 187.4h0M1094.8 211.9h0M1110.6 219.3h0M1091.4 225.4h0M1162.6 201.7h0M1159.3 210.7h0M1179.6 207.3h0M1207.9 209.6h0M1138.9 222.0h0M1140.0 242.4h0M1126.4 242.4h0M1134.4 258.3h0M1138.9 262.8h0M1146.8 260.1h0M1119.7 259.4h0M1121.9 265.0h0M1193.2 250.3h0M1188.7 246.9h0M1210.2 252.6h0M1212.4 262.8h0M1228.3 263.9h0M1229.4 268.4h0M1250.9 244.7h0M1251.6 251.5h0M1072.1 261.6h0M1077.8 269.6h0M1071.0 278.6h0M1086.8 285.4h0M1097.0 293.3h0M1103.8 292.2h0M1112.9 288.8h0M1125.3 289.9h0M1133.2 289.9h0M1143.4 280.9h0M1150.2 276.4h0M1167.2 278.6h0M1174.0 276.4h0M1177.4 277.5h0M1186.4 299.0h0M1175.1 314.8h0M1181.9 327.7h0M1236.2 318.2h0M1249.8 317.1h0M1230.5 312.6h0M1089.1 325.0h0M1084.6 295.6h0M1206.8 343.1h0M1228.3 346.5h0M1239.6 346.5h0M1244.1 344.2h0M1160.4 342.0h0M1143.4 353.8h0M1149.1 354.4h0M1083.4 362.4h0M1212.4 361.2h0M1190.9 365.1h0M800.1 196.8h0M894.5 200.2h0M911.7 197.9h0M930.2 192.7h0M934.8 191.1h0M1000.4 199.5h0M843.1 212.6h0M777.5 221.7h0M915.5 222.8h0M936.4 217.6h0M943.1 233.0h0M976.0 230.7h0M968.0 240.9h0M1018.5 243.2h0M1020.8 239.8h0M1053.1 240.2h0M1043.4 252.9h0M1040.0 260.6h0M1044.5 260.6h0M1050.9 271.0h0M758.3 241.6h0M823.9 250.0h0M871.4 263.5h0M900.4 274.9h0M968.7 260.6h0M984.6 263.5h0M806.2 277.1h0M906.5 286.9h0M951.3 276.4h0M973.9 282.3h0M991.3 289.1h0M1020.8 292.3h0M938.2 289.6h0M946.1 300.4h0M966.5 313.3h0M969.8 312.2h0M978.9 322.4h0M875.9 329.9h0M844.3 333.7h0M845.4 341.6h0M847.6 348.4h0M784.3 347.3h0M812.6 343.4h0M794.5 354.1h0M808.0 359.7h0M952.4 332.1h0M969.4 339.4h0M989.1 341.2h0M1003.1 345.7h0M1036.6 346.1h0M1055.8 319.0h0M899.7 352.9h0M902.0 351.8h0M866.9 365.4h0M869.1 363.1h0M921.2 369.9h0M939.3 369.9h0M839.7 373.3h0M846.5 371.0h0M827.3 377.8h0M816.0 381.9h0M758.3 369.9h0M964.2 349.5h0M968.7 352.9h0M973.2 355.2h0M952.9 357.5h0M948.4 363.1h0M957.4 366.1h0M960.8 373.3h0M968.7 365.4h0M981.2 369.9h0M998.1 357.5h0M1001.5 354.1h0M1018.5 359.7h0M1024.2 364.2h0M1027.6 352.9h0M1032.1 354.1h0M1037.7 348.4h0M1062.6 357.9h0M784.3 347.9h0M794.5 354.0h0M808.0 359.9h0M758.3 369.4h0M812.6 343.4h0M844.3 343.4h0M846.5 347.9h0M898.6 353.6h0M902.0 351.3h0M864.6 366.7h0M869.1 363.8h0M837.5 373.9h0M840.9 371.7h0M847.6 372.8h0M827.3 378.5h0M838.6 379.6h0M817.1 381.9h0M812.6 385.3h0M820.5 388.0h0M829.5 392.5h0M920.1 369.4h0M939.3 369.4h0M947.2 362.6h0M952.9 357.7h0M957.4 367.2h0M960.8 373.5h0M968.7 365.3h0M981.2 369.4h0M965.3 349.1h0M973.2 354.7h0M998.1 358.1h0M1002.7 359.2h0M1002.7 346.3h0M1018.5 360.4h0M1024.2 363.8h0M1027.6 353.6h0M1032.1 353.6h0M1036.6 346.8h0M1062.6 357.7h0M786.5 454.3h0M796.7 453.6h0M787.7 462.2h0M969.8 341.1h0M989.1 342.3h0M504.5 273.0h0M500.0 280.9h0M513.6 284.3h0M517.0 280.9h0M522.6 279.8h0M521.5 263.9h0M529.4 265.1h0M535.1 259.4h0M527.2 275.3h0M530.5 271.9h0M536.2 271.9h0M543.0 267.3h0M548.7 266.2h0M555.4 266.2h0M562.2 263.9h0M563.4 260.5h0M555.4 259.0h0M543.0 280.9h0M548.7 294.5h0M557.7 303.5h0M543.0 241.8h0M567.9 254.9h0M570.2 248.1h0M576.9 253.8h0M580.3 258.3h0M586.0 237.9h0M592.8 239.1h0M588.3 243.6h0M604.1 235.7h0M603.0 244.7h0M608.6 244.0h0M613.1 232.3h0M622.2 237.9h0M629.0 234.5h0M635.8 233.4h0M644.8 234.5h0M651.6 231.1h0M615.4 248.1h0M635.8 247.0h0M619.5 263.5h0M601.8 266.7h0M606.4 294.5h0M640.3 275.9h0M682.2 236.8h0M758.0 241.8h0M704.8 278.2h0M701.4 297.9h0M806.0 277.5h0M533.9 327.8h0M556.6 332.3h0M548.7 342.0h0M554.3 340.9h0M583.7 324.6h0M600.7 320.1h0M605.2 321.6h0M621.5 331.4h0M633.1 323.2h0M590.5 351.1h0M578.1 357.9h0M574.7 362.4h0M583.7 360.1h0M586.0 365.3h0M590.5 364.6h0M597.3 365.8h0M601.8 354.0h0M607.5 361.3h0M610.9 347.7h0M614.3 365.3h0M607.5 370.3h0M619.9 359.0h0M600.7 377.1h0M601.8 374.8h0M610.9 380.5h0M615.4 378.2h0M619.9 373.7h0M624.5 372.6h0M626.7 363.5h0M630.1 359.0h0M635.8 360.1h0M640.3 361.3h0M639.2 368.5h0M646.0 353.3h0M648.2 369.6h0M659.5 361.3h0M659.5 352.2h0M667.5 351.7h0M668.6 357.9h0M677.6 362.4h0M681.0 370.3h0M695.1 374.4h0M698.7 333.6h0M693.5 353.3h0M703.7 352.2h0M708.2 348.8h0M742.1 335.9h0M751.2 347.2h0M750.1 352.2h0M758.0 369.6h0M784.7 347.7h0M794.2 354.0h0M807.8 360.1h0M812.3 343.1h0M812.3 385.0h0M565.6 380.5h0M549.8 378.2h0M507.9 397.5h0M503.4 305.8h0M514.7 304.2h0M502.7 339.8h0M676.5 393.4h0M709.3 412.8h0M716.1 412.2h0M1160.4 342.4h0M1143.4 353.8h0M1149.1 354.9h0M1083.4 362.8h0M1135.5 371.9h0M1160.4 391.1h0M1146.8 395.6h0M1104.9 403.5h0M1166.0 412.6h0M1170.6 414.9h0M1187.5 416.0h0M1198.9 405.8h0M1190.9 366.2h0M1212.4 361.7h0M1207.9 342.4h0M1228.3 347.0h0M1239.6 347.0h0M1244.1 344.7h0M1257.7 372.5h0M1219.2 399.0h0M1224.9 405.8h0M1230.5 401.3h0M1239.6 397.9h0M1245.2 396.8h0M1248.6 402.0h0M1240.7 403.5h0M1232.8 410.3h0M1236.2 412.6h0M1219.2 416.0h0M1207.9 421.6h0M1233.9 422.3h0M1245.2 416.0h0M1247.5 420.5h0M1250.9 420.5h0M1248.6 423.2h0M1218.1 520.1h0M454.9 305.0h0M469.4 307.0h0M478.8 305.0h0M477.7 288.3h0M484.0 292.5h0M492.3 290.4h0M495.4 309.1h0M503.7 306.0h0M515.2 304.5h0M498.5 294.6h0M504.8 290.4h0M508.9 288.3h0M513.1 284.2h0M521.4 283.1h0M525.6 286.2h0M542.2 281.0h0M548.4 293.5h0M556.8 303.9h0M532.8 327.8h0M550.5 341.3h0M554.7 340.3h0M556.8 332.0h0M575.5 363.2h0M579.6 359.0h0M583.8 363.2h0M587.9 361.1h0M590.0 350.7h0M596.3 365.3h0M598.3 319.5h0M582.7 323.7h0M566.1 380.9h0M549.5 377.7h0M502.7 339.3h0M471.5 344.5h0M461.1 364.2h0M448.6 350.7h0M451.7 392.3h0M452.8 399.6h0M458.0 403.7h0M507.9 397.5h0M441.3 422.4h0M419.5 379.8h0M401.8 390.2h0M407.0 384.0h0M409.1 396.4h0M416.4 396.4h0M415.4 405.8h0M425.7 410.0h0M432.0 405.8h0M419.5 416.2h0M391.4 418.3h0M393.5 408.9h0M388.3 390.2h0M384.2 375.7h0M385.2 365.3h0M403.9 360.1h0M405.0 367.3h0M400.8 402.7h0M395.6 400.6h0M455.9 319.5h0M450.7 314.3h0M252.7 340.2h0M295.7 340.2h0M327.4 344.7h0M309.3 351.5h0M298.0 356.0h0M234.6 378.7h0M373.8 336.8h0M373.8 354.9h0M316.1 361.7h0M329.7 352.6h0M234.3 378.6h0M263.1 455.9h0"/><path stroke="#ff00ff" d="M399.7 494.5h0M380.7 495.4h0M381.4 496.0h0M405.9 510.6h0M389.6 513.5h0M379.5 501.7h0M381.4 509.5h0M386.2 501.3h0M389.8 511.8h0M399.5 498.0h0M384.6 510.1h0M412.9 503.9h0M410.4 515.1h0M402.3 497.8h0M374.6 496.2h0M420.1 514.6h0M386.1 492.7h0M388.1 498.8h0M374.5 500.0h0M370.8 495.2h0M402.0 513.6h0M394.0 504.0h0M382.6 507.0h0M384.8 511.3h0M419.2 516.4h0M389.3 496.4h0M396.8 505.4h0M409.3 513.6h0M416.9 511.7h0M388.3 490.1h0M361.3 496.6h0M393.4 490.5h0M393.2 510.3h0M364.5 495.9h0M409.0 506.2h0M401.1 494.5h0M395.1 494.6h0M394.3 488.5h0M401.8 517.5h0M361.8 494.3h0M386.3 497.9h0M406.1 501.3h0M405.8 504.4h0M373.9 497.1h0M413.0 512.0h0M588.7 582.9h0M576.6 578.6h0M571.1 578.3h0M618.1 587.4h0M595.3 582.9h0M575.2 564.8h0M572.4 579.9h0M557.9 577.3h0M567.5 572.4h0M612.1 581.1h0M560.1 578.9h0M568.1 577.3h0M584.9 574.0h0M596.5 571.5h0M606.7 577.6h0M569.7 565.3h0M597.5 575.4h0M563.2 571.9h0M1027.7 691.1h0M994.3 687.5h0M1031.8 674.6h0M1001.0 650.2h0M925.6 636.5h0M997.2 652.4h0M963.9 696.0h0M1059.9 715.1h0M1046.7 688.4h0M890.6 652.6h0M1013.8 686.0h0M936.4 665.6h0M880.2 639.4h0M1032.2 710.1h0M1069.8 701.1h0M899.4 641.5h0M958.4 697.8h0M947.5 648.1h0M1026.7 657.9h0M927.0 673.2h0M905.3 643.3h0M921.2 669.1h0M974.2 669.2h0M945.0 689.8h0M1070.2 685.5h0M985.6 687.8h0M1024.7 664.8h0M997.4 652.2h0M908.5 656.6h0M1011.1 675.9h0M1027.7 704.6h0M911.8 653.4h0M1017.6 666.9h0M1033.6 702.7h0M1033.2 673.0h0M1042.1 720.2h0M1035.4 680.4h0M1011.1 650.9h0M917.2 648.7h0M984.6 654.0h0M954.2 674.7h0M998.2 678.4h0M1046.3 710.2h0M971.4 643.2h0M1007.6 692.2h0M940.6 685.7h0M1057.3 705.5h0M895.0 641.2h0M957.2 674.6h0M1026.7 716.9h0M1058.9 690.1h0M1065.1 699.1h0M991.4 679.2h0M938.8 662.0h0M989.7 656.9h0M950.6 695.3h0M990.4 704.6h0M947.8 633.5h0M967.1 640.1h0M956.7 641.8h0M1023.7 658.5h0M995.6 710.1h0M930.2 643.9h0M1034.2 704.6h0M1018.8 685.2h0M1011.6 653.4h0M934.4 629.3h0M884.6 638.0h0M939.6 676.8h0M1062.7 715.0h0M1000.3 697.0h0M1047.7 675.3h0M959.2 692.3h0M899.0 639.0h0M918.9 656.2h0M1034.2 687.7h0M1035.1 700.9h0M1027.2 678.6h0M1069.3 702.8h0M980.7 688.4h0M975.7 658.0h0M1011.7 713.4h0M956.0 666.0h0M962.0 682.2h0M968.1 701.1h0M899.2 644.9h0M924.4 680.5h0M1026.2 709.9h0M896.8 651.6h0M1036.4 673.3h0M938.2 665.8h0M1041.7 718.9h0M1013.7 711.4h0M1074.1 712.6h0M925.0 637.5h0M1067.2 717.3h0M1069.9 702.1h0M992.8 686.4h0M966.1 672.3h0M962.4 644.3h0M960.1 661.1h0M1026.3 685.5h0M998.6 708.7h0M958.4 664.4h0M980.4 673.8h0M1035.8 703.1h0M1038.9 678.1h0M897.1 640.5h0M998.3 664.6h0M1063.3 706.1h0M987.1 691.1h0M907.2 655.3h0M898.7 658.2h0M1056.7 709.3h0M960.8 676.6h0M915.7 636.4h0M945.2 677.3h0M932.4 677.9h0M1056.6 671.8h0M955.2 696.1h0M1043.6 722.2h0M948.5 651.1h0M1036.2 690.7h0M907.9 653.1h0M994.1 713.3h0M999.9 694.5h0M1001.3 687.2h0M934.9 683.7h0M941.9 663.9h0M916.4 665.5h0M971.0 665.9h0M942.4 634.8h0M890.6 649.2h0M985.6 687.2h0M1065.4 726.0h0M1069.4 708.3h0M993.3 686.3h0M940.3 636.3h0M969.7 647.3h0M978.4 648.0h0M988.8 654.0h0M966.0 658.0h0M956.4 677.0h0M942.4 688.1h0M1029.4 719.7h0M962.1 684.9h0M928.7 661.4h0M987.7 663.0h0M927.5 680.1h0M990.3 666.5h0M1033.7 703.2h0M1040.8 674.3h0M1017.7 703.9h0M1011.1 714.7h0M950.1 678.6h0M978.9 704.4h0M985.3 682.0h0M1015.3 702.1h0M1027.8 704.0h0M1076.3 715.6h0M891.5 628.2h0M1007.8 656.6h0M926.9 665.8h0M1071.8 695.4h0M1038.8 664.9h0M956.0 666.2h0M1060.4 703.3h0M909.7 656.6h0M1022.8 657.7h0M948.9 666.9h0M1059.9 685.6h0M997.4 700.0h0M998.4 682.4h0M1018.3 685.3h0M1043.3 677.6h0M942.8 638.2h0M937.6 662.3h0M942.9 680.8h0M1000.3 657.3h0M971.7 697.5h0M1034.3 703.4h0M985.1 666.4h0M1007.7 691.0h0M941.3 685.4h0M1067.2 731.0h0M964.2 689.4h0M932.7 683.9h0M1040.2 683.9h0M1044.1 724.4h0M944.0 662.8h0M966.0 661.1h0M1059.0 681.8h0M1050.8 694.8h0M909.4 652.6h0M1031.6 707.1h0M1000.5 710.8h0M1035.4 672.8h0M999.9 666.9h0M974.2 646.6h0M956.9 688.3h0M932.7 658.1h0M970.8 663.2h0M951.1 689.2h0M941.1 688.3h0M980.4 653.6h0M936.1 669.4h0M1009.2 683.3h0M938.1 632.4h0M889.1 642.1h0M1030.0 718.8h0M931.8 634.2h0M1041.5 705.7h0M1005.5 653.7h0M904.1 650.2h0M963.2 655.3h0M1009.4 715.8h0M1042.6 690.8h0M985.4 694.1h0M1031.3 703.1h0M972.1 686.6h0M969.1 694.0h0M1067.6 727.9h0M934.0 652.8h0M1055.6 677.5h0M907.3 634.3h0M959.8 681.1h0M973.5 680.3h0M1062.2 679.2h0M911.1 641.1h0M971.1 687.3h0M1053.3 719.4h0M1050.2 713.4h0M973.1 675.3h0M1051.2 703.4h0M1019.1 660.3h0M1042.8 718.6h0M974.7 703.7h0M1055.8 729.0h0M1018.1 697.8h0M962.6 692.6h0M985.0 664.6h0M945.5 672.1h0M999.9 657.3h0M1024.2 702.8h0M973.5 680.7h0M897.6 623.2h0M1024.4 664.5h0M1031.8 717.7h0M891.5 635.6h0M1001.4 701.3h0M902.1 635.6h0M1021.4 671.2h0M981.6 665.7h0M1043.8 701.6h0M1022.8 693.7h0M945.7 686.0h0M955.5 688.4h0M1024.9 700.8h0M905.2 623.4h0M935.4 678.9h0M941.2 649.3h0M917.0 671.8h0M935.2 677.5h0M959.8 691.2h0M1076.8 721.4h0M906.9 628.3h0M934.0 677.1h0M930.9 685.2h0M1057.4 713.4h0M947.2 666.8h0M910.9 645.2h0M980.4 653.5h0M991.8 684.1h0M987.5 647.4h0M913.3 648.5h0M1066.7 720.0h0M1055.8 692.4h0M957.6 670.8h0M1061.9 698.3h0M967.8 648.2h0M958.2 671.9h0M998.0 714.8h0M1026.1 685.2h0M1038.5 704.3h0M939.4 630.4h0M1061.3 701.3h0M963.2 654.7h0M930.9 626.5h0M956.1 655.7h0M975.7 650.0h0M1043.3 673.0h0M955.3 674.7h0M998.5 710.8h0M1015.6 657.8h0M982.2 707.6h0M897.1 634.3h0M993.2 682.5h0M894.5 635.1h0M1025.9 665.4h0M934.0 679.4h0M987.9 644.9h0M944.6 660.9h0M1021.3 708.4h0M1016.5 671.6h0M984.3 697.2h0M928.6 687.3h0M1012.5 706.9h0M1017.3 675.0h0M918.3 642.9h0M1004.9 711.8h0M1014.7 719.2h0M1048.1 725.3h0M910.8 663.3h0M1027.7 707.3h0M1065.0 698.1h0M944.3 673.5h0M949.6 658.6h0M960.9 658.9h0M1031.7 706.4h0M1057.8 725.5h0M1005.8 650.2h0M999.4 682.3h0M1073.0 711.8h0M1053.0 680.4h0M965.4 663.5h0M990.3 661.2h0M932.9 637.0h0M994.0 660.9h0M887.5 641.8h0M987.6 704.8h0M950.8 677.2h0M993.0 671.2h0M1024.7 659.2h0M909.1 657.1h0M926.5 676.0h0M1020.1 685.5h0M948.7 637.2h0M1049.5 674.9h0M963.6 683.9h0M1031.0 692.5h0M1068.4 689.5h0M923.6 670.4h0M1072.7 692.8h0M1033.0 723.0h0M940.1 649.8h0M904.5 632.7h0M1018.6 663.3h0M916.9 652.2h0M930.2 661.8h0M1032.2 682.7h0M986.8 653.9h0M944.1 690.1h0M903.9 635.9h0M1049.7 690.8h0M1051.5 687.1h0M992.9 669.7h0M943.4 676.0h0M971.2 644.2h0M1049.1 722.3h0M1057.9 679.9h0M1009.5 680.1h0M1057.8 693.8h0M1053.1 697.4h0M995.2 647.1h0M1045.2 705.4h0M928.2 673.0h0M1025.3 697.2h0M927.1 633.6h0M987.4 669.9h0M1005.8 665.9h0M994.4 692.3h0M918.5 644.9h0M954.6 677.5h0M941.9 661.6h0M1037.1 720.5h0M1019.0 706.0h0M1024.9 669.6h0M968.9 687.8h0M905.6 633.6h0M995.3 686.4h0M1027.5 718.8h0M1052.3 720.4h0M921.6 679.4h0M1038.2 707.7h0M1059.8 684.5h0M1046.8 699.0h0M1058.6 691.1h0M919.0 675.5h0M1077.1 716.7h0M960.3 644.5h0M1000.6 714.2h0M1008.0 660.5h0M1057.2 722.1h0M1040.9 688.9h0M1035.1 701.3h0M1019.8 707.4h0M1071.8 694.2h0M1045.7 686.5h0M941.1 662.7h0M1070.8 689.4h0M941.9 674.5h0M942.2 677.9h0M1062.1 714.6h0M974.4 648.5h0M965.8 649.8h0M987.7 686.5h0M965.8 670.0h0M933.9 649.7h0M1027.4 663.7h0M1013.7 707.1h0M1055.4 697.6h0M965.3 665.4h0M1026.3 694.8h0M1057.1 678.4h0M934.7 668.2h0M1011.1 650.5h0M969.6 701.0h0M1008.2 678.8h0M1010.7 656.6h0M1045.0 696.7h0M1005.5 694.4h0M981.6 645.0h0M1006.9 681.8h0M1069.1 706.0h0M1076.0 708.2h0M910.7 659.6h0M948.7 639.0h0M987.6 705.3h0M952.8 661.9h0M1021.5 697.5h0M1039.8 700.3h0M969.4 683.1h0M1047.5 686.7h0M968.1 688.1h0M973.9 663.1h0M1056.4 725.3h0M972.2 661.7h0M1031.8 712.8h0M987.8 685.4h0M937.5 641.2h0M1007.5 701.1h0M1056.6 695.7h0M978.1 652.0h0M941.0 658.7h0M923.3 675.1h0M901.9 635.7h0M969.2 663.5h0M945.6 647.7h0M896.2 648.0h0M1027.2 700.5h0M980.1 665.2h0M929.6 654.6h0M989.2 678.0h0M1026.9 665.2h0M963.5 666.2h0M1030.6 714.5h0M1019.4 718.2h0M995.6 646.5h0M1000.9 691.2h0M966.3 700.4h0M927.4 652.2h0M1033.3 664.2h0M938.7 648.7h0M1068.1 691.1h0M925.2 643.5h0M1049.3 726.2h0M973.4 678.3h0M960.4 646.0h0M1064.8 714.4h0M943.6 678.0h0M956.0 690.9h0M1012.7 653.4h0M974.7 705.1h0M931.1 651.8h0M920.5 619.9h0M895.1 636.4h0M1038.0 709.4h0M953.3 688.9h0M959.1 648.9h0M954.3 658.9h0M1060.5 699.9h0M949.6 680.4h0M949.8 690.6h0M921.9 674.9h0M959.8 644.0h0M940.3 639.9h0M895.5 624.2h0M995.3 689.0h0M1009.6 681.7h0M944.8 670.5h0M1041.0 688.0h0M1043.3 696.6h0M1009.1 659.9h0M972.8 705.8h0M981.1 668.2h0M1002.3 695.7h0M942.4 678.2h0M945.3 660.3h0M1007.2 669.6h0M946.6 634.4h0M997.3 672.7h0M995.9 655.8h0M1058.9 698.5h0M903.6 640.9h0M911.9 630.1h0M922.2 666.9h0M1007.8 666.1h0M1004.2 672.9h0M921.1 665.5h0M934.2 669.0h0M993.3 699.3h0M978.9 682.4h0M983.1 694.6h0M892.7 642.2h0M951.2 654.6h0M1073.7 715.5h0M1031.0 691.2h0M1042.6 709.3h0M935.6 660.9h0M1021.7 694.5h0M987.3 665.5h0M926.4 663.6h0M998.6 714.5h0M1044.8 697.2h0M925.4 653.6h0M947.0 682.7h0M945.3 639.7h0M987.6 653.8h0M909.1 633.7h0M1001.9 648.4h0M949.7 642.3h0M893.4 651.6h0M976.8 657.8h0M1030.5 671.5h0M1005.9 698.9h0M1051.5 700.7h0M909.1 636.5h0M948.6 660.0h0M928.0 642.6h0M882.7 647.9h0M1027.3 680.8h0M924.4 631.3h0M942.9 653.9h0M891.1 643.6h0M1010.4 682.3h0M994.9 661.1h0M961.1 649.7h0M1008.2 680.0h0M900.7 624.4h0M1026.4 679.8h0M1029.4 694.4h0M993.3 655.2h0M915.2 642.7h0M992.4 686.2h0M1027.9 718.8h0M892.6 654.5h0M996.8 713.3h0M1057.9 703.9h0M1063.3 709.3h0M1022.2 709.0h0M947.1 641.9h0M1018.4 688.5h0M1021.7 689.6h0M985.5 665.9h0M1056.0 693.2h0M1042.9 710.0h0M961.1 651.3h0M1007.3 702.4h0M1062.8 708.6h0M1083.7 713.7h0M1051.2 711.2h0M1061.0 719.7h0M1051.6 682.9h0M1054.8 687.3h0M1094.4 714.2h0M1082.5 701.6h0M1053.8 717.9h0M1065.4 688.6h0M1053.1 735.2h0M1069.5 730.2h0M1077.4 698.1h0M1096.6 736.8h0M1058.6 692.0h0M1064.5 697.0h0M1090.5 717.5h0M1050.8 730.1h0M1057.9 727.5h0M1080.7 716.3h0M1063.3 732.0h0M1053.7 730.4h0M1076.9 702.4h0M1073.6 706.9h0M1067.8 688.4h0M1077.9 705.3h0M1060.3 690.3h0M1082.6 700.2h0M1054.9 689.5h0M1082.9 735.1h0M1091.7 727.5h0M1082.6 716.6h0M1052.6 695.2h0M422.4 518.2h0M428.2 507.2h0M421.4 504.4h0M422.5 509.8h0M230.1 437.7h0M266.3 463.0h0M290.7 472.5h0M313.8 477.7h0M327.4 490.2h0M334.2 489.0h0M345.5 487.9h0M329.7 504.9h0M338.7 497.4h0M348.9 498.1h0M358.0 505.5h0M363.6 481.1h0M370.4 483.4h0M412.3 536.5h0M438.3 542.2h0M438.3 559.2h0M438.3 498.1h0M1076.0 623.0h0M1076.7 619.6h0M1082.3 632.5h0M1071.0 632.0h0M1100.9 636.5h0M1091.4 650.1h0M1088.0 658.5h0M1081.2 661.4h0M1075.1 655.8h0M1078.9 682.9h0M1071.0 676.1h0M1085.7 701.0h0M1104.5 699.9h0M1073.3 696.5h0M1074.4 701.0h0M1113.2 740.0h0M1121.6 742.2h0M1121.0 750.6h0M1103.2 726.6h0M1098.8 768.8h0M1088.8 762.2h0M1079.9 754.4h0M847.2 558.4h0M821.6 575.4h0M838.6 584.9h0M762.8 584.9h0M794.0 586.0h0M793.3 599.1h0M838.6 610.9h0M900.8 580.3h0M989.1 572.9h0M999.3 591.6h0M1001.5 592.8h0M990.2 606.4h0M1009.5 607.5h0M1024.2 610.4h0M1032.1 612.0h0M1027.6 619.9h0M1037.7 622.2h0M1046.8 633.5h0M1050.2 631.3h0M1060.4 605.2h0M1063.8 605.2h0M1061.5 626.7h0M1068.3 641.4h0M1059.2 644.8h0M869.1 588.3h0M866.9 598.4h0M892.9 590.1h0M893.4 599.1h0M906.5 593.9h0M862.4 606.4h0M869.1 608.6h0M880.5 608.6h0M903.1 608.6h0M930.2 606.4h0M924.6 614.3h0M933.6 616.5h0M960.8 614.3h0M945.0 626.7h0M974.4 630.1h0M984.6 633.5h0M994.7 633.5h0M1017.4 632.4h0M1006.1 640.3h0M1024.2 648.2h0M1047.9 652.7h0M1059.2 653.9h0M859.0 624.5h0M870.3 623.3h0M880.5 619.9h0M870.3 643.7h0M865.8 655.0h0M874.8 655.0h0M882.7 657.3h0M889.1 670.9h0M905.4 672.0h0M917.8 681.0h0M905.4 686.7h0M1037.7 664.1h0M931.5 710.0h0M940.4 706.6h0M940.4 704.4h0M972.6 726.6h0M982.6 728.8h0M1002.6 733.3h0M1022.5 741.1h0M1030.3 749.9h0M1051.4 751.1h0M1052.5 753.3h0M1068.1 759.9h0M960.4 704.4h0M964.8 703.3h0M991.5 722.2h0M995.9 724.4h0M1012.6 728.8h0M1020.3 724.4h0M1029.2 722.2h0M1035.9 726.6h0M1044.8 733.3h0M1055.9 733.3h0M1062.5 731.1h0M1078.5 684.2h0M1068.1 680.0h0M1066.0 692.5h0M1072.2 697.7h0M1074.3 703.9h0M1084.7 714.3h0M1085.8 721.6h0M1078.5 728.9h0M1086.8 737.2h0M1076.4 745.5h0M1080.6 753.8h0M1087.8 762.1h0M1099.3 768.4h0M1103.4 726.8h0M1104.5 700.8h0M1112.8 740.3h0M1121.1 742.4h0M1122.1 750.7h0M1068.1 760.0h0M1051.5 749.7h0M1050.4 753.8h0M1029.6 749.7h0M1022.4 741.3h0M1002.6 733.0h0M982.9 728.9h0M972.5 724.7h0M987.0 718.5h0M996.4 724.7h0M1070.2 733.0h0M1060.8 727.8h0M1068.1 716.4h0M1059.8 722.6h0M1045.2 733.0h0M1061.8 710.2h0M1057.7 712.2h0M441.0 498.1h0M441.0 541.1h0M441.0 559.2h0M471.5 536.6h0M473.8 545.6h0M461.4 554.7h0M464.8 556.9h0M472.7 560.3h0M486.3 564.2h0M489.7 532.0h0M514.5 528.7h0M515.7 538.8h0M502.1 546.8h0M506.6 547.9h0M511.2 546.8h0M517.9 545.6h0M521.3 547.9h0M508.9 555.8h0M515.7 558.1h0M520.2 556.9h0M524.7 558.1h0M507.8 562.6h0M538.3 549.0h0M527.0 572.8h0M540.6 566.0h0M544.0 563.7h0M547.4 566.0h0M542.8 580.7h0M538.3 584.1h0M554.1 579.6h0M558.7 575.0h0M563.2 577.3h0M558.7 566.0h0M563.2 563.7h0M567.7 562.6h0M572.3 566.0h0M576.8 561.5h0M581.3 563.7h0M579.0 556.9h0M585.8 554.7h0M590.4 559.2h0M594.9 561.5h0M558.7 554.7h0M576.8 541.1h0M565.5 570.5h0M572.3 575.0h0M567.7 581.8h0M563.2 586.4h0M576.8 586.4h0M581.3 581.8h0M588.1 579.6h0M594.9 577.3h0M599.4 579.6h0M603.9 577.3h0M608.5 581.8h0M615.2 581.8h0M622.0 584.1h0M624.3 586.4h0M613.0 563.7h0M590.4 595.4h0M599.4 613.5h0M591.5 615.8h0M610.7 597.7h0M620.9 596.5h0M616.4 603.3h0M632.2 595.4h0M637.9 588.6h0M635.6 593.1h0M645.8 602.2h0M645.8 610.1h0M652.6 615.8h0M632.2 613.5h0M651.5 572.8h0M667.3 628.2h0M674.1 599.9h0M743.1 646.3h0M166.7 395.6h0"/><path stroke="#e85f33" d="M152.6 409.9h0M158.2 413.3h0M147.6 408.5h0M158.5 397.0h0M165.9 400.8h0M153.3 411.6h0M164.7 410.4h0M147.8 400.9h0M169.3 404.8h0M154.3 407.3h0M154.7 411.7h0M161.2 408.8h0M162.2 400.2h0M156.9 407.4h0M168.3 408.7h0M196.7 417.9h0M235.8 428.9h0M262.2 445.5h0M232.2 426.4h0M251.8 431.4h0M221.0 421.6h0M223.0 423.2h0M243.4 426.9h0M200.1 420.5h0M275.1 434.8h0M235.8 425.3h0M228.0 423.0h0M203.6 418.2h0M208.7 419.1h0M276.5 445.9h0M195.2 421.1h0M248.1 428.5h0M195.9 411.4h0M231.3 418.8h0M280.3 455.0h0M260.4 434.8h0M271.4 436.5h0M217.6 421.3h0M192.1 411.1h0M276.4 428.8h0M201.6 420.0h0M266.0 435.7h0M208.3 418.2h0M272.1 445.3h0M199.7 415.5h0M260.7 438.5h0M258.0 434.5h0M265.2 439.5h0M275.6 441.6h0M283.5 438.0h0M244.0 428.1h0M273.7 440.2h0M223.2 424.3h0M242.2 432.8h0M229.3 423.9h0M208.6 414.3h0M265.9 433.4h0M232.6 419.6h0M212.4 422.7h0M225.0 421.7h0M285.0 443.9h0M230.1 426.2h0M282.6 444.0h0M289.4 438.4h0M273.1 441.1h0M285.4 454.4h0M193.4 410.3h0M239.1 428.2h0M269.8 449.2h0M286.5 431.0h0M270.2 432.9h0M259.0 445.0h0M280.1 454.8h0M225.9 417.7h0M279.9 430.3h0M278.2 435.6h0M247.8 431.8h0M226.5 418.4h0M234.1 417.9h0M273.7 440.4h0M245.1 432.7h0M284.2 441.0h0M246.0 425.1h0M248.2 437.8h0M281.8 431.9h0M189.1 410.6h0M276.1 446.4h0M278.7 443.5h0M229.2 417.0h0M284.1 456.6h0M251.9 428.3h0M291.6 447.2h0M324.4 428.2h0M324.3 423.0h0M351.3 452.2h0M300.8 438.4h0M331.3 424.2h0M321.6 441.0h0M324.5 430.9h0M303.6 431.5h0M300.1 427.8h0M291.2 434.9h0M325.7 445.0h0M290.0 450.4h0M303.5 443.2h0M343.4 424.6h0M316.0 444.3h0M339.6 433.8h0M296.1 446.4h0M290.5 455.3h0M320.8 441.0h0M298.4 440.4h0M318.0 444.8h0M295.1 430.9h0M324.7 449.4h0M351.1 435.0h0M344.2 433.7h0M305.9 439.3h0M322.0 425.1h0M329.3 452.0h0M300.8 443.4h0M324.5 428.1h0M345.5 425.2h0M347.8 430.3h0M335.0 445.2h0M333.5 449.3h0M306.9 436.7h0M328.1 447.1h0M316.0 433.5h0M330.3 423.5h0M324.7 435.2h0M334.1 432.4h0M292.7 446.5h0M310.1 422.7h0M291.9 456.1h0M322.2 425.3h0M293.2 441.2h0M324.8 439.3h0M327.3 424.1h0M289.4 443.7h0M289.1 439.3h0M314.7 452.9h0M323.9 425.6h0M298.6 451.2h0M304.2 442.6h0M383.4 436.7h0M384.7 443.6h0M384.2 437.4h0M384.1 448.7h0M434.1 446.7h0M416.6 438.4h0M414.0 444.8h0M435.0 435.3h0M355.2 441.3h0M412.3 437.0h0M407.0 448.7h0M434.8 438.5h0M395.5 433.0h0M417.9 441.8h0M359.6 451.4h0M395.0 448.8h0M429.3 442.9h0M390.5 445.0h0M395.4 434.0h0M355.1 446.8h0M429.2 445.7h0M398.1 448.5h0M381.8 436.2h0M418.6 449.5h0M400.2 441.6h0M404.8 438.6h0M402.6 447.7h0M383.6 445.4h0M414.3 445.1h0M319.4 468.9h0M297.1 455.9h0M356.3 462.4h0M420.0 472.3h0M397.5 475.5h0M406.4 456.3h0M377.4 461.9h0M366.9 455.2h0M335.8 471.6h0M436.4 475.6h0M412.2 466.8h0M311.7 463.7h0M392.7 473.4h0M310.5 460.2h0M359.0 471.7h0M424.8 480.1h0M392.3 472.6h0M413.3 464.4h0M393.2 455.8h0M431.3 469.6h0M360.8 455.0h0M397.2 473.7h0M371.4 465.5h0M306.8 462.1h0M406.8 478.2h0M408.2 457.2h0M353.7 469.9h0M406.0 455.5h0M430.8 480.4h0M347.0 455.6h0M394.3 468.4h0M439.5 469.9h0M383.6 464.9h0M315.6 467.6h0M326.1 471.2h0M419.2 477.7h0M335.5 454.0h0M403.7 467.2h0M350.3 456.9h0M324.0 466.5h0M340.1 473.2h0M358.2 483.0h0M339.2 464.1h0M338.7 472.4h0M335.2 458.3h0M312.7 465.0h0M330.8 465.9h0M333.7 467.3h0M337.9 460.3h0M533.9 503.6h0M574.8 512.4h0M687.8 508.1h0M584.1 501.5h0M556.6 510.7h0M697.7 507.1h0M551.8 501.3h0M669.2 502.5h0M633.4 504.3h0M564.2 510.1h0M613.8 511.8h0M668.4 511.8h0M559.8 512.8h0M570.0 496.5h0M580.5 504.0h0M615.8 497.0h0M637.7 503.9h0M698.2 506.5h0M671.3 515.0h0M632.9 511.3h0M694.4 517.9h0M543.8 499.6h0M583.6 498.5h0M573.5 496.5h0M677.4 508.9h0M633.9 510.7h0M574.3 507.5h0M664.4 506.4h0M677.8 506.8h0M534.6 507.0h0M606.4 514.8h0M673.3 507.9h0M628.3 508.1h0M642.1 499.8h0M569.5 506.8h0M643.5 514.6h0M576.4 499.0h0M535.2 494.3h0M604.9 515.0h0M589.7 496.8h0M552.6 499.1h0M664.9 512.5h0M648.9 514.1h0M620.3 500.9h0M666.9 500.5h0M672.9 502.7h0M694.3 509.4h0M587.2 536.1h0M696.0 544.6h0M637.4 516.1h0M702.7 533.2h0M690.3 546.0h0M625.6 558.5h0M732.7 539.8h0M614.0 521.1h0M588.1 536.3h0M687.9 569.0h0M689.2 572.7h0M744.2 566.7h0M668.0 534.9h0M686.8 557.8h0M643.9 560.6h0M718.2 549.2h0M669.4 517.9h0M661.4 530.5h0M596.2 524.2h0M725.6 545.6h0M731.2 550.4h0M613.8 534.2h0M596.1 531.9h0M623.6 542.0h0M616.6 546.0h0M651.7 567.1h0M657.0 554.0h0M684.6 535.3h0M635.9 525.0h0M722.4 537.7h0M629.7 561.7h0M709.1 554.1h0M576.4 519.4h0M702.8 550.2h0M609.4 548.9h0M563.4 514.0h0M561.0 518.7h0M614.0 561.6h0M666.0 522.1h0M676.5 569.6h0M637.4 531.8h0M685.3 554.8h0M558.6 533.1h0M599.8 521.6h0M564.5 526.1h0M725.9 566.6h0M671.8 532.1h0M570.3 519.0h0M562.0 532.0h0M725.9 566.1h0M671.9 545.2h0M635.3 533.5h0M621.4 531.7h0M744.1 553.9h0M580.2 523.1h0M700.4 529.8h0M695.6 532.1h0M702.8 530.4h0M548.8 534.0h0M658.2 531.0h0M706.2 541.5h0M593.1 518.8h0M649.0 523.5h0M687.2 543.7h0M658.0 561.8h0M588.5 530.0h0M650.8 558.4h0M566.9 528.3h0M740.9 549.2h0M666.8 538.9h0M611.0 535.4h0M643.5 533.1h0M673.4 521.3h0M648.7 563.2h0M706.1 555.0h0M707.8 532.4h0M714.9 570.1h0M678.0 555.0h0M591.1 537.1h0M694.1 548.9h0M658.8 520.2h0M629.9 562.5h0M663.4 552.4h0M554.8 520.2h0M677.9 548.1h0M692.9 561.6h0M603.3 518.9h0M606.9 551.6h0M587.1 534.0h0M640.8 533.4h0M680.0 571.1h0M656.2 562.4h0M544.0 538.2h0M646.1 552.1h0M647.6 518.5h0M685.6 538.3h0M548.7 538.2h0M610.5 557.9h0M623.5 515.2h0M624.7 513.4h0M683.8 572.5h0M662.2 546.9h0M608.3 541.3h0M657.0 568.7h0M692.7 533.1h0M752.8 550.3h0M604.1 537.0h0M672.2 564.9h0M696.4 571.7h0M663.7 518.8h0M666.8 567.2h0M738.9 544.2h0M595.7 519.4h0M556.1 529.5h0M705.2 545.5h0M665.6 521.7h0M746.3 561.6h0M685.9 519.6h0M714.2 561.5h0M631.9 554.3h0M662.4 562.8h0M613.2 540.9h0M683.0 558.7h0M630.5 520.3h0M627.7 519.4h0M675.1 515.9h0M548.6 518.0h0M698.0 546.8h0M623.1 531.9h0M674.2 550.1h0M699.2 547.7h0M667.0 534.2h0M658.4 536.8h0M661.7 557.8h0M668.1 536.6h0M713.6 569.2h0M632.3 534.2h0M672.1 549.7h0M673.1 546.2h0M654.3 549.3h0M649.5 560.4h0M661.0 540.2h0M690.9 566.6h0M706.9 570.1h0M725.5 552.5h0M720.0 570.6h0M661.7 531.3h0M670.0 532.9h0M644.3 534.3h0M712.7 554.5h0M719.8 570.7h0M660.7 544.0h0M644.6 534.8h0M711.4 541.3h0M658.8 568.1h0M670.6 537.5h0M706.6 553.5h0M664.6 563.0h0M722.9 546.0h0M690.1 544.5h0M619.0 531.7h0M657.5 532.7h0M704.5 569.0h0M664.8 534.3h0M611.5 553.5h0M658.9 559.0h0M646.2 539.3h0M688.3 570.5h0M664.3 563.6h0M609.5 550.6h0M706.4 547.0h0M617.2 557.0h0M732.3 543.7h0M623.2 551.6h0M687.6 549.0h0M615.8 543.8h0M668.5 540.1h0M667.6 559.1h0M687.0 552.7h0M655.1 537.4h0M696.6 549.2h0M632.7 530.3h0M719.2 565.6h0M731.2 559.1h0M615.3 547.9h0M717.9 552.1h0M709.0 563.9h0M610.9 534.6h0M678.7 546.0h0M679.5 570.2h0M649.2 528.5h0M730.8 570.4h0M652.5 534.1h0M613.0 545.4h0M636.0 542.5h0M650.6 565.1h0M659.1 533.6h0M683.0 549.4h0M615.8 548.6h0M643.8 538.0h0M669.4 569.7h0M660.6 568.3h0M671.9 540.5h0M718.1 571.6h0M610.0 559.3h0M682.0 541.9h0M637.9 561.5h0M648.5 541.4h0M642.4 563.2h0M608.5 542.0h0M732.0 560.3h0M707.1 556.2h0M618.0 550.9h0M721.9 545.0h0M672.2 531.8h0M685.5 570.5h0M637.0 548.5h0M699.2 554.8h0M628.8 558.8h0M670.7 559.3h0M648.2 545.5h0M671.7 564.5h0M674.1 535.5h0M668.6 553.7h0M612.5 554.3h0M678.7 557.3h0M693.0 563.0h0M617.3 541.0h0M641.2 556.8h0M720.9 543.4h0M638.7 552.2h0M721.8 561.7h0M626.9 554.0h0M632.4 530.7h0M647.6 560.2h0M682.9 565.9h0M711.2 540.9h0M710.6 559.8h0M649.4 559.6h0M707.8 550.6h0M675.7 535.3h0M710.7 568.4h0M666.4 530.6h0M724.2 552.3h0M682.0 561.2h0M678.8 555.6h0M650.6 553.6h0M634.2 560.1h0M697.8 549.7h0M703.4 551.7h0M632.8 540.6h0M646.6 543.5h0M650.3 534.9h0M621.5 549.0h0M615.1 547.3h0M624.4 548.9h0M623.1 537.4h0M671.6 566.1h0M645.7 553.4h0M700.6 571.0h0M675.7 532.1h0M610.7 553.7h0M695.7 562.7h0M606.5 534.9h0M669.4 536.6h0M619.9 557.7h0M625.4 556.0h0M638.1 530.3h0M667.5 564.2h0M704.1 541.0h0M648.0 552.3h0M723.7 565.2h0M677.7 532.2h0M619.2 550.9h0M669.8 547.3h0M700.2 553.1h0M660.5 568.9h0M633.2 551.4h0M632.2 553.5h0M617.6 550.3h0M684.6 535.0h0M689.6 533.9h0M685.3 538.5h0M636.6 561.7h0M730.1 569.5h0M612.4 537.2h0M700.1 544.6h0M664.0 562.2h0M692.7 574.7h0M644.4 549.1h0M684.5 572.0h0M724.5 564.2h0M674.7 542.1h0M732.6 562.2h0M666.2 548.0h0M660.6 569.2h0M669.2 561.9h0M671.8 570.3h0M713.5 540.3h0M1272.1 766.6h0M1315.0 770.4h0M1285.6 736.1h0M1281.1 737.3h0M1281.6 753.4h0M1360.9 733.3h0M1318.9 771.9h0M1327.4 771.6h0M1297.7 769.1h0M1307.0 768.0h0M1286.2 732.4h0M1315.8 766.6h0M1372.4 758.5h0M1309.2 743.5h0M1293.6 745.6h0M1323.6 775.2h0M1288.9 767.3h0M1371.2 757.7h0M1372.7 757.3h0M1310.6 763.0h0M1376.4 736.2h0M1337.2 750.0h0M673.6 216.6h0M1100.4 344.2h0M1100.4 348.8h0M1099.3 356.7h0M1075.5 353.3h0M1136.6 347.6h0M1133.2 354.4h0M1131.0 360.1h0M1153.6 347.6h0M1114.0 334.1h0M762.8 430.5h0M812.6 431.0h0M847.6 427.1h0M889.5 432.8h0M906.5 446.8h0M871.4 450.4h0M832.9 453.8h0M853.3 457.0h0M888.4 463.3h0M791.1 448.6h0M803.1 445.7h0M771.8 451.3h0M931.4 457.2h0M938.2 466.7h0M957.4 464.0h0M968.3 463.3h0M975.5 475.3h0M994.7 466.3h0M982.3 485.3h0M1007.2 484.4h0M1018.5 488.2h0M998.1 493.9h0M1017.4 502.5h0M1043.4 505.6h0M1042.3 462.2h0M1036.6 470.1h0M1040.0 472.4h0M1029.8 489.4h0M1034.3 487.1h0M1038.9 482.1h0M946.1 479.6h0M926.9 481.4h0M924.6 487.1h0M891.8 504.1h0M848.8 486.6h0M792.2 481.4h0M789.9 499.8h0M1041.8 396.1h0M1070.6 492.7h0M617.0 388.4h0M690.1 407.0h0M1075.5 352.6h0M1098.2 357.2h0M1100.4 344.7h0M1100.4 349.2h0M1136.6 348.1h0M1152.5 348.1h0M1132.1 354.9h0M1131.0 359.4h0M1134.4 361.7h0M1129.8 372.5h0M1133.2 382.0h0M1142.3 385.4h0M1153.6 389.3h0M1119.7 390.6h0M1100.4 385.4h0M1158.1 419.4h0M1181.2 422.8h0M1091.4 471.4h0M1073.3 491.8h0M1080.1 494.1h0M1084.6 497.5h0M1089.1 495.2h0M1093.6 494.7h0M1107.2 488.4h0M1107.2 494.1h0M1115.8 493.4h0M1126.9 508.3h0M1131.0 518.3h0M1164.9 495.6h0M1187.5 502.4h0M1216.5 545.3h0M1163.8 630.9h0M1169.9 643.3h0M1135.9 637.0h0M1134.8 644.0h0M1115.1 645.6h0M1114.0 648.5h0M1141.6 655.3h0M1112.4 662.1h0M1136.6 666.4h0M1149.1 667.1h0M1180.1 660.8h0M1185.3 649.4h0M1189.8 651.3h0M1200.0 654.6h0M1209.7 649.7h0M1168.3 672.7h0M1167.2 676.8h0M1178.5 677.3h0M1197.7 675.7h0M1208.6 678.9h0M1162.2 687.5h0M1163.8 693.8h0M1140.0 694.9h0M1144.5 702.2h0M1131.0 701.0h0M1132.1 699.9h0M1154.7 701.0h0M1161.5 703.8h0M1204.5 698.8h0M1206.8 697.6h0M1208.6 705.1h0M1223.7 692.0h0M1232.1 686.8h0M1241.2 687.9h0M1243.4 687.5h0M1238.5 707.4h0M1265.6 706.0h0M1271.3 697.6h0M1275.8 694.2h0M1280.3 692.0h0M1283.7 695.4h0M1289.4 706.0h0M1299.1 689.3h0M1327.4 641.5h0M1373.1 658.0h0M1351.2 666.0h0M1353.9 670.5h0M1342.6 670.5h0M1381.0 680.7h0M1340.3 699.9h0M1338.0 703.3h0M1342.6 701.0h0M1352.7 703.3h0M1338.0 696.5h0M1336.9 706.7h0M1104.9 703.8h0M1095.4 652.8h0M1093.2 644.0h0M1086.4 637.7h0M1081.2 644.0h0M1075.5 647.9h0M1193.2 715.5h0M1198.7 714.4h0M1204.3 714.4h0M1203.6 726.0h0M1217.6 726.2h0M1224.3 712.9h0M1232.7 727.3h0M1239.1 731.1h0M1246.5 738.9h0M1252.0 721.1h0M1252.0 725.5h0M1260.2 719.5h0M1254.9 713.3h0M1264.2 727.8h0M1267.6 731.1h0M1272.0 725.5h0M1274.2 726.6h0M1257.6 745.1h0M1273.1 746.6h0M1277.6 740.0h0M1280.9 737.8h0M1284.2 735.5h0M1289.8 731.1h0M1292.0 742.2h0M1288.7 746.6h0M1273.1 753.3h0M1277.6 760.0h0M1273.1 764.4h0M1275.4 766.6h0M1262.0 765.5h0M1260.9 770.0h0M1246.5 767.7h0M1242.0 751.1h0M1243.1 754.4h0M1246.5 753.3h0M1218.3 748.9h0M1217.6 758.9h0M1298.7 766.6h0M1302.0 726.6h0M1306.5 723.3h0M1310.9 730.0h0M1314.2 725.5h0M1315.3 733.3h0M1318.7 740.0h0M1319.8 744.4h0M1324.2 755.5h0M1327.6 748.9h0M1330.9 753.3h0M1334.2 738.9h0M1337.5 746.6h0M1344.2 742.2h0M1348.7 741.1h0M1353.1 746.6h0M1357.5 751.1h0M1362.0 757.7h0M1359.8 744.4h0M1364.2 738.9h0M1368.6 734.4h0M1369.8 738.9h0M1367.5 765.5h0M1335.3 768.8h0M1340.9 766.6h0M1333.1 760.0h0M1329.8 717.8h0M1334.2 718.9h0M1338.7 721.1h0M1343.1 723.3h0M1353.1 728.9h0M1325.3 726.6h0M1317.6 767.7h0M1313.1 772.2h0M1322.0 775.5h0M1328.7 762.2h0M1382.0 711.1h0M1380.9 746.6h0M1382.0 757.7h0M1131.0 762.2h0M1125.4 755.5h0M1152.1 774.4h0M1279.8 776.6h0M1382.0 744.4h0M1293.1 714.4h0M1299.8 716.7h0M1304.2 718.9h0M1277.6 714.4h0M1284.2 714.4h0M1303.1 726.6h0M891.8 504.1h0M1018.5 502.7h0M1044.5 505.7h0M823.9 552.0h0M874.8 565.2h0M810.3 569.0h0M817.1 567.9h0M822.8 565.6h0M828.4 571.3h0M832.9 567.9h0M774.1 547.5h0M770.7 545.3h0M778.6 548.7h0M769.6 556.6h0M758.3 554.3h0M760.5 569.0h0M756.0 570.2h0M834.1 601.8h0M820.5 612.0h0M771.8 616.5h0M761.7 599.6h0M769.6 599.6h0M778.6 597.3h0M785.4 601.8h0M780.9 609.8h0M796.7 604.1h0M797.9 610.9h0M791.1 606.4h0M811.4 629.0h0M787.7 635.8h0M795.6 641.4h0M803.5 648.2h0M810.3 644.8h0M814.8 638.0h0M819.4 640.3h0M821.6 635.8h0M828.4 633.5h0M830.7 638.0h0M826.2 642.6h0M835.2 644.8h0M842.0 642.6h0M846.5 649.4h0M851.0 656.1h0M854.4 661.8h0M819.4 665.2h0M823.9 658.4h0M828.4 656.1h0M832.9 658.4h0M835.2 662.9h0M839.7 665.2h0M828.4 672.0h0M836.3 674.2h0M838.6 678.8h0M836.3 681.0h0M846.5 692.4h0M839.7 576.9h0M846.5 582.6h0M848.8 572.4h0M856.7 572.4h0M853.3 574.7h0M850.6 609.8h0M856.2 643.7h0M891.3 616.5h0M889.5 622.2h0M924.1 623.3h0M948.4 608.6h0M981.2 619.9h0M965.3 592.8h0M980.0 591.6h0M984.6 592.8h0M981.2 605.2h0M997.0 616.5h0M999.3 613.1h0M1036.6 618.8h0M1032.1 630.1h0M1038.9 629.0h0M1045.7 627.9h0M1037.7 643.7h0M1037.7 656.1h0M1060.4 614.3h0M1059.2 617.7h0M1061.5 629.0h0M1069.4 634.6h0M1062.6 643.7h0M1054.7 641.4h0M1057.0 681.0h0M1023.0 669.7h0M1023.0 682.2h0M1004.9 658.4h0M999.3 666.3h0M975.5 648.2h0M954.0 676.5h0M947.2 684.4h0M947.2 638.0h0M931.4 639.2h0M880.5 684.4h0M950.4 758.8h0M847.1 694.4h0M980.3 778.2h0M1020.3 778.2h0M1024.4 671.7h0M1024.4 682.1h0M1054.6 682.1h0M1029.6 708.1h0M1037.9 708.1h0M1068.1 713.3h0M1087.8 696.7h0M1077.4 745.5h0M1090.9 742.4h0M1097.2 747.6h0M1105.5 758.0h0M1036.9 656.1h0M1004.7 659.2h0M999.5 666.5h0M975.6 648.8h0M980.8 619.7h0M450.1 498.1h0M454.6 493.6h0M463.6 495.8h0M477.2 498.1h0M480.6 495.8h0M493.0 501.5h0M501.0 492.4h0M519.1 482.3h0M531.5 495.8h0M546.2 501.5h0M553.0 497.0h0M511.2 507.2h0M513.4 511.7h0M530.4 513.9h0M521.3 519.6h0M527.0 523.0h0M476.1 512.8h0M482.9 516.2h0M495.3 517.3h0M497.6 523.0h0M486.3 527.5h0M485.1 533.2h0M472.7 524.1h0M461.4 540.0h0M470.4 547.9h0M482.9 550.2h0M482.9 554.7h0M450.1 555.8h0M454.6 556.9h0M498.7 567.1h0M504.4 569.4h0M511.2 570.5h0M515.7 572.8h0M523.6 578.4h0M531.5 577.3h0M530.4 584.1h0M533.8 586.4h0M528.1 570.5h0M538.3 567.1h0M502.1 540.0h0M515.7 535.4h0M523.6 540.0h0M527.0 545.6h0M524.7 554.7h0M529.3 530.9h0M531.5 532.0h0M545.1 552.4h0M548.5 555.8h0M551.9 558.1h0M547.4 563.7h0M554.1 583.0h0M557.5 590.9h0M563.2 601.1h0M567.7 597.7h0M571.1 603.3h0M574.5 595.4h0M580.2 606.7h0M572.3 570.5h0M579.0 552.4h0M583.6 575.0h0M585.8 581.8h0M590.4 584.1h0M591.5 563.7h0M597.1 584.1h0M599.4 588.6h0M603.9 584.1h0M599.4 595.4h0M606.2 597.7h0M611.9 589.8h0M613.0 571.6h0M607.3 570.5h0M591.5 607.9h0M610.7 611.3h0M618.6 615.8h0M632.2 578.4h0M637.9 614.6h0M657.1 581.8h0M661.6 597.7h0M685.4 621.4h0M689.9 586.4h0M692.2 581.8h0M703.5 605.6h0M705.8 609.0h0M715.9 611.3h0M720.5 622.6h0M730.7 618.0h0M726.1 577.3h0M726.1 587.5h0M732.9 594.3h0M737.4 595.4h0M745.4 590.9h0M753.3 593.1h0M745.4 578.4h0M752.2 569.4h0M579.5 647.0h0M699.0 665.1h0M730.7 657.6h0M714.8 570.5h0M705.8 575.0h0M732.9 540.0h0M742.0 547.9h0M753.3 547.9h0M605.1 485.7h0M608.5 491.3h0M615.2 493.6h0M633.4 489.1h0M644.7 484.1h0M608.5 506.0h0M615.2 511.7h0M658.2 508.3h0M633.4 502.6h0M635.6 506.0h0M584.7 506.0h0M890.7 616.2h0M889.1 621.8h0M924.7 623.4h0M931.1 639.6h0M947.3 638.8h0M975.6 648.5h0M1004.7 659.0h0M999.9 666.3h0M1023.3 671.1h0M1024.9 682.5h0M953.8 676.8h0M947.3 684.9h0M881.0 684.1h0M948.1 608.1h0M981.3 619.4h0M1037.8 643.7h0M1037.0 656.6h0M1054.8 681.6h0M1058.1 680.0h0M1029.8 708.3h0M1037.8 708.3h0M188.2 391.8h0M232.5 412.2h0M273.3 412.2h0M285.9 408.6h0"/></g><polygon fill="#000" fill-opacity="0.23" points="827.3,129.4 1028.6,-2 1187.2,-2 1369.6,129.3 1386,328.2 975,346 1128.3,201.5"/><polygon fill="#000" fill-opacity="0.23" points="290.4,363.9 509.8,287.2 591.3,445.5 290.4,453.9"/><polygon fill="#000" fill-opacity="0.23" points="839,566.3 1086.7,657.8 1112,761.9 859.4,689.5"/><g clip-path="url(#c)" stroke-linecap="round" stroke-width="7.8" fill="none"><path stroke="#5a8cb9" d="M156.1 401.5h0M154.0 404.9h0M169.8 398.2h0M178.1 398.0h0M167.1 401.6h0M170.2 400.9h0M174.2 401.6h0M178.3 400.1h0M171.8 403.5h0"/><path stroke="#2f8a4e" d="M1042.0 14.4h0M1047.6 14.8h0M1052.1 13.7h0M1056.9 15.1h0M1060.6 14.8h0M1067.1 14.7h0M1072.3 15.8h0M1078.1 15.8h0M1082.7 13.5h0M1087.4 15.1h0M1033.3 20.3h0M1040.6 19.3h0M1044.0 19.9h0M1047.8 18.0h0M1054.6 19.8h0M1058.6 19.4h0M1065.5 19.7h0M1069.3 19.7h0M1075.4 18.7h0M1078.4 18.3h0M1083.8 20.2h0M1087.8 19.2h0M1093.3 17.8h0M1098.9 18.6h0M1030.3 24.1h0M1035.3 24.0h0M1041.1 22.7h0M1047.7 21.7h0M1051.6 22.1h0M1057.5 23.8h0M1060.9 24.0h0M1065.7 22.1h0M1070.7 22.9h0M1078.0 22.5h0M1081.6 23.3h0M1087.8 22.3h0M1091.2 22.1h0M1098.1 23.9h0M1101.7 22.7h0M1029.4 26.4h0M1033.1 27.9h0M1040.5 28.1h0M1042.9 27.6h0M1050.6 26.6h0M1055.5 28.5h0M1060.1 27.8h0M1063.8 26.3h0M1068.2 26.2h0M1075.4 28.2h0M1079.0 28.6h0M1084.3 28.0h0M1087.9 28.8h0M1093.6 27.1h0M1021.7 32.3h0M1027.2 31.1h0M1031.6 30.8h0M1038.1 31.6h0M1041.9 33.0h0M1046.5 31.5h0M1050.4 31.7h0M1056.3 32.0h0M1062.3 31.9h0M1066.0 32.9h0M1072.5 30.9h0M1077.8 31.6h0M1080.5 32.0h0M1014.5 36.8h0M1020.6 36.7h0M1025.0 35.5h0M1029.9 37.2h0M1034.8 35.5h0M1040.5 35.8h0M1044.5 35.7h0M1049.1 37.2h0M1054.5 37.3h0M1060.3 34.9h0M1065.5 37.5h0M1068.4 37.0h0M1074.8 36.6h0M1007.6 40.4h0M1011.6 40.3h0M1016.4 40.0h0M1021.7 39.3h0M1026.1 40.6h0M1031.6 39.1h0M1036.7 40.3h0M1041.2 39.1h0M1046.6 41.6h0M1050.9 39.1h0M1055.8 40.3h0M1062.0 40.3h0M1003.1 44.4h0M1008.6 43.7h0M1013.1 45.6h0M1019.1 44.1h0M1025.1 44.7h0M1029.7 43.7h0M1032.8 44.2h0M1037.9 45.9h0M1044.0 43.6h0M1050.0 44.1h0M1055.1 45.2h0M1060.2 43.6h0M1001.3 50.5h0M1007.9 49.3h0M1012.6 49.3h0M1017.4 47.7h0M1022.8 50.4h0M1027.4 50.1h0M1032.0 48.1h0M1036.0 48.8h0M1042.0 48.9h0M1045.3 49.5h0M1051.7 48.7h0M1057.1 49.4h0M990.1 53.2h0M993.9 54.1h0M998.9 54.8h0M1005.6 53.7h0M1010.2 52.3h0M1014.0 53.1h0M1018.9 52.9h0M1025.2 52.6h0M1028.0 52.0h0M1034.7 52.1h0M1040.5 53.8h0M1043.4 53.1h0M1050.4 52.4h0M972.3 57.8h0M975.3 57.4h0M983.2 57.7h0M988.0 59.2h0M990.3 56.9h0M997.9 56.4h0M1000.7 57.4h0M1007.5 57.4h0M1010.6 58.0h0M1016.6 57.7h0M1020.4 58.4h0M1026.5 56.7h0M1032.6 57.6h0M1037.1 56.5h0M1041.1 58.0h0M1047.0 58.9h0M958.5 63.3h0M963.7 61.2h0M968.3 61.4h0M973.7 62.7h0M977.9 62.5h0M984.6 62.6h0M989.5 60.7h0M994.3 61.5h0M999.3 62.7h0M1004.1 62.4h0M1009.4 63.5h0M1014.8 62.5h0M1019.4 60.9h0M1023.0 62.5h0M1028.7 61.6h0M1033.5 61.4h0M1039.0 61.0h0M948.0 67.7h0M951.1 67.9h0M956.4 67.1h0M961.6 65.3h0M968.0 66.6h0M971.7 65.0h0M976.0 67.1h0M983.0 67.0h0M987.8 67.4h0M992.1 66.0h0M996.6 65.5h0M1002.6 65.9h0M1007.7 65.6h0M1010.5 65.4h0M945.4 70.0h0M948.9 71.1h0M955.4 71.1h0M960.0 70.3h0M963.5 71.9h0M969.6 69.7h0M974.9 69.5h0M980.1 71.3h0M985.4 70.5h0M988.5 72.1h0M992.8 70.8h0M998.6 69.6h0M1003.4 72.3h0M946.5 75.9h0M950.9 76.3h0M958.0 74.5h0M961.8 76.2h0M966.8 73.8h0M972.0 74.1h0M977.6 74.1h0M981.9 74.5h0M987.2 76.5h0M992.5 74.7h0M996.8 75.6h0M944.5 79.8h0M950.1 80.2h0M954.8 78.8h0M958.4 78.4h0M963.6 78.9h0M969.0 78.5h0M974.7 80.4h0M979.4 79.2h0M983.4 80.3h0M988.2 78.6h0M946.7 83.7h0M950.6 84.8h0M956.0 84.6h0M962.0 83.6h0M966.1 84.8h0M971.7 85.2h0M977.5 83.2h0M982.6 84.8h0M987.6 83.4h0M950.0 88.0h0M953.0 89.5h0M960.0 86.7h0M963.1 89.3h0M968.7 87.7h0M973.0 86.8h0M957.0 91.6h0M962.0 92.6h0M965.3 93.8h0M959.0 95.4h0M483.3 315.5h0M467.9 319.0h0M473.5 318.5h0M476.2 319.1h0M480.9 319.4h0M453.5 323.5h0M456.6 323.4h0M460.4 324.0h0M465.2 322.0h0M470.9 322.5h0M475.2 322.6h0M479.4 321.8h0M446.0 326.6h0M449.8 326.8h0M453.6 326.9h0M458.8 326.9h0M463.5 327.5h0M468.1 325.6h0M412.8 330.1h0M417.4 331.6h0M420.6 329.9h0M425.8 331.9h0M428.9 331.7h0M434.6 330.6h0M438.3 332.0h0M442.8 329.9h0M448.9 329.7h0M453.0 329.4h0M457.1 329.4h0M405.6 334.6h0M410.9 335.8h0M413.0 334.5h0M417.5 334.8h0M424.6 334.2h0M427.2 334.6h0M432.7 335.5h0M435.6 333.7h0M441.0 333.8h0M446.5 334.2h0M449.8 334.1h0M454.3 335.8h0M419.7 338.1h0M425.3 338.8h0M428.9 338.7h0M435.8 339.7h0M438.9 338.3h0M442.7 338.4h0M448.7 338.2h0M452.1 339.0h0M422.1 341.9h0M428.1 342.3h0M431.2 343.1h0M437.6 342.7h0M440.5 343.2h0M446.3 343.3h0M450.4 342.4h0M420.1 346.5h0M425.2 347.1h0M429.5 345.2h0M433.3 346.2h0M413.6 348.9h0M319.9 362.2h0M328.4 361.8h0M313.8 364.2h0M316.5 365.7h0M321.0 364.6h0M325.5 366.0h0M332.0 364.2h0M335.9 364.6h0M310.2 368.6h0M315.3 368.6h0M320.7 368.1h0M323.9 367.7h0M327.9 369.0h0M332.7 368.3h0M336.6 367.9h0M309.6 372.1h0M314.0 371.4h0M317.5 373.8h0M321.7 372.6h0M326.2 371.5h0M331.0 372.3h0M336.3 371.7h0M320.1 375.2h0M879.3 129.0h0M880.5 105.2h0M886.1 106.4h0M894.0 123.3h0M914.4 117.7h0M915.5 123.3h0M942.7 113.1h0M1027.6 72.4h0M1037.7 71.3h0M960.8 56.6h0M1009.5 38.5h0M900.8 99.6h0M905.4 106.4h0M909.9 92.8h0M914.4 95.0h0M921.2 88.3h0M924.6 95.0h0M929.1 89.4h0M937.0 92.8h0M946.1 93.9h0M948.4 103.0h0M950.6 99.6h0M959.7 99.6h0M968.7 97.3h0M880.0 105.8h0M886.8 106.6h0M893.5 123.6h0M902.0 98.2h0M907.1 91.4h0M909.6 103.2h0M913.9 94.8h0M915.5 116.8h0M914.7 121.9h0M922.3 88.0h0M924.0 96.5h0M929.1 88.9h0M937.5 93.1h0M942.6 113.4h0M947.7 93.9h0M949.4 102.4h0M959.6 98.2h0M969.7 98.2h0M944.3 71.1h0M961.2 56.7h0M965.5 61.8h0M1008.6 38.9h0M1027.3 72.8h0M1038.3 71.1h0M1006.9 72.8h0M998.5 82.1h0"/><path stroke="#447698" d="M1065.4 124.2h0M1021.0 138.5h0M1036.4 137.7h0M1038.9 139.2h0M1017.0 139.2h0M1025.7 148.2h0M1029.3 138.2h0M1048.4 125.4h0M1015.5 147.4h0M1033.3 131.6h0M1024.2 133.1h0M1049.9 133.7h0M1065.9 126.6h0M1019.0 147.3h0M1012.3 138.4h0M1014.8 128.2h0M1039.6 114.5h0M1022.7 146.0h0M1037.3 145.3h0M1035.2 147.2h0M1058.8 112.7h0M1067.1 102.2h0M1049.9 110.3h0M1027.9 130.2h0M1064.9 98.4h0M1035.2 140.0h0M1006.5 148.3h0M1050.1 112.7h0M1033.1 115.3h0M1057.9 104.1h0M1034.9 123.6h0M1058.2 123.1h0M1030.4 121.5h0M1028.9 146.2h0M1024.6 132.1h0M1029.7 143.0h0M1069.5 117.3h0M1031.6 149.3h0M508.9 349.5h0M511.9 350.5h0M501.9 353.2h0M505.2 353.0h0M510.9 353.6h0M471.4 359.0h0M475.1 358.4h0M480.9 357.3h0M486.2 359.2h0M489.4 359.3h0M494.5 358.5h0M498.6 357.2h0M502.1 358.4h0M507.7 357.9h0M512.2 358.9h0M473.8 362.7h0M478.7 361.6h0M482.4 361.8h0M487.8 361.6h0M491.8 361.9h0M496.5 362.4h0M500.5 361.5h0M504.9 360.7h0M510.8 361.5h0M355.8 372.1h0M359.2 372.6h0M363.6 372.8h0M343.5 377.9h0M348.4 377.4h0M353.5 376.6h0M356.6 376.5h0M362.6 376.4h0M365.5 376.6h0M371.6 378.0h0M342.7 382.0h0M347.2 381.4h0M350.9 379.9h0M354.9 380.1h0M359.9 379.9h0M365.3 380.4h0M368.7 381.9h0M339.4 385.9h0M343.7 384.8h0M348.3 385.9h0M353.7 384.6h0M356.8 383.8h0M361.4 385.7h0M1159.2 57.2h0M1164.6 57.5h0M1169.0 57.7h0M1233.8 57.3h0M1242.2 55.6h0M1248.3 57.7h0M1150.9 60.3h0M1156.6 60.4h0M1161.6 61.6h0M1164.7 60.8h0M1172.0 62.1h0M1175.3 59.3h0M1210.0 61.5h0M1222.0 60.9h0M1225.6 59.8h0M1230.2 61.8h0M1235.5 60.4h0M1242.3 61.6h0M1245.3 59.8h0M1249.8 59.6h0M1144.6 64.7h0M1149.5 65.2h0M1153.6 65.9h0M1159.7 65.3h0M1162.3 66.3h0M1167.8 65.1h0M1173.6 63.6h0M1179.9 63.8h0M1184.6 65.8h0M1189.0 66.0h0M1198.3 65.2h0M1203.8 65.8h0M1209.8 65.8h0M1214.3 66.4h0M1217.4 63.5h0M1222.9 64.1h0M1228.4 63.6h0M1233.6 64.2h0M1237.8 64.6h0M1249.0 64.2h0M1136.3 70.6h0M1140.2 68.0h0M1146.4 69.5h0M1149.6 69.3h0M1155.9 69.5h0M1160.4 69.4h0M1167.1 69.6h0M1171.0 68.5h0M1175.6 68.5h0M1180.3 70.2h0M1186.5 70.2h0M1191.4 68.6h0M1196.4 68.7h0M1200.8 69.0h0M1206.7 68.0h0M1210.8 69.9h0M1217.4 69.7h0M1220.2 69.3h0M1127.6 72.3h0M1132.6 74.9h0M1137.0 74.2h0M1142.8 74.0h0M1147.6 73.6h0M1153.3 75.1h0M1159.4 75.1h0M1162.6 72.4h0M1168.2 74.8h0M1174.4 73.4h0M1178.5 73.1h0M1184.3 72.5h0M1187.6 73.9h0M1194.8 72.2h0M1197.3 74.9h0M1203.5 72.3h0M1208.6 72.6h0M1120.3 78.4h0M1125.1 76.8h0M1129.8 79.1h0M1134.8 79.2h0M1142.2 79.1h0M1144.6 76.9h0M1150.9 78.7h0M1154.8 76.6h0M1159.6 76.8h0M1167.4 78.9h0M1171.8 78.7h0M1175.4 77.0h0M1180.0 77.4h0M1185.0 76.6h0M1190.4 78.8h0M1196.1 77.7h0M1113.7 82.2h0M1117.1 81.3h0M1124.1 82.7h0M1128.2 82.0h0M1133.2 83.8h0M1138.6 83.7h0M1144.9 82.8h0M1149.2 83.3h0M1153.1 81.2h0M1158.4 81.6h0M1163.8 81.6h0M1167.9 82.8h0M1172.4 83.3h0M1178.9 82.9h0M1107.2 86.2h0M1112.1 88.1h0M1114.9 87.8h0M1121.9 86.3h0M1125.3 87.7h0M1130.4 85.5h0M1136.9 85.3h0M1140.1 87.1h0M1147.2 87.9h0M1151.4 85.4h0M1157.3 86.7h0M1161.3 86.0h0M1165.2 85.7h0M1172.0 86.6h0M1099.0 91.6h0M1103.6 89.6h0M1109.4 91.7h0M1112.7 90.0h0M1119.6 90.6h0M1123.6 90.3h0M1127.8 89.9h0M1133.6 91.9h0M1137.8 89.6h0M1144.4 92.1h0M1149.1 90.0h0M1154.1 90.7h0M1157.9 90.1h0M1162.3 89.6h0M1076.7 96.2h0M1080.9 95.6h0M1085.7 95.3h0M1089.6 96.1h0M1096.4 94.3h0M1102.1 96.3h0M1105.5 96.1h0M1109.8 94.8h0M1116.6 94.5h0M1121.4 94.7h0M1125.9 94.4h0M1130.6 96.7h0M1136.2 96.0h0M1142.0 93.8h0M1146.5 94.2h0M1152.1 95.1h0M1157.1 94.5h0M1159.8 95.9h0M1075.0 100.8h0M1077.2 98.6h0M1083.4 99.0h0M1088.1 100.0h0M1094.8 100.7h0M1099.4 98.7h0M1104.9 100.4h0M1107.9 98.5h0M1114.8 100.0h0M1119.2 99.8h0M1122.8 100.6h0M1129.6 100.4h0M1134.5 100.1h0M1140.0 100.6h0M1142.8 99.6h0M1148.7 98.4h0M1152.5 99.6h0M1077.3 104.2h0M1079.7 104.8h0M1087.4 105.1h0M1089.5 104.1h0M1097.0 105.0h0M1099.7 105.1h0M1105.8 104.1h0M1112.1 104.5h0M1117.1 105.0h0M1121.1 103.2h0M1126.6 105.2h0M1130.2 102.9h0M1135.1 102.6h0M1141.9 102.8h0M1075.0 108.1h0M1079.1 109.7h0M1084.8 106.9h0M1087.3 106.8h0M1093.8 107.5h0M1099.6 109.2h0M1104.0 108.2h0M1107.5 109.3h0M1113.1 107.6h0M1118.9 109.1h0M1076.2 111.7h0M1082.1 113.0h0M1086.3 112.0h0M1091.1 113.0h0M1094.7 112.0h0M1099.6 112.5h0M1106.3 111.4h0M1111.5 112.1h0M1079.7 117.1h0M1083.0 118.0h0M1088.0 116.2h0M1092.9 118.1h0M1097.8 118.0h0M1104.7 117.2h0M1108.8 116.3h0M1076.9 121.4h0M1081.8 122.0h0M1084.8 122.6h0M1091.8 121.8h0M1097.0 120.2h0M1100.4 120.7h0M1104.6 120.7h0M1079.6 127.1h0M1082.1 126.5h0M1087.3 126.8h0M1094.9 125.1h0M1098.6 124.2h0M1077.0 129.1h0M1080.3 130.6h0M1086.5 129.8h0M1001.5 153.9h0M1009.5 161.8h0M1017.4 146.0h0M1027.6 159.5h0M1028.7 165.2h0M1038.9 139.2h0M1040.0 148.2h0M1052.4 141.4h0M1233.9 78.1h0M1140.0 112.0h0M1193.2 86.0h0M1109.5 79.2h0M1102.7 83.7h0M1080.1 135.8h0M1252.0 66.8h0M1238.5 66.8h0M1227.1 67.9h0M1180.8 54.3h0M1172.8 60.0h0M1161.5 54.3h0M1166.0 54.3h0M1141.2 62.2h0M1132.1 67.9h0M1126.4 75.8h0M1094.8 91.6h0M1084.6 90.5h0M1071.0 92.8h0M1072.1 117.7h0M1089.1 131.3h0M1104.9 126.7h0M1112.9 123.3h0"/><path stroke="#96551a" d="M1248.6 197.8h0M1269.8 198.4h0M1275.3 198.2h0M1283.3 198.4h0M1228.4 202.3h0M1236.0 202.1h0M1241.6 200.4h0M1245.8 200.9h0M1252.5 202.7h0M1256.5 202.2h0M1263.5 201.0h0M1266.1 199.9h0M1271.3 200.4h0M1277.4 200.8h0M1282.8 201.5h0M1287.4 201.8h0M1291.8 201.8h0M1337.5 201.3h0M1342.8 202.6h0M1346.1 202.7h0M1215.8 205.4h0M1219.8 205.0h0M1226.0 205.1h0M1228.6 206.4h0M1234.9 206.6h0M1240.0 205.1h0M1245.6 205.7h0M1249.7 205.1h0M1254.2 204.1h0M1260.3 206.3h0M1264.3 204.8h0M1268.5 204.4h0M1274.9 205.9h0M1279.7 206.5h0M1284.3 205.6h0M1289.0 205.6h0M1293.2 206.8h0M1300.5 205.8h0M1305.2 207.0h0M1309.0 206.9h0M1313.6 206.0h0M1328.5 204.9h0M1335.1 207.0h0M1340.0 204.3h0M1344.4 206.3h0M1348.3 206.0h0M1207.6 211.4h0M1211.2 208.5h0M1218.3 211.0h0M1222.0 209.5h0M1225.7 210.0h0M1231.1 209.5h0M1235.9 211.3h0M1242.8 210.6h0M1247.2 210.8h0M1252.1 209.5h0M1257.8 211.2h0M1260.9 209.8h0M1267.6 210.6h0M1270.7 210.4h0M1277.7 209.7h0M1281.6 210.7h0M1287.1 209.2h0M1292.3 208.8h0M1296.7 210.8h0M1301.3 209.2h0M1307.2 209.7h0M1313.6 211.0h0M1317.7 210.5h0M1321.8 209.4h0M1327.6 209.3h0M1331.1 211.0h0M1336.4 211.4h0M1342.5 208.9h0M1347.4 211.0h0M1184.6 215.1h0M1190.7 214.7h0M1195.5 214.6h0M1200.6 214.9h0M1206.0 214.0h0M1210.9 214.2h0M1214.9 215.1h0M1219.5 214.1h0M1224.3 213.7h0M1230.2 213.2h0M1234.8 213.3h0M1238.7 214.6h0M1244.6 213.2h0M1248.5 215.0h0M1255.0 214.8h0M1259.1 214.6h0M1264.1 214.0h0M1269.0 213.3h0M1275.9 213.0h0M1279.6 213.4h0M1285.9 215.7h0M1290.9 213.6h0M1294.6 214.6h0M1300.6 214.8h0M1304.3 214.6h0M1309.3 215.2h0M1315.8 214.5h0M1318.8 214.2h0M1325.5 215.5h0M1329.6 214.8h0M1333.6 215.3h0M1340.9 213.0h0M1344.3 214.2h0M1158.5 219.6h0M1162.9 219.6h0M1166.1 220.0h0M1173.3 219.4h0M1176.0 217.2h0M1183.1 217.7h0M1185.8 217.4h0M1192.4 219.2h0M1195.7 219.4h0M1201.2 219.8h0M1206.6 219.0h0M1213.3 218.9h0M1216.6 217.3h0M1222.5 219.9h0M1226.6 219.0h0M1231.4 219.3h0M1237.2 219.5h0M1241.2 218.6h0M1246.1 218.8h0M1250.7 217.8h0M1255.8 219.5h0M1261.7 218.4h0M1265.7 217.7h0M1273.4 217.7h0M1277.7 219.3h0M1281.5 219.1h0M1287.2 220.0h0M1291.0 218.1h0M1301.2 218.5h0M1307.9 217.7h0M1310.7 217.6h0M1317.1 218.5h0M1323.5 217.2h0M1327.1 217.4h0M1331.3 217.8h0M1337.3 218.7h0M1343.3 217.8h0M1149.6 223.2h0M1153.8 224.1h0M1158.8 224.1h0M1165.3 223.2h0M1169.9 221.6h0M1175.2 221.6h0M1178.2 224.2h0M1184.7 221.5h0M1188.9 222.7h0M1193.9 222.5h0M1199.5 222.6h0M1204.1 221.5h0M1209.8 223.2h0M1214.5 223.6h0M1221.1 223.1h0M1224.7 223.4h0M1230.6 224.0h0M1234.5 221.6h0M1239.4 221.9h0M1243.4 221.9h0M1248.5 223.2h0M1254.9 223.9h0M1259.4 221.5h0M1265.4 222.9h0M1269.2 224.1h0M1273.7 221.6h0M1280.7 224.3h0M1285.7 221.6h0M1318.7 221.5h0M1325.9 222.9h0M1142.9 228.0h0M1145.8 227.2h0M1152.1 227.8h0M1156.1 228.6h0M1162.7 226.2h0M1168.6 227.3h0M1172.8 227.9h0M1176.9 227.2h0M1180.7 228.2h0M1187.6 226.0h0M1192.5 228.0h0M1196.2 228.3h0M1202.7 226.8h0M1207.2 228.0h0M1213.1 228.3h0M1216.5 227.4h0M1223.4 228.1h0M1226.1 226.2h0M1233.4 225.8h0M1236.0 225.9h0M1242.4 225.9h0M1246.4 228.6h0M1251.4 227.1h0M1256.6 228.1h0M1260.7 227.0h0M1265.8 228.7h0M1144.9 233.1h0M1148.7 231.6h0M1156.0 232.3h0M1158.2 230.5h0M1164.5 231.0h0M1168.9 231.8h0M1175.3 232.0h0M1180.5 230.6h0M1183.7 230.3h0M1190.0 232.9h0M1193.7 231.1h0M1199.6 230.6h0M1205.7 230.8h0M1210.2 230.5h0M1216.1 231.3h0M1219.5 231.3h0M1224.8 230.9h0M1229.7 231.8h0M1233.4 231.3h0M1240.6 231.3h0M1244.9 230.1h0M1250.0 230.3h0M1259.5 230.9h0M1140.8 235.3h0M1147.6 236.4h0M1153.4 235.0h0M1156.0 236.4h0M1162.4 235.3h0M1165.7 236.1h0M1172.2 235.9h0M1176.5 236.1h0M1182.3 236.4h0M1186.0 235.9h0M1193.0 234.8h0M1197.7 237.3h0M1200.8 235.1h0M1207.9 236.1h0M1149.8 238.8h0M1156.1 241.7h0M1159.9 240.7h0M1164.6 239.4h0M1170.7 239.3h0M1173.2 241.6h0M1180.4 238.9h0M1185.5 239.7h0M1190.2 239.2h0M1195.7 240.1h0M1199.8 240.4h0M1176.1 243.5h0M534.3 403.2h0M538.9 401.9h0M545.9 403.7h0M522.2 407.5h0M527.7 405.8h0M529.8 405.0h0M534.9 406.0h0M540.7 407.4h0M544.1 406.6h0M549.0 407.4h0M518.8 410.3h0M523.6 410.1h0M527.8 411.1h0M532.8 410.5h0M538.4 410.9h0M542.5 409.2h0M520.9 413.2h0M530.3 413.6h0M360.8 403.1h0M375.1 401.6h0M379.8 401.5h0M384.5 402.8h0M357.8 406.6h0M363.6 405.2h0M367.9 404.6h0M370.8 406.3h0M376.5 405.4h0M380.3 406.0h0M386.6 405.1h0M388.9 406.1h0M350.6 408.6h0M356.9 408.9h0M361.9 409.1h0M364.8 410.3h0M370.4 408.7h0M374.3 408.7h0M379.5 408.8h0M1099.3 248.1h0M1109.5 260.5h0M1111.7 267.3h0M1119.7 265.0h0M1138.9 248.1h0M1149.1 248.1h0M1162.6 248.1h0M1244.1 240.2h0M1150.2 210.7h0M1203.4 207.3h0M1218.1 202.8h0M1349.3 194.9h0M1341.4 220.9h0M1324.5 225.4h0M1267.9 234.5h0M1220.4 237.9h0M1179.6 246.9h0"/><path stroke="#c29200" d="M1241.4 282.0h0M1251.3 281.3h0M1256.3 280.5h0M1194.2 284.2h0M1198.2 286.3h0M1207.7 285.8h0M1228.4 286.5h0M1234.5 284.6h0M1238.4 283.8h0M1243.1 285.4h0M1248.2 285.6h0M1253.4 283.5h0M1257.5 283.6h0M1264.4 286.0h0M1269.0 285.8h0M1274.1 284.0h0M1278.1 284.6h0M1284.1 286.0h0M1176.0 289.9h0M1180.4 290.0h0M1185.2 290.6h0M1192.7 288.7h0M1195.9 289.9h0M1202.7 289.3h0M1206.2 289.4h0M1210.2 290.4h0M1216.8 290.0h0M1222.4 288.2h0M1225.8 289.9h0M1230.4 289.5h0M1236.4 288.8h0M1240.1 289.6h0M1245.2 290.1h0M1252.5 288.3h0M1256.8 289.6h0M1261.7 288.7h0M1265.6 290.7h0M1272.2 288.2h0M1275.5 289.0h0M1281.2 288.2h0M1287.6 290.0h0M1290.8 289.0h0M1295.4 288.6h0M1300.6 290.5h0M1315.0 290.1h0M1163.7 294.8h0M1168.2 295.0h0M1172.6 294.6h0M1180.3 294.0h0M1183.9 293.8h0M1188.6 293.1h0M1194.6 293.4h0M1199.2 292.3h0M1205.4 295.1h0M1208.2 294.4h0M1214.0 294.5h0M1218.0 294.7h0M1223.8 294.0h0M1229.3 292.3h0M1233.9 294.3h0M1237.8 293.5h0M1244.0 292.8h0M1249.7 292.9h0M1253.8 293.9h0M1257.9 294.6h0M1262.4 292.6h0M1269.7 294.1h0M1274.5 294.8h0M1279.5 294.6h0M1283.0 295.0h0M1289.5 293.3h0M1294.8 292.9h0M1299.8 294.3h0M1302.8 294.8h0M1309.6 293.6h0M1314.8 293.6h0M1320.1 292.3h0M1322.6 294.2h0M1328.9 293.7h0M1333.3 294.2h0M1340.4 293.6h0M1344.7 293.4h0M1348.8 293.7h0M1354.9 293.2h0M1357.5 294.5h0M1365.0 295.0h0M1155.4 299.0h0M1160.0 298.1h0M1166.4 299.3h0M1171.0 298.5h0M1176.4 298.9h0M1181.5 299.4h0M1186.5 296.9h0M1192.7 296.8h0M1195.0 297.6h0M1201.9 298.4h0M1205.2 298.4h0M1212.0 298.6h0M1216.7 297.5h0M1220.1 296.9h0M1225.3 297.9h0M1231.8 298.1h0M1236.9 297.6h0M1240.4 298.3h0M1247.4 297.6h0M1250.4 299.3h0M1255.2 298.5h0M1261.1 297.8h0M1267.6 297.1h0M1272.3 299.3h0M1277.4 299.5h0M1282.2 296.7h0M1285.9 296.8h0M1290.7 297.9h0M1296.1 299.2h0M1302.7 298.6h0M1306.5 299.1h0M1310.1 296.6h0M1317.5 298.1h0M1322.5 298.5h0M1326.5 297.7h0M1332.1 299.3h0M1336.5 297.2h0M1341.1 297.4h0M1347.4 297.5h0M1351.5 297.7h0M1153.8 300.9h0M1157.5 302.4h0M1162.7 302.9h0M1168.1 303.2h0M1173.4 301.9h0M1178.5 303.0h0M1184.2 303.5h0M1188.3 303.6h0M1193.1 303.4h0M1199.9 303.0h0M1203.1 301.1h0M1208.4 302.2h0M1215.3 301.6h0M1219.4 302.1h0M1222.7 303.8h0M1228.1 301.2h0M1232.8 301.0h0M1239.2 300.9h0M1244.6 301.5h0M1248.3 303.4h0M1252.8 303.2h0M1260.3 303.3h0M1263.3 301.3h0M1269.9 301.1h0M1273.5 302.7h0M1279.9 302.6h0M1283.9 301.8h0M1289.5 303.0h0M1294.8 302.2h0M1299.7 302.0h0M1302.9 302.7h0M1307.5 301.3h0M1315.4 301.9h0M1320.2 303.7h0M1152.0 306.8h0M1157.1 305.8h0M1161.3 306.6h0M1165.9 306.6h0M1170.3 306.9h0M1176.8 306.8h0M1182.2 307.7h0M1186.8 306.5h0M1191.0 306.2h0M1197.7 305.4h0M1200.3 306.3h0M1205.4 307.1h0M1212.8 307.2h0M1216.5 306.7h0M1221.0 306.7h0M1227.0 306.2h0M1230.5 305.8h0M1235.0 306.9h0M1241.9 305.7h0M1246.6 306.6h0M1250.3 305.6h0M1257.2 307.9h0M1260.8 306.9h0M1266.2 306.8h0M1270.9 306.7h0M1275.4 305.9h0M1280.4 306.7h0M1286.7 306.9h0M1290.8 307.1h0M1301.0 305.6h0M1144.8 310.8h0M1149.7 309.5h0M1152.5 312.4h0M1158.8 311.0h0M1162.5 312.1h0M1168.4 312.3h0M1172.7 310.6h0M1180.0 312.2h0M1185.0 309.7h0M1189.7 312.0h0M1195.0 311.7h0M1197.9 311.0h0M1202.8 309.6h0M1209.1 311.4h0M1215.0 309.7h0M1219.9 311.0h0M1224.6 310.4h0M1228.8 311.7h0M1233.4 309.6h0M1238.3 311.5h0M1248.9 311.1h0M1259.1 310.7h0M1264.7 309.9h0M1142.6 314.1h0M1145.0 316.0h0M1151.6 314.3h0M1157.7 316.1h0M1160.5 316.1h0M1165.3 315.4h0M1171.3 315.1h0M1175.1 316.0h0M1150.2 320.5h0M1153.8 319.3h0M1157.9 320.3h0M1165.0 319.3h0M474.0 427.9h0M483.0 427.0h0M488.3 428.5h0M490.8 427.9h0M501.0 427.7h0M458.4 431.5h0M462.8 431.5h0M466.3 431.3h0M470.5 431.8h0M475.7 431.4h0M480.6 431.9h0M485.5 430.5h0M488.9 431.5h0M494.5 431.6h0M499.6 432.2h0M503.2 430.5h0M507.3 432.5h0M511.1 432.3h0M516.8 431.1h0M521.3 431.0h0M526.1 430.9h0M529.6 430.5h0M534.3 432.1h0M539.2 430.2h0M544.3 432.1h0M547.3 431.3h0M474.1 434.3h0M488.4 434.7h0M491.4 435.5h0M495.2 434.4h0M499.9 436.4h0M505.0 435.8h0M509.6 434.2h0M514.9 435.2h0M517.7 434.8h0M524.3 435.1h0M528.3 434.3h0M533.4 435.8h0M536.5 434.7h0M542.5 434.5h0M547.4 434.2h0M550.0 435.5h0M328.0 419.7h0M331.0 419.3h0M336.6 420.2h0M340.1 419.6h0M345.7 419.3h0M349.3 419.3h0M354.3 419.7h0M315.4 422.2h0M319.7 424.1h0M324.9 422.7h0M329.0 421.5h0M333.5 424.1h0M338.6 423.4h0M342.9 423.5h0M347.4 424.1h0M352.8 422.2h0M356.4 421.8h0M360.8 423.3h0M367.1 423.1h0M318.1 426.0h0M322.7 425.4h0M328.3 427.8h0M331.4 427.8h0M337.1 427.1h0M340.2 426.7h0M344.7 427.2h0M350.4 426.8h0M354.1 426.7h0M1071.0 314.8h0M1077.8 319.4h0M1084.6 332.9h0M1093.6 316.0h0M1095.9 323.9h0M1104.9 311.4h0M1111.7 313.7h0M1107.2 326.1h0M1102.7 332.9h0M1116.3 336.3h0M1118.5 319.4h0M1123.0 326.1h0M1129.8 319.4h0M1136.6 323.9h0M1143.4 328.4h0M1093.6 303.5h0M1127.6 328.4h0M1114.0 328.4h0M1144.5 292.2h0M1193.2 283.1h0M1255.4 277.5h0M1292.8 314.8h0M1353.9 286.5h0M1372.0 289.9h0M1358.4 303.5h0M1276.9 312.6h0M1263.4 313.7h0M1028.7 320.8h0M1007.6 334.4h0M1046.1 328.5h0M1050.2 345.0h0"/></g><rect x="126" y="2.5" width="1259.2" height="777.8" fill="none" stroke="#000" stroke-width="2"/><path stroke="#000" stroke-width="1.6" d="M125.75 780.3v-4.5M125.75 2.5v4.5M180.50 780.3v-4.5M180.50 2.5v4.5M235.25 780.3v-4.5M235.25 2.5v4.5M290.00 780.3v-7.5M290.00 2.5v7.5M344.75 780.3v-4.5M344.75 2.5v4.5M399.50 780.3v-4.5M399.50 2.5v4.5M454.25 780.3v-4.5M454.25 2.5v4.5M509.00 780.3v-4.5M509.00 2.5v4.5M563.75 780.3v-7.5M563.75 2.5v7.5M618.50 780.3v-4.5M618.50 2.5v4.5M673.25 780.3v-4.5M673.25 2.5v4.5M728.00 780.3v-4.5M728.00 2.5v4.5M782.75 780.3v-4.5M782.75 2.5v4.5M837.50 780.3v-7.5M837.50 2.5v7.5M892.25 780.3v-4.5M892.25 2.5v4.5M947.00 780.3v-4.5M947.00 2.5v4.5M1001.75 780.3v-4.5M1001.75 2.5v4.5M1056.50 780.3v-4.5M1056.50 2.5v4.5M1111.25 780.3v-7.5M1111.25 2.5v7.5M1166.00 780.3v-4.5M1166.00 2.5v4.5M1220.75 780.3v-4.5M1220.75 2.5v4.5M1275.50 780.3v-4.5M1275.50 2.5v4.5M1330.25 780.3v-4.5M1330.25 2.5v4.5M1385.00 780.3v-7.5M1385.00 2.5v7.5M126 781.00h7.5M1385.2 781.00h-7.5M126 744.80h4.5M1385.2 744.80h-4.5M126 708.60h4.5M1385.2 708.60h-4.5M126 672.40h4.5M1385.2 672.40h-4.5M126 636.20h4.5M1385.2 636.20h-4.5M126 600.00h7.5M1385.2 600.00h-7.5M126 563.80h4.5M1385.2 563.80h-4.5M126 527.60h4.5M1385.2 527.60h-4.5M126 491.40h4.5M1385.2 491.40h-4.5M126 455.20h4.5M1385.2 455.20h-4.5M126 419.00h7.5M1385.2 419.00h-7.5M126 382.80h4.5M1385.2 382.80h-4.5M126 346.60h4.5M1385.2 346.60h-4.5M126 310.40h4.5M1385.2 310.40h-4.5M126 274.20h4.5M1385.2 274.20h-4.5M126 238.00h7.5M1385.2 238.00h-7.5M126 201.80h4.5M1385.2 201.80h-4.5M126 165.60h4.5M1385.2 165.60h-4.5M126 129.40h4.5M1385.2 129.40h-4.5M126 93.20h4.5M1385.2 93.20h-4.5M126 57.00h7.5M1385.2 57.00h-7.5M126 20.80h4.5M1385.2 20.80h-4.5"/><g font-family="Liberation Sans" font-size="28.4" letter-spacing="-0.9" fill="#000" stroke="#000" stroke-width="0.35"><text x="290.00" y="811" text-anchor="middle">−0.005</text><text x="563.75" y="811" text-anchor="middle">0.000</text><text x="837.50" y="811" text-anchor="middle">0.005</text><text x="1111.25" y="811" text-anchor="middle">0.010</text><text x="1385.00" y="811" text-anchor="middle">0.015</text><text x="118.8" y="790.00" text-anchor="end">−0.02</text><text x="118.8" y="609.00" text-anchor="end">−0.01</text><text x="118.8" y="428.00" text-anchor="end">0.00</text><text x="118.8" y="247.00" text-anchor="end">0.01</text><text x="118.8" y="66.00" text-anchor="end">0.02</text></g><text x="714.8" y="866.3" font-family="Liberation Sans" font-size="43.5" letter-spacing="-1.3" stroke="#000" stroke-width="0.3">PC1</text><text transform="translate(31.2,432.9) rotate(-90)" font-family="Liberation Sans" font-size="43.5" letter-spacing="-1.3" stroke="#000" stroke-width="0.3">PC2</text><g font-family="Liberation Sans" font-weight="bold" font-size="37.4" fill="#666" stroke="#666" stroke-width="1.2" stroke-linejoin="round"><text x="619" y="124.2">SEQC</text><text x="185.6" y="265.3">ABRF</text><text x="509.8" y="743">GEU</text></g><g fill="none" stroke="#555" stroke-width="1.4"><path d="M673.6 129.5C678.2 133.5 692.6 146.6 701.5 153.6C710.4 160.6 718.5 166.5 727.0 171.4C735.5 176.3 743.8 179.8 752.3 182.8C760.8 185.8 768.0 187.7 777.7 189.2C787.4 190.7 800.1 191.7 810.7 191.7C821.3 191.7 829.8 190.7 841.2 189.2C852.6 187.7 868.8 184.5 879.3 182.8C889.8 181.1 899.9 179.5 904.0 178.8"/><path d="M235.2 274L328.3 311.5"/><path d="M564.3 708.2C566.9 707.2 573.1 703.7 580.0 702.0C586.9 700.3 596.2 698.0 605.4 698.2C614.6 698.4 625.4 700.5 635.0 703.0C644.6 705.5 651.0 707.9 663.1 713.3C675.2 718.7 692.0 729.0 707.5 735.5C723.0 742.0 744.2 748.8 756.0 752.5C767.8 756.2 770.7 756.3 778.0 757.7C785.3 759.1 794.3 760.3 800.0 761.0C805.7 761.7 806.3 762.1 812.0 761.7C817.7 761.3 826.7 760.6 834.0 758.8C841.3 757.0 849.4 754.0 856.0 751.0C862.6 748.0 870.8 742.7 873.7 741.0"/></g><g fill="#666"><polygon points="947.4,161.5 896,168.9 904.1,178.8 906.2,193.9"/><polygon points="372.5,327.8 330.6,296.5 328.3,311.5 319,322.7"/><polygon points="909.4,707.5 863.4,736.1 873.8,740.3 884.2,755.4"/></g></svg></body></html>
